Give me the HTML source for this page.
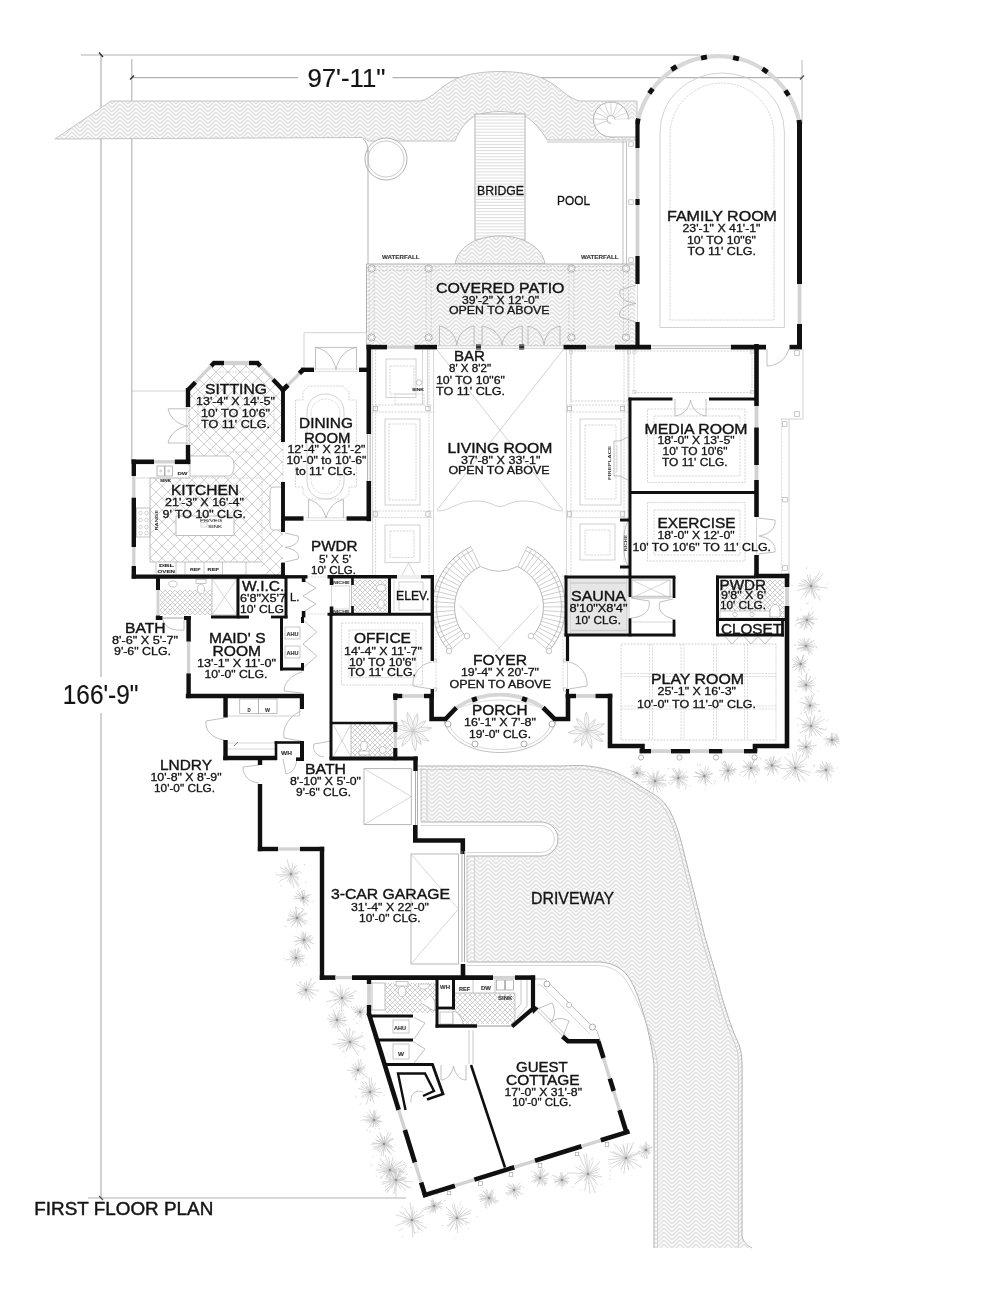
<!DOCTYPE html>
<html><head><meta charset="utf-8"><title>First Floor Plan</title>
<style>
html,body{margin:0;padding:0;background:#fff;}
body{width:1000px;height:1294px;overflow:hidden;}
svg{display:block;font-family:"Liberation Sans",sans-serif;filter:grayscale(1);}
</style></head><body>
<svg width="1000" height="1294" viewBox="0 0 1000 1294">
<rect width="1000" height="1294" fill="#fff"/>
<defs>
<pattern id="hb" width="16" height="4" patternUnits="userSpaceOnUse">
<rect width="16" height="4" fill="#fcfcfc"/><path d="M0,4 L8,-4 M0,8 L8,0 M0,12 L8,4 M8,-8 L16,0 M8,-4 L16,4 M8,0 L16,8" stroke="#dedede" stroke-width="1.25" fill="none"/>
</pattern>
<pattern id="dia" width="12" height="12" patternUnits="userSpaceOnUse">
<path d="M0,0 L12,12 M12,0 L0,12" stroke="#c4c4c4" stroke-width="0.8" fill="none"/>
</pattern>
<pattern id="xh" width="5" height="5" patternUnits="userSpaceOnUse">
<path d="M0,0 L5,5 M5,0 L0,5" stroke="#b8b8b8" stroke-width="0.65" fill="none"/>
</pattern>
</defs>
<polyline points="81,55 700,55" fill="none" stroke="#b2b2b2" stroke-width="1.1"/>
<polyline points="101,55 101,677" fill="none" stroke="#b2b2b2" stroke-width="1.2"/>
<polyline points="101,713 101,1198" fill="none" stroke="#b2b2b2" stroke-width="1.2"/>
<polyline points="88,1198 406,1198" fill="none" stroke="#b2b2b2" stroke-width="1.1"/>
<polyline points="131.8,59 131.8,462" fill="none" stroke="#b2b2b2" stroke-width="1.1"/>
<polyline points="131.8,77.6 298,77.6" fill="none" stroke="#b2b2b2" stroke-width="1.1"/>
<polyline points="392.6,77.6 802,77.6" fill="none" stroke="#b2b2b2" stroke-width="1.1"/>
<polyline points="802,60 802,124" fill="none" stroke="#b2b2b2" stroke-width="0.9"/>
<polyline points="99,52.5 103,57" fill="none" stroke="#333" stroke-width="1.4"/>
<polyline points="130,79.5 134,75.5" fill="none" stroke="#333" stroke-width="1.4"/>
<polyline points="800,79.5 804,75.5" fill="none" stroke="#555" stroke-width="1.4"/>
<polyline points="99,1196 103,1200" fill="none" stroke="#555" stroke-width="1.2"/>
<path d="M111,101 L420,101 C432,99 440,86 456,79 C476,69 524,69 544,79 C560,86 566,98 580,101 L637,101 L637,140 L547,140 C540,128 532,120 525,116 C510,110 490,110 475,116 C468,120 460,128 455,141 L368,141 C366,139 364,137.5 360,137.5 L55,139 Z" fill="url(#hb)" stroke="#bdbdbd" stroke-width="0.9" />
<circle cx="386" cy="159" r="21" fill="#fff" stroke="#aaa" stroke-width="0.9"/>
<circle cx="386" cy="159" r="18" fill="none" stroke="#bbb" stroke-width="0.8"/>
<path d="M368,150 L368,264" fill="none" stroke="#aaa" stroke-width="0.9" />
<path d="M363,139 C366,141 368,145 368,152" fill="none" stroke="#aaa" stroke-width="0.9" />
<polyline points="623,141 623,264" fill="none" stroke="#b0b0b0" stroke-width="0.8"/>
<polyline points="626.5,141 626.5,264" fill="none" stroke="#b0b0b0" stroke-width="0.8"/>
<polyline points="547,142 626,142" fill="none" stroke="#b8b8b8" stroke-width="0.8"/>
<circle cx="611" cy="119.5" r="17.5" fill="#fff" stroke="#aaa" stroke-width="0.9"/>
<circle cx="611" cy="119.5" r="4" fill="none" stroke="#aaa" stroke-width="0.8"/>
<polyline points="607.2,120.9 594.6,125.5" fill="none" stroke="#b8b8b8" stroke-width="0.6"/>
<polyline points="607,119.4 593.5,118.9" fill="none" stroke="#b8b8b8" stroke-width="0.6"/>
<polyline points="607.3,117.9 595,112.4" fill="none" stroke="#b8b8b8" stroke-width="0.6"/>
<polyline points="608.2,116.6 598.8,106.9" fill="none" stroke="#b8b8b8" stroke-width="0.6"/>
<polyline points="609.5,115.8 604.4,103.3" fill="none" stroke="#b8b8b8" stroke-width="0.6"/>
<polyline points="611,115.5 611,102" fill="none" stroke="#b8b8b8" stroke-width="0.6"/>
<polyline points="612.5,115.8 617.6,103.3" fill="none" stroke="#b8b8b8" stroke-width="0.6"/>
<polyline points="613.8,116.6 623.2,106.9" fill="none" stroke="#b8b8b8" stroke-width="0.6"/>
<polyline points="614.7,117.9 627,112.4" fill="none" stroke="#b8b8b8" stroke-width="0.6"/>
<polyline points="615,119.4 628.5,118.9" fill="none" stroke="#b8b8b8" stroke-width="0.6"/>
<polyline points="614.8,120.9 627.4,125.5" fill="none" stroke="#b8b8b8" stroke-width="0.6"/>
<polyline points="614,122.2 624,131.2" fill="none" stroke="#b8b8b8" stroke-width="0.6"/>
<rect x="611" y="119.5" width="26" height="17.5" fill="#fff" stroke="#fff" stroke-width="0"/>
<polyline points="611,137 637,137" fill="none" stroke="#aaa" stroke-width="0.8"/>
<rect x="475" y="114" width="50" height="126" fill="#fff" stroke="#aaa" stroke-width="0.9"/>
<polyline points="475,117 525,117" fill="none" stroke="#cfcfcf" stroke-width="0.7"/>
<polyline points="475,120 525,120" fill="none" stroke="#cfcfcf" stroke-width="0.7"/>
<polyline points="475,123.1 525,123.1" fill="none" stroke="#cfcfcf" stroke-width="0.7"/>
<polyline points="475,126.2 525,126.2" fill="none" stroke="#cfcfcf" stroke-width="0.7"/>
<polyline points="475,129.2 525,129.2" fill="none" stroke="#cfcfcf" stroke-width="0.7"/>
<polyline points="475,132.2 525,132.2" fill="none" stroke="#cfcfcf" stroke-width="0.7"/>
<polyline points="475,135.3 525,135.3" fill="none" stroke="#cfcfcf" stroke-width="0.7"/>
<polyline points="475,138.3 525,138.3" fill="none" stroke="#cfcfcf" stroke-width="0.7"/>
<polyline points="475,141.4 525,141.4" fill="none" stroke="#cfcfcf" stroke-width="0.7"/>
<polyline points="475,144.4 525,144.4" fill="none" stroke="#cfcfcf" stroke-width="0.7"/>
<polyline points="475,147.5 525,147.5" fill="none" stroke="#cfcfcf" stroke-width="0.7"/>
<polyline points="475,150.6 525,150.6" fill="none" stroke="#cfcfcf" stroke-width="0.7"/>
<polyline points="475,153.6 525,153.6" fill="none" stroke="#cfcfcf" stroke-width="0.7"/>
<polyline points="475,156.7 525,156.7" fill="none" stroke="#cfcfcf" stroke-width="0.7"/>
<polyline points="475,159.7 525,159.7" fill="none" stroke="#cfcfcf" stroke-width="0.7"/>
<polyline points="475,162.8 525,162.8" fill="none" stroke="#cfcfcf" stroke-width="0.7"/>
<polyline points="475,165.8 525,165.8" fill="none" stroke="#cfcfcf" stroke-width="0.7"/>
<polyline points="475,168.8 525,168.8" fill="none" stroke="#cfcfcf" stroke-width="0.7"/>
<polyline points="475,171.9 525,171.9" fill="none" stroke="#cfcfcf" stroke-width="0.7"/>
<polyline points="475,174.9 525,174.9" fill="none" stroke="#cfcfcf" stroke-width="0.7"/>
<polyline points="475,178 525,178" fill="none" stroke="#cfcfcf" stroke-width="0.7"/>
<polyline points="475,181.1 525,181.1" fill="none" stroke="#cfcfcf" stroke-width="0.7"/>
<polyline points="475,184.1 525,184.1" fill="none" stroke="#cfcfcf" stroke-width="0.7"/>
<polyline points="475,187.1 525,187.1" fill="none" stroke="#cfcfcf" stroke-width="0.7"/>
<polyline points="475,190.2 525,190.2" fill="none" stroke="#cfcfcf" stroke-width="0.7"/>
<polyline points="475,193.2 525,193.2" fill="none" stroke="#cfcfcf" stroke-width="0.7"/>
<polyline points="475,196.3 525,196.3" fill="none" stroke="#cfcfcf" stroke-width="0.7"/>
<polyline points="475,199.3 525,199.3" fill="none" stroke="#cfcfcf" stroke-width="0.7"/>
<polyline points="475,202.4 525,202.4" fill="none" stroke="#cfcfcf" stroke-width="0.7"/>
<polyline points="475,205.4 525,205.4" fill="none" stroke="#cfcfcf" stroke-width="0.7"/>
<polyline points="475,208.5 525,208.5" fill="none" stroke="#cfcfcf" stroke-width="0.7"/>
<polyline points="475,211.6 525,211.6" fill="none" stroke="#cfcfcf" stroke-width="0.7"/>
<polyline points="475,214.6 525,214.6" fill="none" stroke="#cfcfcf" stroke-width="0.7"/>
<polyline points="475,217.6 525,217.6" fill="none" stroke="#cfcfcf" stroke-width="0.7"/>
<polyline points="475,220.7 525,220.7" fill="none" stroke="#cfcfcf" stroke-width="0.7"/>
<polyline points="475,223.8 525,223.8" fill="none" stroke="#cfcfcf" stroke-width="0.7"/>
<polyline points="475,226.8 525,226.8" fill="none" stroke="#cfcfcf" stroke-width="0.7"/>
<polyline points="475,229.8 525,229.8" fill="none" stroke="#cfcfcf" stroke-width="0.7"/>
<polyline points="475,232.9 525,232.9" fill="none" stroke="#cfcfcf" stroke-width="0.7"/>
<polyline points="475,235.9 525,235.9" fill="none" stroke="#cfcfcf" stroke-width="0.7"/>
<polyline points="475,239 525,239" fill="none" stroke="#cfcfcf" stroke-width="0.7"/>
<path d="M455,264 C458,246 478,236 500,236 C522,236 542,246 545,264 Z" fill="url(#hb)" stroke="#b5b5b5" stroke-width="0.9" />
<rect x="366.5" y="264" width="269" height="82" fill="url(#hb)" stroke="none" stroke-width="0"/>
<polyline points="366.5,264 635,264" fill="none" stroke="#aaa" stroke-width="0.9"/>
<polyline points="366.5,264 366.5,346" fill="none" stroke="#aaa" stroke-width="0.9"/>
<circle cx="371.6" cy="268.5" r="3.6" fill="#fff" stroke="#999" stroke-width="0.8"/>
<circle cx="371.6" cy="268.5" r="2.2" fill="none" stroke="#bbb" stroke-width="0.6"/>
<circle cx="371.6" cy="337.5" r="3.6" fill="#fff" stroke="#999" stroke-width="0.8"/>
<circle cx="371.6" cy="337.5" r="2.2" fill="none" stroke="#bbb" stroke-width="0.6"/>
<circle cx="428.6" cy="268.5" r="3.6" fill="#fff" stroke="#999" stroke-width="0.8"/>
<circle cx="428.6" cy="268.5" r="2.2" fill="none" stroke="#bbb" stroke-width="0.6"/>
<circle cx="428.6" cy="337.5" r="3.6" fill="#fff" stroke="#999" stroke-width="0.8"/>
<circle cx="428.6" cy="337.5" r="2.2" fill="none" stroke="#bbb" stroke-width="0.6"/>
<circle cx="571.4" cy="268.5" r="3.6" fill="#fff" stroke="#999" stroke-width="0.8"/>
<circle cx="571.4" cy="268.5" r="2.2" fill="none" stroke="#bbb" stroke-width="0.6"/>
<circle cx="571.4" cy="337.5" r="3.6" fill="#fff" stroke="#999" stroke-width="0.8"/>
<circle cx="571.4" cy="337.5" r="2.2" fill="none" stroke="#bbb" stroke-width="0.6"/>
<circle cx="626" cy="268.5" r="3.6" fill="#fff" stroke="#999" stroke-width="0.8"/>
<circle cx="626" cy="268.5" r="2.2" fill="none" stroke="#bbb" stroke-width="0.6"/>
<circle cx="626" cy="337.5" r="3.6" fill="#fff" stroke="#999" stroke-width="0.8"/>
<circle cx="626" cy="337.5" r="2.2" fill="none" stroke="#bbb" stroke-width="0.6"/>
<polyline points="369.1,272 369.1,334" fill="none" stroke="#c0c0c0" stroke-width="0.7" stroke-dasharray="2 1.5"/>
<polyline points="374.1,272 374.1,334" fill="none" stroke="#c0c0c0" stroke-width="0.7" stroke-dasharray="2 1.5"/>
<polyline points="426.1,272 426.1,334" fill="none" stroke="#c0c0c0" stroke-width="0.7" stroke-dasharray="2 1.5"/>
<polyline points="431.1,272 431.1,334" fill="none" stroke="#c0c0c0" stroke-width="0.7" stroke-dasharray="2 1.5"/>
<polyline points="568.9,272 568.9,334" fill="none" stroke="#c0c0c0" stroke-width="0.7" stroke-dasharray="2 1.5"/>
<polyline points="573.9,272 573.9,334" fill="none" stroke="#c0c0c0" stroke-width="0.7" stroke-dasharray="2 1.5"/>
<polyline points="623.5,272 623.5,334" fill="none" stroke="#c0c0c0" stroke-width="0.7" stroke-dasharray="2 1.5"/>
<polyline points="628.5,272 628.5,334" fill="none" stroke="#c0c0c0" stroke-width="0.7" stroke-dasharray="2 1.5"/>
<polyline points="375,266.5 623,266.5" fill="none" stroke="#c0c0c0" stroke-width="0.7" stroke-dasharray="2 1.5"/>
<polyline points="375,270.5 623,270.5" fill="none" stroke="#c0c0c0" stroke-width="0.7" stroke-dasharray="2 1.5"/>
<path d="M418,766 L560,766 C564.7,766 578.7,764.9 588,766 C597.3,767.1 606.6,768.8 616,772.6 C625.4,776.4 636.5,783.7 644.6,788.8 C652.7,793.9 659,796.5 664.4,803 C669.8,809.5 673.1,817.2 677,828 C680.9,838.8 684.2,854.2 687.8,868 C691.4,881.8 695.6,899 698.6,911 C701.6,923 702.8,929.2 705.8,940 C708.8,950.8 713.8,966.4 716.5,976 C719.2,985.6 719.4,988.7 722,997.4 C724.6,1006.1 729,1019.6 732,1028 C735,1036.4 738.3,1041.7 740,1048 C741.7,1054.3 741.7,1057.3 742,1066 C742.3,1074.7 742,1094.3 742,1100 L742,1236 C743,1242 748,1246 752,1248 L654,1248 L654,1066 C651,1035 640,997 631,981 C625,970 615,963 600,962 L467,962 L467,856 L541,856 A17,17 0 0 0 541,822 L421,822 L421,766 Z" fill="url(#hb)" stroke="none" stroke-width="0" />
<path d="M418,766 L560,766 C564.7,766 578.7,764.9 588,766 C597.3,767.1 606.6,768.8 616,772.6 C625.4,776.4 636.5,783.7 644.6,788.8 C652.7,793.9 659,796.5 664.4,803 C669.8,809.5 673.1,817.2 677,828 C680.9,838.8 684.2,854.2 687.8,868 C691.4,881.8 695.6,899 698.6,911 C701.6,923 702.8,929.2 705.8,940 C708.8,950.8 713.8,966.4 716.5,976 C719.2,985.6 719.4,988.7 722,997.4 C724.6,1006.1 729,1019.6 732,1028 C735,1036.4 738.3,1041.7 740,1048 C741.7,1054.3 741.7,1057.3 742,1066 C742.3,1074.7 742,1094.3 742,1100 L742,1236 C743,1242 748,1246 752,1248" fill="none" stroke="#ababab" stroke-width="0.9" />
<path d="M418,769.5 L560,769.5 C564.6,769.5 578.5,768.4 587.6,769.5 C596.7,770.5 605.5,772.1 614.7,775.8 C623.9,779.6 634.9,786.9 642.7,791.8 C650.6,796.7 656.5,799 661.7,805.2 C666.9,811.5 669.9,818.6 673.7,829.2 C677.5,839.8 680.8,855.1 684.4,868.9 C688,882.7 692.2,899.8 695.2,911.8 C698.2,923.9 699.4,930.1 702.4,940.9 C705.4,951.8 710.4,967.4 713.1,977 C715.8,986.5 716.1,989.7 718.6,998.4 C721.2,1007.1 725.7,1020.8 728.7,1029.2 C731.7,1037.6 735,1042.7 736.6,1048.9 C738.2,1055.1 738.2,1057.6 738.5,1066.1 C738.8,1074.7 738.5,1094.4 738.5,1100 L738.5,1248" fill="none" stroke="#c4c4c4" stroke-width="0.7" />
<path d="M467,962 L600,962 C615,963 625,970 631,981 C640,997 651,1035 654,1066 L654,1248" fill="none" stroke="#ababab" stroke-width="0.9" />
<path d="M467,965.5 L599,965.5 C613,966.5 622,973 628,983.5 C637,999 654.5,1037 657.5,1066 L657.5,1248" fill="none" stroke="#c4c4c4" stroke-width="0.7" />
<path d="M421,822 L541,822 A17,17 0 0 1 541,856 L467,856" fill="none" stroke="#ababab" stroke-width="0.9" />
<path d="M421,825.5 L541,825.5 A13.5,13.5 0 0 1 541,852.5 L467,852.5" fill="none" stroke="#c4c4c4" stroke-width="0.7" />
<polyline points="421,768 421,822" fill="none" stroke="#b8b8b8" stroke-width="0.8"/>
<polyline points="467,856 467,962" fill="none" stroke="#b8b8b8" stroke-width="0.8"/>
<polyline points="427,770 427,822" fill="none" stroke="#c8c8c8" stroke-width="0.7"/>
<polyline points="474.5,856 474.5,962" fill="none" stroke="#c8c8c8" stroke-width="0.7"/>
<polygon points="214,363 258,363 283,390 283,576 262,576 262,562 150,562 150,478 188,478 188,390" fill="url(#dia)" stroke="none"/>
<path d="M190,456 L228,456 C236,456 236,476 228,476 L190,476 Z" fill="#fff" stroke="#b0b0b0" stroke-width="0.8" />
<rect x="176" y="516" width="58" height="19.5" fill="#fff" stroke="#b0b0b0" stroke-width="0.8"/>
<text x="200" y="521.5" font-size="3.9" textLength="22" lengthAdjust="spacingAndGlyphs" font-weight="normal" fill="#404040" stroke="#404040" stroke-width="0.10" >PR/VEG</text>
<text x="208" y="527.5" font-size="3.9" textLength="14" lengthAdjust="spacingAndGlyphs" font-weight="normal" fill="#404040" stroke="#404040" stroke-width="0.10" >SINK</text>
<rect x="201" y="522.5" width="6" height="4.5" fill="none" stroke="#aaa" stroke-width="0.5"/>
<polyline points="150,478 150,562" fill="none" stroke="#b0b0b0" stroke-width="0.8"/>
<polyline points="150,478 190,478" fill="none" stroke="#b0b0b0" stroke-width="0.8"/>
<polyline points="150,562 262,562" fill="none" stroke="#b0b0b0" stroke-width="0.8"/>
<polyline points="262,478 262,562" fill="none" stroke="#c6c6c6" stroke-width="0.7" stroke-dasharray="2.2 1"/>
<polyline points="150,478 262,478" fill="none" stroke="#c6c6c6" stroke-width="0.7" stroke-dasharray="2.2 1"/>
<rect x="157" y="466" width="7.5" height="10" fill="none" stroke="#999" stroke-width="0.7"/>
<rect x="165" y="466" width="7.5" height="10" fill="none" stroke="#999" stroke-width="0.7"/>
<circle cx="160.7" cy="471" r="1" fill="none" stroke="#999" stroke-width="0.5"/>
<circle cx="168.7" cy="471" r="1" fill="none" stroke="#999" stroke-width="0.5"/>
<text x="160" y="482.3" font-size="4" textLength="11" lengthAdjust="spacingAndGlyphs" font-weight="bold" fill="#303030" stroke="#303030" stroke-width="0.10" >SINK</text>
<text x="177.5" y="475.3" font-size="4.4" textLength="10" lengthAdjust="spacingAndGlyphs" font-weight="bold" fill="#303030" stroke="#303030" stroke-width="0.11" >DW</text>
<rect x="136.5" y="508" width="13.5" height="29" fill="none" stroke="#aaa" stroke-width="0.7"/>
<circle cx="140.5" cy="513" r="1.8" fill="none" stroke="#aaa" stroke-width="0.5"/>
<circle cx="146.5" cy="513" r="1.8" fill="none" stroke="#aaa" stroke-width="0.5"/>
<circle cx="140.5" cy="520" r="1.8" fill="none" stroke="#aaa" stroke-width="0.5"/>
<circle cx="146.5" cy="520" r="1.8" fill="none" stroke="#aaa" stroke-width="0.5"/>
<circle cx="140.5" cy="527" r="1.8" fill="none" stroke="#aaa" stroke-width="0.5"/>
<circle cx="146.5" cy="527" r="1.8" fill="none" stroke="#aaa" stroke-width="0.5"/>
<circle cx="140.5" cy="533" r="1.8" fill="none" stroke="#aaa" stroke-width="0.5"/>
<circle cx="146.5" cy="533" r="1.8" fill="none" stroke="#aaa" stroke-width="0.5"/>
<text transform="translate(158.2 530.5) rotate(-90)" font-size="4.2" textLength="20.5" lengthAdjust="spacingAndGlyphs" font-weight="bold" fill="#303030">RANGE</text>
<polyline points="156,562 156,574" fill="none" stroke="#b0b0b0" stroke-width="0.7"/>
<polyline points="176,562 176,574" fill="none" stroke="#b0b0b0" stroke-width="0.7"/>
<polyline points="185,562 185,574" fill="none" stroke="#b0b0b0" stroke-width="0.7"/>
<polyline points="204,562 204,574" fill="none" stroke="#b0b0b0" stroke-width="0.7"/>
<polyline points="222.5,562 222.5,574" fill="none" stroke="#b0b0b0" stroke-width="0.7"/>
<polyline points="246,562 246,574" fill="none" stroke="#b0b0b0" stroke-width="0.7"/>
<text x="159" y="567" font-size="3.9" textLength="15" lengthAdjust="spacingAndGlyphs" font-weight="bold" fill="#303030" stroke="#303030" stroke-width="0.10" >DBL</text>
<text x="157.5" y="572.8" font-size="3.9" textLength="17.5" lengthAdjust="spacingAndGlyphs" font-weight="bold" fill="#303030" stroke="#303030" stroke-width="0.10" >OVEN</text>
<text x="190" y="570.5" font-size="4.2" textLength="10.5" lengthAdjust="spacingAndGlyphs" font-weight="bold" fill="#303030" stroke="#303030" stroke-width="0.11" >REF</text>
<text x="207.5" y="570.5" font-size="4.2" textLength="11.5" lengthAdjust="spacingAndGlyphs" font-weight="bold" fill="#303030" stroke="#303030" stroke-width="0.11" >REF</text>
<path d="M283,487 L274,487 C270,487 270,491 270,495 L270,522 C270,527 270,530 274,530 L283,530" fill="#fff" stroke="#b0b0b0" stroke-width="0.8" />
<polyline points="136.5,478 150,478" fill="none" stroke="#c6c6c6" stroke-width="0.7"/>
<polyline points="132,391 188,391" fill="none" stroke="#c6c6c6" stroke-width="0.8"/>
<polyline points="168,408.8 188,408.8" fill="none" stroke="#b0b0b0" stroke-width="0.8"/>
<polyline points="168,443 188,443" fill="none" stroke="#b0b0b0" stroke-width="0.8"/>
<path d="M168,408.8 C170,418 178,425 188,426" fill="none" stroke="#b0b0b0" stroke-width="0.8" />
<path d="M168,443 C170,434 178,427 188,426" fill="none" stroke="#b0b0b0" stroke-width="0.8" />
<polygon points="219,372 253,372 274,394 274,432 253,452 219,452 198,432 198,394" fill="none" stroke="#c6c6c6" stroke-width="0.7" stroke-dasharray="2.2 1"/>
<polyline points="224,361.4 249,361.4" fill="none" stroke="#aaa" stroke-width="0.6"/>
<polyline points="224,364.6 249,364.6" fill="none" stroke="#aaa" stroke-width="0.6"/>
<polyline points="304,370 304,332.7 366.5,332.7 366.5,346" fill="none" stroke="#c6c6c6" stroke-width="0.8"/>
<polyline points="315.5,370 315.5,347.4 356.5,347.4 356.5,370" fill="none" stroke="#b0b0b0" stroke-width="0.8"/>
<path d="M315.5,347.4 C326,349 334,358 336,370" fill="none" stroke="#b0b0b0" stroke-width="0.8" />
<path d="M356.5,347.4 C346,349 338,358 336,370" fill="none" stroke="#b0b0b0" stroke-width="0.8" />
<polyline points="314,369 358,369" fill="none" stroke="#c6c6c6" stroke-width="0.6"/>
<polyline points="314,371.4 358,371.4" fill="none" stroke="#c6c6c6" stroke-width="0.6"/>
<path d="M307,412 C307,388 344,388 344,412 L344,481 C344,505 307,505 307,481 Z" fill="none" stroke="#c6c6c6" stroke-width="0.8" />
<path d="M311,414 C311,394 340,394 340,414 L340,479 C340,499 311,499 311,479 Z" fill="none" stroke="#c6c6c6" stroke-width="0.6" stroke-dasharray="2.2 1" />
<polygon points="295.5,400 303,400 303,392 309,386 343,386 349,392 349,400 356.5,400 356.5,487 349,487 349,494 343,499 309,499 303,494 303,487 295.5,487" fill="none" stroke="#c6c6c6" stroke-width="0.7" stroke-dasharray="2.2 1"/>
<polyline points="306,517.8 346,517.8" fill="none" stroke="#c6c6c6" stroke-width="0.6"/>
<polyline points="306,520.4 346,520.4" fill="none" stroke="#c6c6c6" stroke-width="0.6"/>
<polyline points="308.6,518 308.6,499.6" fill="none" stroke="#b0b0b0" stroke-width="0.8"/>
<polyline points="343.4,518 343.4,499.6" fill="none" stroke="#b0b0b0" stroke-width="0.8"/>
<path d="M308.6,499.6 C317,501 324,509 326,518" fill="none" stroke="#b0b0b0" stroke-width="0.8" />
<path d="M343.4,499.6 C335,501 328,509 326,518" fill="none" stroke="#b0b0b0" stroke-width="0.8" />
<path d="M285,533 L298,536 C300,541 296,546 285,547.5" fill="none" stroke="#b0b0b0" stroke-width="0.8" />
<path d="M285,562 L298,559 C300,554 296,549 285,547.5" fill="none" stroke="#b0b0b0" stroke-width="0.8" />
<polyline points="283,442 283,482" fill="none" stroke="#c6c6c6" stroke-width="0.6" stroke-dasharray="2.2 1"/>
<polyline points="372.6,349.5 372.6,575" fill="none" stroke="#c6c6c6" stroke-width="0.7"/>
<polyline points="375.6,349.5 375.6,575" fill="none" stroke="#c6c6c6" stroke-width="0.7" stroke-dasharray="2.2 1"/>
<polyline points="429,349.5 429,575" fill="none" stroke="#c6c6c6" stroke-width="0.7" stroke-dasharray="2.2 1"/>
<polyline points="433.6,349.5 433.6,575" fill="none" stroke="#c6c6c6" stroke-width="0.7"/>
<polyline points="372,405 434,405" fill="none" stroke="#c6c6c6" stroke-width="0.7" stroke-dasharray="2.2 1"/>
<polyline points="372,412 434,412" fill="none" stroke="#c6c6c6" stroke-width="0.7" stroke-dasharray="2.2 1"/>
<polyline points="372,511 434,511" fill="none" stroke="#c6c6c6" stroke-width="0.7" stroke-dasharray="2.2 1"/>
<polyline points="372,517.5 434,517.5" fill="none" stroke="#c6c6c6" stroke-width="0.7" stroke-dasharray="2.2 1"/>
<rect x="373.3" y="406.4" width="4.4" height="4.4" fill="none" stroke="#b0b0b0" stroke-width="0.7"/>
<rect x="425.8" y="406.4" width="4.4" height="4.4" fill="none" stroke="#b0b0b0" stroke-width="0.7"/>
<rect x="373.3" y="511.8" width="4.4" height="4.4" fill="none" stroke="#b0b0b0" stroke-width="0.7"/>
<rect x="425.8" y="511.8" width="4.4" height="4.4" fill="none" stroke="#b0b0b0" stroke-width="0.7"/>
<rect x="386" y="359" width="30" height="38.5" fill="none" stroke="#c6c6c6" stroke-width="0.8"/>
<rect x="390" y="366" width="24" height="28" fill="none" stroke="#c6c6c6" stroke-width="0.7" stroke-dasharray="2.2 1"/>
<rect x="395" y="394" width="29" height="10" fill="none" stroke="#c6c6c6" stroke-width="0.7" stroke-dasharray="2.2 1"/>
<rect x="385" y="419" width="35" height="86" fill="none" stroke="#c6c6c6" stroke-width="0.8"/>
<rect x="389" y="424" width="27" height="76" fill="none" stroke="#c6c6c6" stroke-width="0.7" stroke-dasharray="2.2 1"/>
<rect x="385" y="525" width="35" height="37.5" fill="none" stroke="#c6c6c6" stroke-width="0.8"/>
<rect x="390" y="531" width="24" height="26.5" fill="none" stroke="#c6c6c6" stroke-width="0.7" stroke-dasharray="2.2 1"/>
<polyline points="422.5,349.5 422.5,405" fill="none" stroke="#c6c6c6" stroke-width="0.7"/>
<polyline points="427.5,349.5 427.5,405" fill="none" stroke="#c6c6c6" stroke-width="0.7"/>
<circle cx="419" cy="382.5" r="2.8" fill="none" stroke="#aaa" stroke-width="0.6"/>
<text x="412" y="391" font-size="3.8" textLength="12" lengthAdjust="spacingAndGlyphs" font-weight="bold" fill="#303030" stroke="#303030" stroke-width="0.10" >SINK</text>
<polyline points="566.4,349.5 566.4,575" fill="none" stroke="#c6c6c6" stroke-width="0.7"/>
<polyline points="571,349.5 571,575" fill="none" stroke="#c6c6c6" stroke-width="0.7" stroke-dasharray="2.2 1"/>
<polyline points="624,349.5 624,575" fill="none" stroke="#c6c6c6" stroke-width="0.7" stroke-dasharray="2.2 1"/>
<polyline points="628,349.5 628,575" fill="none" stroke="#c6c6c6" stroke-width="0.7"/>
<polyline points="566,405 629,405" fill="none" stroke="#c6c6c6" stroke-width="0.7" stroke-dasharray="2.2 1"/>
<polyline points="566,412 629,412" fill="none" stroke="#c6c6c6" stroke-width="0.7" stroke-dasharray="2.2 1"/>
<polyline points="566,511 629,511" fill="none" stroke="#c6c6c6" stroke-width="0.7" stroke-dasharray="2.2 1"/>
<polyline points="566,517.5 629,517.5" fill="none" stroke="#c6c6c6" stroke-width="0.7" stroke-dasharray="2.2 1"/>
<rect x="567.3" y="406.4" width="4.4" height="4.4" fill="none" stroke="#b0b0b0" stroke-width="0.7"/>
<rect x="620.3" y="406.4" width="4.4" height="4.4" fill="none" stroke="#b0b0b0" stroke-width="0.7"/>
<rect x="567.3" y="511.8" width="4.4" height="4.4" fill="none" stroke="#b0b0b0" stroke-width="0.7"/>
<rect x="620.3" y="511.8" width="4.4" height="4.4" fill="none" stroke="#b0b0b0" stroke-width="0.7"/>
<rect x="580" y="419" width="41" height="86" fill="none" stroke="#c6c6c6" stroke-width="0.8"/>
<rect x="585" y="425" width="31" height="74" fill="none" stroke="#c6c6c6" stroke-width="0.7" stroke-dasharray="2.2 1"/>
<rect x="580" y="524" width="35" height="36" fill="none" stroke="#c6c6c6" stroke-width="0.8"/>
<rect x="585" y="530" width="25" height="25" fill="none" stroke="#c6c6c6" stroke-width="0.7" stroke-dasharray="2.2 1"/>
<path d="M628,437 L620,441 L614,441 L614,476 L620,476 L628,480" fill="none" stroke="#b0b0b0" stroke-width="0.8" />
<polyline points="617,445 617,472" fill="none" stroke="#c6c6c6" stroke-width="0.7"/>
<text transform="translate(610.5 480) rotate(-90)" font-size="4.1" textLength="34" lengthAdjust="spacingAndGlyphs" font-weight="bold" fill="#303030">FIREPLACE</text>
<path d="M628,521 C622,530 622,557 628,566" fill="none" stroke="#b0b0b0" stroke-width="0.8" />
<text transform="translate(627 551) rotate(-90)" font-size="4" textLength="16" lengthAdjust="spacingAndGlyphs" font-weight="bold" fill="#303030">NICHE</text>
<rect x="571" y="351" width="58" height="50" fill="none" stroke="#c6c6c6" stroke-width="0.7" stroke-dasharray="2.2 1"/>
<rect x="634" y="351" width="118" height="41.5" fill="none" stroke="#c6c6c6" stroke-width="0.7" stroke-dasharray="2.2 1"/>
<rect x="569.4" y="350.4" width="3.2" height="3.2" fill="none" stroke="#c6c6c6" stroke-width="0.6"/>
<rect x="627.4" y="350.4" width="3.2" height="3.2" fill="none" stroke="#c6c6c6" stroke-width="0.6"/>
<rect x="632.9" y="350.4" width="3.2" height="3.2" fill="none" stroke="#c6c6c6" stroke-width="0.6"/>
<rect x="750.4" y="350.4" width="3.2" height="3.2" fill="none" stroke="#c6c6c6" stroke-width="0.6"/>
<rect x="632.9" y="390.4" width="3.2" height="3.2" fill="none" stroke="#c6c6c6" stroke-width="0.6"/>
<rect x="750.4" y="390.4" width="3.2" height="3.2" fill="none" stroke="#c6c6c6" stroke-width="0.6"/>
<polyline points="437,350 563,510" fill="none" stroke="#c6c6c6" stroke-width="0.8"/>
<polyline points="563,350 437,510" fill="none" stroke="#c6c6c6" stroke-width="0.8"/>
<path d="M437,511 C452,511 456,501 476,501 C490,501 494,506.5 500,506.5 C506,506.5 510,501 524,501 C544,501 548,511 563,511" fill="none" stroke="#c6c6c6" stroke-width="0.8" />
<polyline points="439.5,345 439.5,326" fill="none" stroke="#b0b0b0" stroke-width="0.8"/>
<polyline points="474,345 474,326" fill="none" stroke="#b0b0b0" stroke-width="0.8"/>
<path d="M439.5,326 C449.9,328 455.8,336 456.8,345" fill="none" stroke="#b0b0b0" stroke-width="0.8" />
<path d="M474,326 C463.6,328 457.8,336 456.8,345" fill="none" stroke="#b0b0b0" stroke-width="0.8" />
<polyline points="482,345 482,326" fill="none" stroke="#b0b0b0" stroke-width="0.8"/>
<polyline points="522.3,345 522.3,326" fill="none" stroke="#b0b0b0" stroke-width="0.8"/>
<path d="M482,326 C494.1,328 501.1,336 502.1,345" fill="none" stroke="#b0b0b0" stroke-width="0.8" />
<path d="M522.3,326 C510.2,328 503.1,336 502.1,345" fill="none" stroke="#b0b0b0" stroke-width="0.8" />
<polyline points="528,345 528,326" fill="none" stroke="#b0b0b0" stroke-width="0.8"/>
<polyline points="560,345 560,326" fill="none" stroke="#b0b0b0" stroke-width="0.8"/>
<path d="M528,326 C537.6,328 543,336 544,345" fill="none" stroke="#b0b0b0" stroke-width="0.8" />
<path d="M560,326 C550.4,328 545,336 544,345" fill="none" stroke="#b0b0b0" stroke-width="0.8" />
<path d="M660,327.5 L660,132 A62.2,59 0 0 1 784.4,132 L784.4,327.5 Z" fill="none" stroke="#c6c6c6" stroke-width="0.8" />
<path d="M670,320 L670,135 A52,52 0 0 1 774,135 L774,320 Z" fill="none" stroke="#c6c6c6" stroke-width="0.7" stroke-dasharray="2.2 1" />
<rect x="628.8" y="141.8" width="4.4" height="4.4" fill="none" stroke="#b0b0b0" stroke-width="0.7"/>
<rect x="628.8" y="199.8" width="4.4" height="4.4" fill="none" stroke="#b0b0b0" stroke-width="0.7"/>
<rect x="628.8" y="257.8" width="4.4" height="4.4" fill="none" stroke="#b0b0b0" stroke-width="0.7"/>
<polyline points="636.2,148 636.2,256" fill="none" stroke="#aaa" stroke-width="0.5"/>
<polyline points="638.8,148 638.8,256" fill="none" stroke="#aaa" stroke-width="0.5"/>
<path d="M636,285 L620,290 C618,297 624,302 636,303.5" fill="none" stroke="#b0b0b0" stroke-width="0.8" />
<path d="M636,322 L620,317 C618,310 624,305 636,303.5" fill="none" stroke="#b0b0b0" stroke-width="0.8" />
<polyline points="637.5,284 637.5,322" fill="none" stroke="#c6c6c6" stroke-width="0.7"/>
<path d="M767,349 L767,366 C776,366 786,360 789,349" fill="none" stroke="#b0b0b0" stroke-width="0.8" />
<polyline points="803,349 803,419 781,419" fill="none" stroke="#c6c6c6" stroke-width="0.8"/>
<polyline points="789,419 789,575" fill="none" stroke="#c6c6c6" stroke-width="0.8"/>
<polyline points="781.5,419 781.5,575" fill="none" stroke="#c6c6c6" stroke-width="0.6" stroke-dasharray="2.2 1"/>
<rect x="794.7" y="350.7" width="4.6" height="4.6" fill="none" stroke="#b0b0b0" stroke-width="0.7"/>
<rect x="794.7" y="411.7" width="4.6" height="4.6" fill="none" stroke="#b0b0b0" stroke-width="0.7"/>
<rect x="782.3" y="421.7" width="4.6" height="4.6" fill="none" stroke="#b0b0b0" stroke-width="0.7"/>
<rect x="782.7" y="497.3" width="4.6" height="4.6" fill="none" stroke="#b0b0b0" stroke-width="0.7"/>
<rect x="782.7" y="565.7" width="4.6" height="4.6" fill="none" stroke="#b0b0b0" stroke-width="0.7"/>
<polyline points="755.2,406 755.2,427.5" fill="none" stroke="#aaa" stroke-width="0.5"/>
<polyline points="757.8,406 757.8,427.5" fill="none" stroke="#aaa" stroke-width="0.5"/>
<polyline points="755.2,465 755.2,480" fill="none" stroke="#aaa" stroke-width="0.5"/>
<polyline points="757.8,465 757.8,480" fill="none" stroke="#aaa" stroke-width="0.5"/>
<rect x="647.5" y="409" width="97.5" height="73.5" fill="none" stroke="#c6c6c6" stroke-width="0.7" stroke-dasharray="2.2 1"/>
<rect x="654" y="416" width="86" height="60" fill="none" stroke="#c6c6c6" stroke-width="0.7" stroke-dasharray="2.2 1"/>
<polyline points="675,399 675,416" fill="none" stroke="#b0b0b0" stroke-width="0.8"/>
<polyline points="706,399 706,416" fill="none" stroke="#b0b0b0" stroke-width="0.8"/>
<path d="M675,416 C683,415 689,409 690.5,400" fill="none" stroke="#b0b0b0" stroke-width="0.8" />
<path d="M706,416 C698,415 692,409 690.5,400" fill="none" stroke="#b0b0b0" stroke-width="0.8" />
<rect x="647.5" y="502.5" width="97.5" height="58.5" fill="none" stroke="#c6c6c6" stroke-width="0.7" stroke-dasharray="2.2 1"/>
<rect x="654" y="510" width="86" height="45" fill="none" stroke="#c6c6c6" stroke-width="0.7" stroke-dasharray="2.2 1"/>
<polyline points="756.5,517 756.5,555" fill="none" stroke="#c6c6c6" stroke-width="0.7"/>
<path d="M758,518 L775,520 C776,528 770,534 759,536" fill="none" stroke="#b0b0b0" stroke-width="0.8" />
<path d="M758,554 L775,552 C776,544 770,538 759,536" fill="none" stroke="#b0b0b0" stroke-width="0.8" />
<rect x="632" y="580" width="38" height="18" fill="none" stroke="#b0b0b0" stroke-width="0.8"/>
<polyline points="632,580 670,598" fill="none" stroke="#c6c6c6" stroke-width="0.7"/>
<polyline points="670,580 632,598" fill="none" stroke="#c6c6c6" stroke-width="0.7"/>
<polyline points="632,596.5 672,596.5" fill="none" stroke="#c8c8c8" stroke-width="1.4"/>
<polyline points="632,622 672,622" fill="none" stroke="#c6c6c6" stroke-width="0.7"/>
<path d="M631,598 L649,601 C651,610 644,617 631,618" fill="none" stroke="#b0b0b0" stroke-width="0.8" />
<path d="M673,599 L660,602 C657,609 662,616 673,619" fill="none" stroke="#b0b0b0" stroke-width="0.8" />
<rect x="720" y="580" width="64" height="38" fill="url(#xh)" stroke="none" stroke-width="0"/>
<rect x="720" y="611" width="50" height="7" fill="#fff" stroke="#b0b0b0" stroke-width="0.7"/>
<path d="M770,612 C770,602 780,602 780,612 L780,617 L770,617 Z" fill="#fff" stroke="#b0b0b0" stroke-width="0.8" />
<circle cx="735" cy="614.5" r="2.2" fill="none" stroke="#b0b0b0" stroke-width="0.6"/>
<circle cx="752" cy="614.5" r="2.2" fill="none" stroke="#b0b0b0" stroke-width="0.6"/>
<polyline points="785.7,587 785.7,606" fill="none" stroke="#aaa" stroke-width="0.5"/>
<polyline points="788.3,587 788.3,606" fill="none" stroke="#aaa" stroke-width="0.5"/>
<path d="M725,636.5 L732,644 L739,636.5 M744,636.5 L751,644 L758,636.5 L765,644 L772,636.5" fill="none" stroke="#b0b0b0" stroke-width="0.8" />
<polyline points="649.5,644 649.5,740" fill="none" stroke="#c6c6c6" stroke-width="0.6" stroke-dasharray="2.2 1"/>
<polyline points="652.5,644 652.5,740" fill="none" stroke="#c6c6c6" stroke-width="0.6" stroke-dasharray="2.2 1"/>
<polyline points="681,644 681,740" fill="none" stroke="#c6c6c6" stroke-width="0.6" stroke-dasharray="2.2 1"/>
<polyline points="684,644 684,740" fill="none" stroke="#c6c6c6" stroke-width="0.6" stroke-dasharray="2.2 1"/>
<polyline points="713.5,644 713.5,740" fill="none" stroke="#c6c6c6" stroke-width="0.6" stroke-dasharray="2.2 1"/>
<polyline points="716.5,644 716.5,740" fill="none" stroke="#c6c6c6" stroke-width="0.6" stroke-dasharray="2.2 1"/>
<polyline points="744.5,644 744.5,740" fill="none" stroke="#c6c6c6" stroke-width="0.6" stroke-dasharray="2.2 1"/>
<polyline points="747.5,644 747.5,740" fill="none" stroke="#c6c6c6" stroke-width="0.6" stroke-dasharray="2.2 1"/>
<polyline points="621,673.5 776,673.5" fill="none" stroke="#c6c6c6" stroke-width="0.6" stroke-dasharray="2.2 1"/>
<polyline points="621,676.5 776,676.5" fill="none" stroke="#c6c6c6" stroke-width="0.6" stroke-dasharray="2.2 1"/>
<polyline points="621,706 776,706" fill="none" stroke="#c6c6c6" stroke-width="0.6" stroke-dasharray="2.2 1"/>
<polyline points="621,709 776,709" fill="none" stroke="#c6c6c6" stroke-width="0.6" stroke-dasharray="2.2 1"/>
<rect x="621" y="644" width="155" height="96" fill="none" stroke="#c6c6c6" stroke-width="0.7" stroke-dasharray="2.2 1"/>
<circle cx="641" cy="757.5" r="2.6" fill="#fff" stroke="#999" stroke-width="0.7"/>
<circle cx="679.5" cy="757.5" r="2.6" fill="#fff" stroke="#999" stroke-width="0.7"/>
<circle cx="716" cy="757.5" r="2.6" fill="#fff" stroke="#999" stroke-width="0.7"/>
<circle cx="754.5" cy="757.5" r="2.6" fill="#fff" stroke="#999" stroke-width="0.7"/>
<polyline points="651,749.9 671,749.9" fill="none" stroke="#aaa" stroke-width="0.5"/>
<polyline points="651,752.5 671,752.5" fill="none" stroke="#aaa" stroke-width="0.5"/>
<polyline points="690,749.9 709,749.9" fill="none" stroke="#aaa" stroke-width="0.5"/>
<polyline points="690,752.5 709,752.5" fill="none" stroke="#aaa" stroke-width="0.5"/>
<polyline points="722.5,749.9 744,749.9" fill="none" stroke="#aaa" stroke-width="0.5"/>
<polyline points="722.5,752.5 744,752.5" fill="none" stroke="#aaa" stroke-width="0.5"/>
<polyline points="567.5,661 567.5,689" fill="none" stroke="#c6c6c6" stroke-width="0.7"/>
<path d="M568.5,689 L587,686 C588,676 581,664 568.5,662" fill="none" stroke="#b0b0b0" stroke-width="0.8" />
<rect x="563.5" y="659" width="3" height="3" fill="none" stroke="#b0b0b0" stroke-width="0.6"/>
<rect x="563.5" y="688" width="3" height="3" fill="none" stroke="#b0b0b0" stroke-width="0.6"/>
<path d="M431.5,689 L413,686 C412,676 419,664 431.5,662" fill="none" stroke="#b0b0b0" stroke-width="0.8" />
<rect x="433.5" y="659" width="3" height="3" fill="none" stroke="#b0b0b0" stroke-width="0.6"/>
<rect x="433.5" y="688" width="3" height="3" fill="none" stroke="#b0b0b0" stroke-width="0.6"/>
<path d="M449.2,651.1 A66.5,66.5 0 0 1 470.9,546.7" fill="none" stroke="#aeaeae" stroke-width="0.9" />
<path d="M452.2,648.4 A62.5,62.5 0 0 1 472.6,550.4" fill="none" stroke="#aeaeae" stroke-width="0.7" />
<path d="M465.7,636.5 A44.5,44.5 0 0 1 480.2,566.7" fill="none" stroke="#aeaeae" stroke-width="0.9" />
<polyline points="465.7,636.5 449.2,651.1" fill="none" stroke="#aeaeae" stroke-width="0.6"/>
<polyline points="463.4,633.7 445.8,646.9" fill="none" stroke="#aeaeae" stroke-width="0.6"/>
<polyline points="461.4,630.7 442.8,642.5" fill="none" stroke="#aeaeae" stroke-width="0.6"/>
<polyline points="459.6,627.6 440.1,637.8" fill="none" stroke="#aeaeae" stroke-width="0.6"/>
<polyline points="458,624.4 437.8,633" fill="none" stroke="#aeaeae" stroke-width="0.6"/>
<polyline points="456.8,621 435.9,627.9" fill="none" stroke="#aeaeae" stroke-width="0.6"/>
<polyline points="455.8,617.6 434.4,622.8" fill="none" stroke="#aeaeae" stroke-width="0.6"/>
<polyline points="455.1,614 433.3,617.5" fill="none" stroke="#aeaeae" stroke-width="0.6"/>
<polyline points="454.6,610.5 432.7,612.2" fill="none" stroke="#aeaeae" stroke-width="0.6"/>
<polyline points="454.5,606.9 432.5,606.8" fill="none" stroke="#aeaeae" stroke-width="0.6"/>
<polyline points="454.7,603.3 432.7,601.4" fill="none" stroke="#aeaeae" stroke-width="0.6"/>
<polyline points="455.1,599.7 433.4,596.1" fill="none" stroke="#aeaeae" stroke-width="0.6"/>
<polyline points="455.8,596.2 434.5,590.8" fill="none" stroke="#aeaeae" stroke-width="0.6"/>
<polyline points="456.8,592.7 436,585.7" fill="none" stroke="#aeaeae" stroke-width="0.6"/>
<polyline points="458.1,589.4 437.9,580.7" fill="none" stroke="#aeaeae" stroke-width="0.6"/>
<polyline points="459.7,586.1 440.3,575.8" fill="none" stroke="#aeaeae" stroke-width="0.6"/>
<polyline points="461.5,583 443,571.2" fill="none" stroke="#aeaeae" stroke-width="0.6"/>
<polyline points="463.6,580.1 446,566.8" fill="none" stroke="#aeaeae" stroke-width="0.6"/>
<polyline points="465.9,577.3 449.5,562.6" fill="none" stroke="#aeaeae" stroke-width="0.6"/>
<polyline points="468.4,574.7 453.2,558.8" fill="none" stroke="#aeaeae" stroke-width="0.6"/>
<polyline points="471.1,572.4 457.2,555.2" fill="none" stroke="#aeaeae" stroke-width="0.6"/>
<polyline points="473.9,570.2 461.6,552" fill="none" stroke="#aeaeae" stroke-width="0.6"/>
<polyline points="477,568.3 466.1,549.2" fill="none" stroke="#aeaeae" stroke-width="0.6"/>
<polyline points="480.2,566.7 470.9,546.7" fill="none" stroke="#aeaeae" stroke-width="0.6"/>
<path d="M548.8,651.1 A66.5,66.5 0 0 0 527.1,546.7" fill="none" stroke="#aeaeae" stroke-width="0.9" />
<path d="M545.8,648.4 A62.5,62.5 0 0 0 525.4,550.4" fill="none" stroke="#aeaeae" stroke-width="0.7" />
<path d="M532.3,636.5 A44.5,44.5 0 0 0 517.8,566.7" fill="none" stroke="#aeaeae" stroke-width="0.9" />
<polyline points="532.3,636.5 548.8,651.1" fill="none" stroke="#aeaeae" stroke-width="0.6"/>
<polyline points="534.6,633.7 552.2,646.9" fill="none" stroke="#aeaeae" stroke-width="0.6"/>
<polyline points="536.6,630.7 555.2,642.5" fill="none" stroke="#aeaeae" stroke-width="0.6"/>
<polyline points="538.4,627.6 557.9,637.8" fill="none" stroke="#aeaeae" stroke-width="0.6"/>
<polyline points="540,624.4 560.2,633" fill="none" stroke="#aeaeae" stroke-width="0.6"/>
<polyline points="541.2,621 562.1,627.9" fill="none" stroke="#aeaeae" stroke-width="0.6"/>
<polyline points="542.2,617.6 563.6,622.8" fill="none" stroke="#aeaeae" stroke-width="0.6"/>
<polyline points="542.9,614 564.7,617.5" fill="none" stroke="#aeaeae" stroke-width="0.6"/>
<polyline points="543.4,610.5 565.3,612.2" fill="none" stroke="#aeaeae" stroke-width="0.6"/>
<polyline points="543.5,606.9 565.5,606.8" fill="none" stroke="#aeaeae" stroke-width="0.6"/>
<polyline points="543.3,603.3 565.3,601.4" fill="none" stroke="#aeaeae" stroke-width="0.6"/>
<polyline points="542.9,599.7 564.6,596.1" fill="none" stroke="#aeaeae" stroke-width="0.6"/>
<polyline points="542.2,596.2 563.5,590.8" fill="none" stroke="#aeaeae" stroke-width="0.6"/>
<polyline points="541.2,592.7 562,585.7" fill="none" stroke="#aeaeae" stroke-width="0.6"/>
<polyline points="539.9,589.4 560.1,580.7" fill="none" stroke="#aeaeae" stroke-width="0.6"/>
<polyline points="538.3,586.1 557.7,575.8" fill="none" stroke="#aeaeae" stroke-width="0.6"/>
<polyline points="536.5,583 555,571.2" fill="none" stroke="#aeaeae" stroke-width="0.6"/>
<polyline points="534.4,580.1 552,566.8" fill="none" stroke="#aeaeae" stroke-width="0.6"/>
<polyline points="532.1,577.3 548.5,562.6" fill="none" stroke="#aeaeae" stroke-width="0.6"/>
<polyline points="529.6,574.7 544.8,558.8" fill="none" stroke="#aeaeae" stroke-width="0.6"/>
<polyline points="526.9,572.4 540.8,555.2" fill="none" stroke="#aeaeae" stroke-width="0.6"/>
<polyline points="524.1,570.2 536.4,552" fill="none" stroke="#aeaeae" stroke-width="0.6"/>
<polyline points="521,568.3 531.9,549.2" fill="none" stroke="#aeaeae" stroke-width="0.6"/>
<polyline points="517.8,566.7 527.1,546.7" fill="none" stroke="#aeaeae" stroke-width="0.6"/>
<path d="M480.5,566.5 Q499,576 517.5,566.5" fill="none" stroke="#aeaeae" stroke-width="0.8" />
<polyline points="459.5,605.5 504.5,653.5" fill="none" stroke="#c6c6c6" stroke-width="0.7"/>
<polyline points="539,605.5 494,653.5" fill="none" stroke="#c6c6c6" stroke-width="0.7"/>
<circle cx="449" cy="651" r="2.8" fill="#fff" stroke="#aeaeae" stroke-width="0.7"/>
<circle cx="467" cy="636" r="2.8" fill="#fff" stroke="#aeaeae" stroke-width="0.7"/>
<circle cx="549" cy="651" r="2.8" fill="#fff" stroke="#aeaeae" stroke-width="0.7"/>
<circle cx="531" cy="636" r="2.8" fill="#fff" stroke="#aeaeae" stroke-width="0.7"/>
<polyline points="436,575 436,690" fill="none" stroke="#c6c6c6" stroke-width="0.6" stroke-dasharray="2.2 1"/>
<polyline points="563,575 563,690" fill="none" stroke="#c6c6c6" stroke-width="0.6" stroke-dasharray="2.2 1"/>
<path d="M444,721 C450,742 474,752.5 500,752.5 C526,752.5 550,742 556,721" fill="none" stroke="#b0b0b0" stroke-width="0.8" />
<path d="M449,724 C455,741 476,749.5 500,749.5 C524,749.5 545,741 551,724" fill="none" stroke="#c6c6c6" stroke-width="0.7" />
<path d="M457,709 C470,703 486,700 500,700 C514,700 530,703 543,709" fill="none" stroke="#c6c6c6" stroke-width="0.6" />
<circle cx="448" cy="724" r="3" fill="#fff" stroke="#999" stroke-width="0.8"/>
<circle cx="552" cy="724" r="3" fill="#fff" stroke="#999" stroke-width="0.8"/>
<circle cx="475" cy="744" r="3" fill="#fff" stroke="#999" stroke-width="0.8"/>
<circle cx="524" cy="744" r="3" fill="#fff" stroke="#999" stroke-width="0.8"/>
<polyline points="402.5,694.8 424,694.8" fill="none" stroke="#aaa" stroke-width="0.5"/>
<polyline points="402.5,697.2 424,697.2" fill="none" stroke="#aaa" stroke-width="0.5"/>
<polyline points="576,694.8 595.5,694.8" fill="none" stroke="#aaa" stroke-width="0.5"/>
<polyline points="576,697.2 595.5,697.2" fill="none" stroke="#aaa" stroke-width="0.5"/>
<rect x="160" y="590" width="52" height="25" fill="url(#xh)" stroke="none" stroke-width="0"/>
<ellipse cx="173" cy="584" rx="4.2" ry="3" fill="#fff" stroke="#b0b0b0" stroke-width="0.7"/>
<rect x="196" y="579.5" width="10" height="4" fill="#fff" stroke="#b0b0b0" stroke-width="0.7"/>
<ellipse cx="201" cy="589" rx="3.6" ry="4.8" fill="#fff" stroke="#b0b0b0" stroke-width="0.7"/>
<rect x="212" y="579" width="25" height="36" fill="#fff" stroke="#b0b0b0" stroke-width="0.8"/>
<polyline points="212,579 237,615" fill="none" stroke="#c6c6c6" stroke-width="0.7"/>
<polyline points="237,579 212,615" fill="none" stroke="#c6c6c6" stroke-width="0.7"/>
<path d="M163,620 C165,628 174,631 184,630 L184,620" fill="none" stroke="#b0b0b0" stroke-width="0.8" />
<path d="M303,580 L316,588 L303,596 L316,604 L303,612" fill="none" stroke="#b0b0b0" stroke-width="0.8" />
<path d="M303,620 L317,632 L303,644 L317,656 L303,668" fill="none" stroke="#b0b0b0" stroke-width="0.8" />
<polyline points="307.5,577 327.5,577" fill="none" stroke="#c6c6c6" stroke-width="0.6" stroke-dasharray="2.2 1"/>
<polyline points="307.5,614 327.5,614" fill="none" stroke="#c6c6c6" stroke-width="0.6" stroke-dasharray="2.2 1"/>
<rect x="285" y="627" width="15" height="12" fill="none" stroke="#b0b0b0" stroke-width="0.7"/>
<rect x="285" y="646" width="15" height="12" fill="none" stroke="#b0b0b0" stroke-width="0.7"/>
<path d="M302,693 L284,691 C284,683 291,675 302,672" fill="none" stroke="#b0b0b0" stroke-width="0.8" />
<rect x="227.6" y="697" width="72" height="19" fill="none" stroke="#c6c6c6" stroke-width="0.8"/>
<rect x="239.7" y="699" width="18.7" height="14.6" fill="none" stroke="#b0b0b0" stroke-width="0.8"/>
<rect x="258.4" y="699" width="18.6" height="14.6" fill="none" stroke="#b0b0b0" stroke-width="0.8"/>
<polyline points="227.6,743 276,743" fill="none" stroke="#c6c6c6" stroke-width="0.7"/>
<polyline points="227.6,749 276,749" fill="none" stroke="#c6c6c6" stroke-width="0.7"/>
<polyline points="234,746 238,742" fill="none" stroke="#777" stroke-width="0.9"/>
<path d="M224,718 L206,721 C205,731 212,738 224,740" fill="none" stroke="#b0b0b0" stroke-width="0.8" />
<path d="M301,741 L284,738 C282,728 289,716 301,711" fill="none" stroke="#b0b0b0" stroke-width="0.8" />
<path d="M283,759 L286,774 C292,773 296,768 297,759" fill="none" stroke="#b0b0b0" stroke-width="0.8" />
<path d="M259,765 L243,767 C243,776 249,782 259,783" fill="none" stroke="#b0b0b0" stroke-width="0.8" />
<path d="M331,741 L314,744 C312,750 316,756 324,757" fill="none" stroke="#b0b0b0" stroke-width="0.8" />
<rect x="351" y="724" width="42" height="33" fill="url(#xh)" stroke="none" stroke-width="0"/>
<polygon points="373,724 381.6,734.5 391.5,724" fill="#fff" stroke="#b0b0b0" stroke-width="0.8"/>
<polyline points="351,724 351,757" fill="none" stroke="#b0b0b0" stroke-width="0.8"/>
<polyline points="333,724 351,757" fill="none" stroke="#c6c6c6" stroke-width="0.7"/>
<polyline points="351,724 333,757" fill="none" stroke="#c6c6c6" stroke-width="0.7"/>
<rect x="359" y="751" width="10" height="4" fill="#fff" stroke="#b0b0b0" stroke-width="0.7"/>
<ellipse cx="364" cy="746" rx="3.4" ry="4.6" fill="#fff" stroke="#b0b0b0" stroke-width="0.7"/>
<circle cx="382.7" cy="750" r="3.4" fill="#fff" stroke="#b0b0b0" stroke-width="0.7"/>
<rect x="341.6" y="623" width="81" height="62" fill="none" stroke="#c6c6c6" stroke-width="0.7" stroke-dasharray="2.2 1"/>
<rect x="349" y="630" width="67" height="47.6" fill="none" stroke="#c6c6c6" stroke-width="0.7" stroke-dasharray="2.2 1"/>
<rect x="352.5" y="580" width="35" height="32" fill="url(#xh)" stroke="none" stroke-width="0"/>
<ellipse cx="381" cy="588" rx="4.4" ry="3.4" fill="#fff" stroke="#b0b0b0" stroke-width="0.7"/>
<ellipse cx="381" cy="604" rx="3.2" ry="4.2" fill="#fff" stroke="#b0b0b0" stroke-width="0.7"/>
<polyline points="351.5,578 351.5,613" fill="none" stroke="#b0b0b0" stroke-width="0.8"/>
<rect x="331.5" y="586" width="18" height="23" fill="none" stroke="#c6c6c6" stroke-width="0.7"/>
<rect x="399" y="582" width="24" height="28" fill="none" stroke="#c6c6c6" stroke-width="0.8"/>
<polyline points="394,580 394,611" fill="none" stroke="#c6c6c6" stroke-width="0.7"/>
<polyline points="397,576 421,576" fill="none" stroke="#c6c6c6" stroke-width="0.6"/>
<polyline points="397,578 421,578" fill="none" stroke="#c6c6c6" stroke-width="0.6"/>
<path d="M402,575 L408.5,563 L415,575" fill="none" stroke="#c6c6c6" stroke-width="0.7" />
<rect x="364" y="768.6" width="47.3" height="56" fill="none" stroke="#b0b0b0" stroke-width="0.9"/>
<polyline points="364,768.6 411.3,796.6 364,824.6" fill="none" stroke="#c6c6c6" stroke-width="0.7"/>
<rect x="411" y="854" width="47.5" height="110" fill="none" stroke="#b0b0b0" stroke-width="0.9"/>
<polyline points="411,854 458.5,909 411,964" fill="none" stroke="#c6c6c6" stroke-width="0.7"/>
<rect x="372" y="983" width="13" height="27" fill="none" stroke="#b0b0b0" stroke-width="0.8"/>
<rect x="385" y="983" width="51" height="30" fill="url(#xh)" stroke="none" stroke-width="0"/>
<rect x="396" y="981.5" width="12" height="4.5" fill="#fff" stroke="#b0b0b0" stroke-width="0.7"/>
<ellipse cx="402" cy="991.5" rx="3.8" ry="5.2" fill="#fff" stroke="#b0b0b0" stroke-width="0.7"/>
<path d="M418.5,984 C418.5,991 429.5,991 429.5,984 Z" fill="#fff" stroke="#b0b0b0" stroke-width="0.7" />
<path d="M421,1003 L434,1011 C436,1005 435,999 431,996" fill="#fff" stroke="#b0b0b0" stroke-width="0.8" />
<polyline points="367.8,985 367.8,1005" fill="none" stroke="#aaa" stroke-width="0.5"/>
<polyline points="370.3,985 370.3,1005" fill="none" stroke="#aaa" stroke-width="0.5"/>
<rect x="455" y="993" width="60" height="31" fill="url(#xh)" stroke="none" stroke-width="0"/>
<polyline points="455,993 515,993" fill="none" stroke="#b0b0b0" stroke-width="0.8"/>
<polyline points="473,979.5 473,993" fill="none" stroke="#b0b0b0" stroke-width="0.7"/>
<polyline points="495,979.5 495,993" fill="none" stroke="#b0b0b0" stroke-width="0.7"/>
<rect x="496.5" y="980" width="8" height="10" fill="#fff" stroke="#999" stroke-width="0.7"/>
<rect x="505.5" y="980" width="8" height="10" fill="#fff" stroke="#999" stroke-width="0.7"/>
<path d="M515,993 L515,1022 M521,980 L521,1004 L515,1010 M527,980 L527,1006 L517,1018" fill="none" stroke="#b0b0b0" stroke-width="0.7" />
<rect x="440" y="1012" width="13" height="12" fill="#fff" stroke="#b0b0b0" stroke-width="0.7"/>
<path d="M453,1024 L453,1011 C458,1012 462,1017 463,1024" fill="#fff" stroke="#b0b0b0" stroke-width="0.8" />
<rect x="393" y="1020" width="16" height="13" fill="none" stroke="#b0b0b0" stroke-width="0.7"/>
<rect x="393" y="1044" width="16" height="15" fill="none" stroke="#b0b0b0" stroke-width="0.7"/>
<path d="M414,1017.5 L425,1023 L414,1039" fill="none" stroke="#b0b0b0" stroke-width="0.8" />
<path d="M413,1041.5 L425,1049 L414,1063" fill="none" stroke="#b0b0b0" stroke-width="0.8" />
<polyline points="441,1065 441,1080" fill="none" stroke="#b0b0b0" stroke-width="0.8"/>
<polyline points="466,1065 466,1080" fill="none" stroke="#b0b0b0" stroke-width="0.8"/>
<path d="M441,1080 C447,1080 452,1074 453.5,1066" fill="none" stroke="#b0b0b0" stroke-width="0.8" />
<path d="M466,1080 C460,1080 455,1074 453.5,1066" fill="none" stroke="#b0b0b0" stroke-width="0.8" />
<polyline points="469,1030 469,1064" fill="none" stroke="#b0b0b0" stroke-width="0.7"/>
<polyline points="473,1030 473,1064" fill="none" stroke="#b0b0b0" stroke-width="0.7"/>
<path d="M411,1102.5 C410,1094 416,1089 423,1092" fill="none" stroke="#b0b0b0" stroke-width="0.8" />
<polyline points="534.5,1008 564,1037.5" fill="none" stroke="#b0b0b0" stroke-width="0.8"/>
<polyline points="536.5,1006 566,1035.5" fill="none" stroke="#b0b0b0" stroke-width="0.8"/>
<path d="M537,1009 L552,1003 C556,1010 555,1018 550,1023" fill="none" stroke="#b0b0b0" stroke-width="0.8" />
<path d="M563,1036 L569,1021 C562,1017 555,1018 550,1023" fill="none" stroke="#b0b0b0" stroke-width="0.8" />
<polyline points="535,979 545,979 597,1031 600,1040" fill="none" stroke="#b0b0b0" stroke-width="0.8"/>
<polyline points="537,985 541,985 590,1034" fill="none" stroke="#c6c6c6" stroke-width="0.7"/>
<circle cx="547" cy="984" r="3" fill="#fff" stroke="#999" stroke-width="0.8"/>
<circle cx="592.5" cy="1027" r="3" fill="#fff" stroke="#999" stroke-width="0.8"/>
<circle cx="569" cy="1005" r="2.6" fill="#fff" stroke="#aaa" stroke-width="0.7"/>
<rect x="447.2" y="1191.2" width="3.6" height="3.6" fill="none" stroke="#999" stroke-width="0.6"/>
<rect x="478.7" y="1181.7" width="3.6" height="3.6" fill="none" stroke="#999" stroke-width="0.6"/>
<rect x="509.2" y="1172.7" width="3.6" height="3.6" fill="none" stroke="#999" stroke-width="0.6"/>
<rect x="538.2" y="1163.7" width="3.6" height="3.6" fill="none" stroke="#999" stroke-width="0.6"/>
<rect x="575.2" y="1152.2" width="3.6" height="3.6" fill="none" stroke="#999" stroke-width="0.6"/>
<rect x="605.2" y="1142.7" width="3.6" height="3.6" fill="none" stroke="#999" stroke-width="0.6"/>
<path d="M811,586 L817.4,583.6 M811,586 L818.4,585.7 M811,586 L827.8,588.1 M811,586 L818.1,587.8 M811,586 L818.9,590.5 M811,586 L816,590.8 M811,586 L820.6,600.5 M811,586 L815.5,598.3 M811,586 L814.5,598.7 M811,586 L811.5,594.9 M811,586 L808.8,593.6 M811,586 L805.4,597.3 M811,586 L802.6,595.7 M811,586 L804.9,590.3 M811,586 L803.2,589.5 M811,586 L797.1,590.6 M811,586 L797.5,585.9 M811,586 L798.8,583.4 M811,586 L800.7,580.4 M811,586 L803.3,578.9 M811,586 L805.1,580 M811,586 L808,579.4 M811,586 L807.1,574.5 M811,586 L809.9,574.5 M811,586 L812.3,579 M811,586 L814,578.3 M811,586 L820,571.3 M811,586 L823.4,573.6 M811,586 L821.2,578.2 " fill="none" stroke="#c0c0c0" stroke-width="0.6" />
<path d="M815.4,568.3 l-0.6,-0.6 M793,586.4 l-1.7,-1.6 M808.9,602.5 l-1.7,0.9 M805.5,600 l0.7,-0.2 M807,567.3 l-0.6,1.8 M801.5,598.2 l-0,-1.1 M807,602.7 l-0.4,1.7 M801.6,586.2 l-0.4,-0.9 M819.5,595.9 l0.2,0.8 M827.4,584.6 l-0.5,-1.1 M819,590.6 l0.6,-2 M815.7,577.6 l-0.9,-1.4 " fill="none" stroke="#c8c8c8" stroke-width="0.7" />
<circle cx="811" cy="586" r="0.9" fill="#8a8a8a" stroke="#8a8a8a" stroke-width="0.5"/>
<path d="M807,620 L799,628.4 M807,620 L800.1,624.5 M807,620 L798.3,623.7 M807,620 L796.4,623.7 M807,620 L796,619.7 M807,620 L799.9,618.3 M807,620 L802.3,618.4 M807,620 L803.1,617.4 M807,620 L802.3,616.5 M807,620 L802.5,614.8 M807,620 L804.8,616.4 M807,620 L805.4,615.3 M807,620 L806.7,615.6 M807,620 L809.2,611.3 M807,620 L808.7,614.1 M807,620 L810.5,613.9 M807,620 L813.6,611.4 M807,620 L813.8,616.2 M807,620 L811.4,618 M807,620 L813.5,617.8 M807,620 L817.6,619 M807,620 L811.4,620.3 M807,620 L814.4,623.7 M807,620 L814.5,623.8 M807,620 L813.7,624.9 M807,620 L812.4,629.5 M807,620 L809.3,625.8 M807,620 L808.4,625.3 M807,620 L806.8,628.4 M807,620 L805.5,626.6 M807,620 L804,630.1 M807,620 L800.3,628.5 " fill="none" stroke="#c0c0c0" stroke-width="0.6" />
<path d="M811.2,608.6 l1,-1.1 M799,619.1 l-1.9,-1.9 M805.7,627 l0.8,1.8 M794.5,624.3 l2,1.8 M802.5,625.1 l-1.1,-1.2 M810,630 l1.6,1.4 M796.4,621.4 l1.2,-1.7 M800.1,609 l1.1,1 " fill="none" stroke="#c8c8c8" stroke-width="0.7" />
<circle cx="807" cy="620" r="0.9" fill="#8a8a8a" stroke="#8a8a8a" stroke-width="0.5"/>
<path d="M806,646 L812.3,640.5 M806,646 L814.8,640 M806,646 L813,644.3 M806,646 L810.5,645.8 M806,646 L816.9,646.3 M806,646 L813.9,647.6 M806,646 L813.5,650.2 M806,646 L812,651.5 M806,646 L812.4,654.4 M806,646 L809.9,652.7 M806,646 L809.4,655 M806,646 L805.9,650.6 M806,646 L804.9,650.7 M806,646 L803.6,650.6 M806,646 L803.5,649.2 M806,646 L801.2,651.7 M806,646 L800.7,649.2 M806,646 L796.9,649.7 M806,646 L797.3,648.7 M806,646 L797.5,645.1 M806,646 L798.8,643.9 M806,646 L797.1,641.2 M806,646 L801.7,643.5 M806,646 L799.1,638.6 M806,646 L802.2,638.7 M806,646 L804.6,641.3 M806,646 L804.1,637.9 M806,646 L805.9,641.7 M806,646 L808.3,638.7 M806,646 L810.2,637.6 M806,646 L808.9,642.9 " fill="none" stroke="#c0c0c0" stroke-width="0.6" />
<path d="M807.7,650.4 l-1.6,-0.2 M817.6,648.1 l-1.7,-0.7 M815.3,644.4 l-1.2,-0.9 M795,645.5 l0,-1 M794.5,644.3 l1.7,1.7 M810.7,642.2 l-0.2,-0.3 M800.5,650.4 l0.7,-0.3 " fill="none" stroke="#c8c8c8" stroke-width="0.7" />
<circle cx="806" cy="646" r="0.9" fill="#8a8a8a" stroke="#8a8a8a" stroke-width="0.5"/>
<path d="M800.6,664 L796.6,655.6 M800.6,664 L797.7,656.4 M800.6,664 L800.6,659.6 M800.6,664 L803.3,654.6 M800.6,664 L804,654.9 M800.6,664 L804.5,658.6 M800.6,664 L808.1,659.2 M800.6,664 L806,660.8 M800.6,664 L806.2,662.8 M800.6,664 L806.2,663.7 M800.6,664 L804.1,665.1 M800.6,664 L806.2,667 M800.6,664 L805.3,667.2 M800.6,664 L804.4,669.7 M800.6,664 L805.3,672.7 M800.6,664 L801.5,673.8 M800.6,664 L800.7,669.2 M800.6,664 L798.9,672.4 M800.6,664 L798.6,667.8 M800.6,664 L794.2,670.9 M800.6,664 L796,666.4 M800.6,664 L791.9,667.8 M800.6,664 L792.6,664.7 M800.6,664 L796.7,663.9 M800.6,664 L794.9,661.5 M800.6,664 L792.2,659.4 M800.6,664 L794.9,657.4 " fill="none" stroke="#c0c0c0" stroke-width="0.6" />
<path d="M809.6,669.2 l-1.7,1.5 M794.3,665.9 l0.2,1.7 M800,668.9 l0.1,-1 M804.6,667.3 l-1.8,-1.2 M798.2,669.8 l1,-0.8 M795.3,664 l-0.6,-1.9 M800.6,668.1 l0.9,0.2 " fill="none" stroke="#c8c8c8" stroke-width="0.7" />
<circle cx="800.6" cy="664" r="0.9" fill="#8a8a8a" stroke="#8a8a8a" stroke-width="0.5"/>
<path d="M806,685 L798.3,684.8 M806,685 L797.3,681.7 M806,685 L799,680.3 M806,685 L798.5,675.9 M806,685 L802.7,680.1 M806,685 L803.8,679.7 M806,685 L806,675.1 M806,685 L806.7,673.1 M806,685 L811.1,675.6 M806,685 L810.3,677 M806,685 L812.1,680.5 M806,685 L813.7,679.7 M806,685 L813.8,682.7 M806,685 L814.8,685.7 M806,685 L810.4,686.1 M806,685 L811.9,687.2 M806,685 L812,688.7 M806,685 L813.7,694 M806,685 L808.1,689 M806,685 L806.7,690.9 M806,685 L806.3,691.8 M806,685 L805,691.3 M806,685 L802.9,690.3 M806,685 L802.5,688.4 M806,685 L801.4,687.7 M806,685 L799.2,687.5 M806,685 L797.1,686.7 " fill="none" stroke="#c0c0c0" stroke-width="0.6" />
<path d="M817.6,691.8 l1.4,-1.4 M815.2,677.6 l0.4,1.1 M804.3,675.9 l-0.9,0.5 M813.5,694.6 l0.9,0.1 M796,689.8 l0,1.6 M806.2,675.1 l1.3,-1.9 M801.3,674 l0.8,1.8 M802.5,680.7 l-1.8,0.5 " fill="none" stroke="#c8c8c8" stroke-width="0.7" />
<circle cx="806" cy="685" r="0.9" fill="#8a8a8a" stroke="#8a8a8a" stroke-width="0.5"/>
<path d="M810,705.6 L806.8,708.9 M810,705.6 L803.3,710.6 M810,705.6 L804.1,707.7 M810,705.6 L805.3,705.8 M810,705.6 L799.4,701.9 M810,705.6 L802.3,702.5 M810,705.6 L804.4,700 M810,705.6 L804.7,696.2 M810,705.6 L806.1,696.3 M810,705.6 L808.6,696.4 M810,705.6 L811.7,694.9 M810,705.6 L813.5,694.9 M810,705.6 L812.6,701.9 M810,705.6 L814.7,702.3 M810,705.6 L816.3,703.1 M810,705.6 L819.5,704.5 M810,705.6 L815.2,706.3 M810,705.6 L817.5,708.3 M810,705.6 L813.7,708.9 M810,705.6 L815.6,711.3 M810,705.6 L812.6,711.5 M810,705.6 L812.2,715.5 M810,705.6 L808.7,714 M810,705.6 L808.8,710.3 M810,705.6 L806.7,711.2 " fill="none" stroke="#c0c0c0" stroke-width="0.6" />
<path d="M818.3,709.9 l2,2 M800.1,714.1 l1.7,-1.7 M819.7,711.8 l-1,-0.6 M801.6,699.3 l-0.9,-1.5 M803.9,712.6 l1.5,-0.4 M817.2,716.8 l0.7,-0.4 M808.8,697.1 l-0.5,-1.5 M806.2,712.3 l-0.6,-0.4 " fill="none" stroke="#c8c8c8" stroke-width="0.7" />
<circle cx="810" cy="705.6" r="0.9" fill="#8a8a8a" stroke="#8a8a8a" stroke-width="0.5"/>
<path d="M811,726 L809.8,717.5 M811,726 L810.7,716.3 M811,726 L815,715 M811,726 L815.2,716.9 M811,726 L814.7,721.1 M811,726 L821.6,716.4 M811,726 L824.7,719.2 M811,726 L819.1,724 M811,726 L818.6,726.4 M811,726 L826,730 M811,726 L822.5,734.1 M811,726 L821.7,736.7 M811,726 L816.2,736 M811,726 L812.8,731.8 M811,726 L811.6,736.3 M811,726 L808.9,738.1 M811,726 L809.2,731.8 M811,726 L806.6,731.4 M811,726 L804.4,732.4 M811,726 L799.8,733.2 M811,726 L802.8,727.5 M811,726 L802.3,726.2 M811,726 L801.5,724.2 M811,726 L804.1,723.7 M811,726 L798.3,717.9 M811,726 L805.9,720 M811,726 L805.2,711.1 " fill="none" stroke="#c0c0c0" stroke-width="0.6" />
<path d="M803.3,728.5 l-1.2,-1.6 M806.9,732.3 l-1,-1 M795.5,718.8 l1,-0.3 M800.1,732.6 l-0.5,-0.6 M820,729.7 l1.9,-1.5 M797,725.7 l1.5,-1.1 M809.8,735.3 l-0.4,-0.2 M826.9,721.2 l1.5,-1.9 M825.6,729 l1.6,-0.1 M805.5,722.7 l-0.4,1.7 M818.6,711.2 l1.9,-1 " fill="none" stroke="#c8c8c8" stroke-width="0.7" />
<circle cx="811" cy="726" r="0.9" fill="#8a8a8a" stroke="#8a8a8a" stroke-width="0.5"/>
<path d="M806,747 L808.9,758.4 M806,747 L806.1,757.6 M806,747 L801.9,757 M806,747 L802.9,750.8 M806,747 L802.7,749.6 M806,747 L798.7,751.7 M806,747 L796.8,750.3 M806,747 L797,745.8 M806,747 L798.7,744.9 M806,747 L801.9,744.2 M806,747 L797.4,739.3 M806,747 L802.4,741.9 M806,747 L805.1,742.9 M806,747 L805.6,735 M806,747 L807.1,740.4 M806,747 L809.2,741.8 M806,747 L811.6,740.6 M806,747 L811.6,742.1 M806,747 L810.4,745.6 M806,747 L816.9,745.1 M806,747 L810.8,747.9 M806,747 L813.1,749.5 M806,747 L812.5,751.7 M806,747 L811.7,755 M806,747 L809.2,753.6 " fill="none" stroke="#c0c0c0" stroke-width="0.6" />
<path d="M813.4,747.3 l1.4,-1.7 M799.4,747.2 l1.1,-1.2 M799,748.6 l1.6,-1.6 M798.6,739.8 l1.6,-0.1 M810.5,744.2 l0.4,1.7 M810.7,748.7 l0.4,-0.3 M804.4,740.8 l-0.2,0.8 M803.7,752.4 l-1.7,-1.3 " fill="none" stroke="#c8c8c8" stroke-width="0.7" />
<circle cx="806" cy="747" r="0.9" fill="#8a8a8a" stroke="#8a8a8a" stroke-width="0.5"/>
<path d="M795.4,768 L799.6,781.6 M795.4,768 L799.1,780.8 M795.4,768 L795.1,778.1 M795.4,768 L793.5,775.6 M795.4,768 L791.8,776.3 M795.4,768 L784.5,780.4 M795.4,768 L782.4,778.3 M795.4,768 L786.4,772 M795.4,768 L780.4,768.6 M795.4,768 L788.9,767.3 M795.4,768 L785.9,764.6 M795.4,768 L789.1,762.9 M795.4,768 L784.2,756.8 M795.4,768 L789.2,759.6 M795.4,768 L792.3,753.9 M795.4,768 L794.3,761.8 M795.4,768 L796.5,751.9 M795.4,768 L800.3,754.7 M795.4,768 L801.9,760.8 M795.4,768 L807.5,756.7 M795.4,768 L803.4,764.3 M795.4,768 L804.7,766.3 M795.4,768 L801.4,767.7 M795.4,768 L810.8,772.7 M795.4,768 L809.8,775.8 M795.4,768 L802.5,772.7 M795.4,768 L805.3,781.2 " fill="none" stroke="#c0c0c0" stroke-width="0.6" />
<path d="M806.6,764.6 l-1,-0.3 M776.8,768.8 l-1.3,1.2 M794.1,750.8 l1.1,0.4 M790.3,777.6 l-0.6,1.1 M803.6,772.4 l1,-1 M802,770.9 l0.2,-0.7 M813.3,765.7 l2,-0.9 M802.3,772 l-0,0.8 M786.2,771.2 l-0.3,0.5 M787.9,753.5 l1.4,0.7 M808.1,780.1 l-0.8,0.3 " fill="none" stroke="#c8c8c8" stroke-width="0.7" />
<circle cx="795.4" cy="768" r="0.9" fill="#8a8a8a" stroke="#8a8a8a" stroke-width="0.5"/>
<path d="M772,765.4 L772.3,773 M772,765.4 L771,771.4 M772,765.4 L767.6,775.8 M772,765.4 L769.3,769.3 M772,765.4 L767.5,769.5 M772,765.4 L763.7,769.5 M772,765.4 L764.6,768 M772,765.4 L767.8,766 M772,765.4 L766.2,763.7 M772,765.4 L765.4,762.7 M772,765.4 L767.4,761.5 M772,765.4 L765.4,759.5 M772,765.4 L769.6,760.2 M772,765.4 L768.8,757.9 M772,765.4 L770.6,756.6 M772,765.4 L773.9,756.2 M772,765.4 L774.1,756.5 M772,765.4 L776,759.7 M772,765.4 L776.3,760 M772,765.4 L781.3,757.8 M772,765.4 L780.9,761 M772,765.4 L782.5,765 M772,765.4 L779.3,766.5 M772,765.4 L780.7,767.8 M772,765.4 L776.1,767.2 M772,765.4 L778,770.7 M772,765.4 L778.3,773.7 M772,765.4 L774,770.4 M772,765.4 L773.7,774.5 " fill="none" stroke="#c0c0c0" stroke-width="0.6" />
<path d="M766.2,769.7 l2,0.7 M767.4,768 l1,1.5 M767.7,768 l1.1,1.2 M766.9,758.9 l-0.4,1.8 M766.3,767.9 l-1.5,-1.6 M764.9,761.6 l1.1,-1.5 M777.8,767.3 l1.2,-0.4 M760.2,759.6 l0.9,-1.3 " fill="none" stroke="#c8c8c8" stroke-width="0.7" />
<circle cx="772" cy="765.4" r="0.9" fill="#8a8a8a" stroke="#8a8a8a" stroke-width="0.5"/>
<path d="M751,768 L748.6,779.2 M751,768 L748.4,775.6 M751,768 L743.3,776.9 M751,768 L747.3,771.7 M751,768 L740.1,772.5 M751,768 L746.6,769.3 M751,768 L743.8,767.7 M751,768 L742.2,765.8 M751,768 L746.1,765.6 M751,768 L746.3,764.4 M751,768 L743.3,760.4 M751,768 L748.4,763 M751,768 L748.1,761.3 M751,768 L750.2,760.9 M751,768 L751.1,761.9 M751,768 L755.1,757.6 M751,768 L754.5,760.2 M751,768 L754.3,764.9 M751,768 L755.4,765.4 M751,768 L758.9,765 M751,768 L757.5,767.1 M751,768 L759.7,768.2 M751,768 L760.1,770.3 M751,768 L757.8,771.4 M751,768 L758.5,773 M751,768 L754.7,772.8 M751,768 L754.8,777.6 M751,768 L752.3,773.4 M751,768 L751.1,773 " fill="none" stroke="#c0c0c0" stroke-width="0.6" />
<path d="M757,774.3 l-1.6,-0.2 M745.8,767.7 l0.5,-1.7 M749.8,756.3 l0,-1.8 M742.8,767.8 l1.8,-1.5 M759.5,757.2 l0.9,1.3 M755.7,780.8 l-0,1.8 M756.4,764.8 l1.2,1.7 M758.3,771.2 l1,-1.4 " fill="none" stroke="#c8c8c8" stroke-width="0.7" />
<circle cx="751" cy="768" r="0.9" fill="#8a8a8a" stroke="#8a8a8a" stroke-width="0.5"/>
<path d="M728,770.6 L733.1,767.1 M728,770.6 L735.7,768.5 M728,770.6 L736.9,769.4 M728,770.6 L735.1,770.7 M728,770.6 L735.2,772.2 M728,770.6 L733.4,774 M728,770.6 L733.4,775.2 M728,770.6 L731.2,776 M728,770.6 L729.4,775 M728,770.6 L728.8,782.3 M728,770.6 L727.5,778.9 M728,770.6 L724.2,781.1 M728,770.6 L724.3,778.1 M728,770.6 L720.6,777.3 M728,770.6 L722.2,774.8 M728,770.6 L723.1,772.7 M728,770.6 L723.3,771.5 M728,770.6 L719,770.5 M728,770.6 L722,768 M728,770.6 L722.3,767.3 M728,770.6 L720.8,762.3 M728,770.6 L722.7,760.8 M728,770.6 L724.9,761.1 M728,770.6 L726.6,764.3 M728,770.6 L728.8,763.2 M728,770.6 L729.2,766.2 M728,770.6 L732.5,762.8 M728,770.6 L730.8,766.9 " fill="none" stroke="#c0c0c0" stroke-width="0.6" />
<path d="M721.1,767.5 l0.1,0.1 M721.6,774.5 l-1.5,-0.5 M730.9,765.1 l-1.9,1.2 M725.6,762.1 l-1.7,-1.4 M724.3,764.4 l1.2,1.9 M739.4,774.8 l1.6,0.4 M719,765.8 l0.1,-0 M730.4,774.7 l-1.8,-1.9 " fill="none" stroke="#c8c8c8" stroke-width="0.7" />
<circle cx="728" cy="770.6" r="0.9" fill="#8a8a8a" stroke="#8a8a8a" stroke-width="0.5"/>
<path d="M704.4,776 L706.3,786.1 M704.4,776 L704,784.5 M704.4,776 L701.8,780.6 M704.4,776 L699.5,783.5 M704.4,776 L697.2,781.8 M704.4,776 L699.2,778 M704.4,776 L698.1,777.6 M704.4,776 L693.3,776.7 M704.4,776 L695.2,772.6 M704.4,776 L694.5,771.7 M704.4,776 L699.1,770.2 M704.4,776 L700.7,769.2 M704.4,776 L702.5,771.3 M704.4,776 L703.8,771.5 M704.4,776 L705.6,766 M704.4,776 L709.1,766.3 M704.4,776 L708.4,771.2 M704.4,776 L710.4,771.3 M704.4,776 L712.1,773 M704.4,776 L713.3,773.7 M704.4,776 L710.2,776.9 M704.4,776 L708.4,777.6 M704.4,776 L709.8,778.7 M704.4,776 L712.2,784.5 M704.4,776 L707.7,781.9 M704.4,776 L705.9,782.6 " fill="none" stroke="#c0c0c0" stroke-width="0.6" />
<path d="M705.3,788.9 l0.5,0.8 M697.5,764.3 l-0.1,1.4 M700.3,764.2 l-0.3,0.9 M697.6,772.8 l-1.2,0.5 M715.9,782.1 l-1.4,-1.9 M714.7,784.2 l-0.6,-1.4 M709.5,776.9 l0.8,0.5 M700.6,765.2 l-1.7,0.4 " fill="none" stroke="#c8c8c8" stroke-width="0.7" />
<circle cx="704.4" cy="776" r="0.9" fill="#8a8a8a" stroke="#8a8a8a" stroke-width="0.5"/>
<path d="M678.4,778 L680.1,786.2 M678.4,778 L679.1,789 M678.4,778 L676.7,787.6 M678.4,778 L676.6,783.8 M678.4,778 L676.4,782 M678.4,778 L669.7,785.3 M678.4,778 L674.2,780.5 M678.4,778 L669.7,780.8 M678.4,778 L673.2,778.8 M678.4,778 L669.2,776.8 M678.4,778 L671.8,776.5 M678.4,778 L672.1,775.1 M678.4,778 L675.3,774.7 M678.4,778 L672.2,768.6 M678.4,778 L675.2,769.7 M678.4,778 L677,771.7 M678.4,778 L679.1,767.7 M678.4,778 L679.3,769.8 M678.4,778 L681,770.6 M678.4,778 L682.9,770.6 M678.4,778 L686.9,771.6 M678.4,778 L684.2,775.1 M678.4,778 L686.4,775.7 M678.4,778 L688.4,777 M678.4,778 L685.3,778.4 M678.4,778 L687.6,780.7 M678.4,778 L687.5,785.4 M678.4,778 L686.2,786.7 M678.4,778 L682.8,785.5 " fill="none" stroke="#c0c0c0" stroke-width="0.6" />
<path d="M685,788.2 l1.8,-1.1 M685.1,789.4 l1.1,-0 M688.2,777.4 l-1.6,-0.7 M689.3,785.4 l1.6,1 M669,783 l-0.5,-0.8 M669.7,782.3 l-1.3,1.9 M669.3,768.3 l-1.5,0.4 M674.6,768.5 l-1.9,0.3 " fill="none" stroke="#c8c8c8" stroke-width="0.7" />
<circle cx="678.4" cy="778" r="0.9" fill="#8a8a8a" stroke="#8a8a8a" stroke-width="0.5"/>
<path d="M655,781 L660.4,790.5 M655,781 L657.2,787.1 M655,781 L657.6,792.7 M655,781 L654.9,787 M655,781 L652.7,793.7 M655,781 L652.9,787.3 M655,781 L649.2,790.7 M655,781 L650.2,785.1 M655,781 L649.4,785.5 M655,781 L646.3,785.1 M655,781 L647.4,783.2 M655,781 L641.3,782.1 M655,781 L649.3,779.6 M655,781 L649.9,778.2 M655,781 L643.2,773.7 M655,781 L647.4,772.3 M655,781 L651.2,775.5 M655,781 L652.9,775.5 M655,781 L652.7,772.9 M655,781 L654,772.5 M655,781 L657.9,770.2 M655,781 L659,771.1 M655,781 L658.4,775.8 M655,781 L661.2,775 M655,781 L666.3,774.3 M655,781 L664.3,776.9 M655,781 L663.6,779.8 M655,781 L666.4,780.2 M655,781 L666.5,784.3 M655,781 L666.5,786.3 M655,781 L663.7,787.3 M655,781 L660.6,786.4 " fill="none" stroke="#c0c0c0" stroke-width="0.6" />
<path d="M650.4,776.2 l-0.3,1.1 M652.2,769.1 l-1,-0.3 M643.4,784.4 l-0.4,0.7 M661.8,777.8 l0.6,1.1 M646.8,787.9 l1.9,-1.8 M648,779.1 l1.1,1.8 M648.4,780.2 l0.3,0.2 M652.7,770.3 l0.6,1.3 M645.2,779.7 l1.8,-1.2 " fill="none" stroke="#c8c8c8" stroke-width="0.7" />
<circle cx="655" cy="781" r="0.9" fill="#8a8a8a" stroke="#8a8a8a" stroke-width="0.5"/>
<path d="M637,773 L633.5,775.5 M637,773 L631.5,774.8 M637,773 L632,774.6 M637,773 L633.4,772.9 M637,773 L631,771.3 M637,773 L632.2,769.8 M637,773 L633.3,769.7 M637,773 L632.4,764.6 M637,773 L635.5,768.3 M637,773 L637,767 M637,773 L637.4,768.7 M637,773 L641,765.2 M637,773 L641.1,767.9 M637,773 L640.9,769.9 M637,773 L642.5,771.2 M637,773 L645.7,771.6 M637,773 L643.5,773.8 M637,773 L643.9,774.7 M637,773 L645.1,776.8 M637,773 L643.7,779.1 M637,773 L640.4,777.9 M637,773 L639.3,778.8 M637,773 L637.5,776.5 M637,773 L635.8,778.2 M637,773 L635.1,778.1 M637,773 L633.2,778 " fill="none" stroke="#c0c0c0" stroke-width="0.6" />
<path d="M631.2,766.2 l-0.6,1.7 M639.7,769.5 l1.3,1.6 M638.1,768.1 l1.3,0.5 M641.1,773.4 l1.8,0.6 M637,777.8 l-1.4,-1.1 M638.1,766.5 l-1.4,1.6 M638.3,767.9 l1.6,0.4 " fill="none" stroke="#c8c8c8" stroke-width="0.7" />
<circle cx="637" cy="773" r="0.9" fill="#8a8a8a" stroke="#8a8a8a" stroke-width="0.5"/>
<path d="M826,770 L821.8,760.6 M826,770 L825,764.4 M826,770 L826.3,761.7 M826,770 L828.2,762.7 M826,770 L830.7,762.9 M826,770 L829.8,765.3 M826,770 L832.3,765 M826,770 L833.1,766.7 M826,770 L833.9,768.7 M826,770 L834.3,771.5 M826,770 L829.7,772.1 M826,770 L831.7,775.4 M826,770 L831.5,777.6 M826,770 L828.2,776.8 M826,770 L827.8,781.5 M826,770 L825.9,779.2 M826,770 L824.3,774.1 M826,770 L820.3,777.6 M826,770 L820.4,773.8 M826,770 L818.3,772.7 M826,770 L815,772.3 M826,770 L816.2,770.6 M826,770 L819.5,767.8 M826,770 L820.3,765.8 M826,770 L820.2,764.1 " fill="none" stroke="#c0c0c0" stroke-width="0.6" />
<path d="M826.8,763.4 l-0.3,-0.3 M814.5,765.9 l-0.8,1.3 M818.3,775.3 l-0.9,0 M836.6,768.3 l1.2,-0.7 M822.9,776.8 l0.3,0.5 M827.1,765 l0.9,1.5 M821,768.5 l-0.8,-2 M830.8,782.2 l0.4,0.6 " fill="none" stroke="#c8c8c8" stroke-width="0.7" />
<circle cx="826" cy="770" r="0.9" fill="#8a8a8a" stroke="#8a8a8a" stroke-width="0.5"/>
<path d="M832,740 L837.8,736.5 M832,740 L838.8,737.6 M832,740 L839,738.9 M832,740 L839,739.7 M832,740 L839.5,741.6 M832,740 L836,741.3 M832,740 L838.8,743.7 M832,740 L836.3,745.5 M832,740 L836.5,746.6 M832,740 L833.9,746.1 M832,740 L833.1,744.8 M832,740 L832,745 M832,740 L830.6,746.8 M832,740 L830.3,743 M832,740 L830,742.7 M832,740 L826.8,746 M832,740 L824.7,744.5 M832,740 L829,741.2 M832,740 L825.5,741.3 M832,740 L823.2,738.9 M832,740 L826.6,738.8 M832,740 L825.4,737.8 M832,740 L828.5,737.9 M832,740 L829.5,738 M832,740 L830.1,736.7 M832,740 L831.1,736.5 M832,740 L831.7,736.1 M832,740 L831.3,732.7 M832,740 L833.1,732.6 M832,740 L833.1,736.8 M832,740 L836.6,734.3 M832,740 L837.8,735.3 " fill="none" stroke="#c0c0c0" stroke-width="0.6" />
<path d="M838.8,744 l0.8,-0.2 M836.8,737.8 l1.9,0.9 M835.7,740.3 l0.6,1.3 M837,742.7 l0.9,-1.3 M836.4,734.7 l-1.8,-0.5 M826.1,737 l0.7,-1.4 " fill="none" stroke="#c8c8c8" stroke-width="0.7" />
<circle cx="832" cy="740" r="0.9" fill="#8a8a8a" stroke="#8a8a8a" stroke-width="0.5"/>
<path d="M413,731 Q419.3,722.5 417.5,713.7 Q411.7,720.5 413,731" fill="#fff" stroke="#c2c2c2" stroke-width="0.7" />
<polyline points="413,731 417.5,713.7" fill="none" stroke="#d0d0d0" stroke-width="0.5"/>
<path d="M413,731 Q422.4,728.2 426,720.8 Q417.9,722.5 413,731" fill="#fff" stroke="#c2c2c2" stroke-width="0.7" />
<polyline points="413,731 426,720.8" fill="none" stroke="#d0d0d0" stroke-width="0.5"/>
<path d="M413,731 Q423.8,733.3 431.5,727.9 Q422.5,725.2 413,731" fill="#fff" stroke="#c2c2c2" stroke-width="0.7" />
<polyline points="413,731 431.5,727.9" fill="none" stroke="#d0d0d0" stroke-width="0.5"/>
<path d="M413,731 Q419.4,740 428.7,741.1 Q423.9,733.1 413,731" fill="#fff" stroke="#c2c2c2" stroke-width="0.7" />
<polyline points="413,731 428.7,741.1" fill="none" stroke="#d0d0d0" stroke-width="0.5"/>
<path d="M413,731 Q414.5,740.2 421.1,744.5 Q420.4,736.6 413,731" fill="#fff" stroke="#c2c2c2" stroke-width="0.7" />
<polyline points="413,731 421.1,744.5" fill="none" stroke="#d0d0d0" stroke-width="0.5"/>
<path d="M413,731 Q410,742.4 415.4,750.7 Q418.7,741.3 413,731" fill="#fff" stroke="#c2c2c2" stroke-width="0.7" />
<polyline points="413,731 415.4,750.7" fill="none" stroke="#d0d0d0" stroke-width="0.5"/>
<path d="M413,731 Q403.4,736.9 401.7,746.2 Q410.1,741.9 413,731" fill="#fff" stroke="#c2c2c2" stroke-width="0.7" />
<polyline points="413,731 401.7,746.2" fill="none" stroke="#d0d0d0" stroke-width="0.5"/>
<path d="M413,731 Q402.6,731.9 397.3,739 Q406.1,738.8 413,731" fill="#fff" stroke="#c2c2c2" stroke-width="0.7" />
<polyline points="413,731 397.3,739" fill="none" stroke="#d0d0d0" stroke-width="0.5"/>
<path d="M413,731 Q404.2,724 394.8,725.5 Q401.8,732 413,731" fill="#fff" stroke="#c2c2c2" stroke-width="0.7" />
<polyline points="413,731 394.8,725.5" fill="none" stroke="#d0d0d0" stroke-width="0.5"/>
<path d="M413,731 Q409,722.5 401.4,720.2 Q404.3,727.6 413,731" fill="#fff" stroke="#c2c2c2" stroke-width="0.7" />
<polyline points="413,731 401.4,720.2" fill="none" stroke="#d0d0d0" stroke-width="0.5"/>
<path d="M413,731 Q413.9,719.6 407.3,712.5 Q405.8,722.1 413,731" fill="#fff" stroke="#c2c2c2" stroke-width="0.7" />
<polyline points="413,731 407.3,712.5" fill="none" stroke="#d0d0d0" stroke-width="0.5"/>
<path d="M587,731 Q577.2,734.5 573.8,742.6 Q582.3,740.3 587,731" fill="#fff" stroke="#c2c2c2" stroke-width="0.7" />
<polyline points="587,731 573.8,742.6" fill="none" stroke="#d0d0d0" stroke-width="0.5"/>
<path d="M587,731 Q576.3,727.8 568.2,732.6 Q577,736 587,731" fill="#fff" stroke="#c2c2c2" stroke-width="0.7" />
<polyline points="587,731 568.2,732.6" fill="none" stroke="#d0d0d0" stroke-width="0.5"/>
<path d="M587,731 Q580.6,725.8 573.6,726.8 Q578.7,731.7 587,731" fill="#fff" stroke="#c2c2c2" stroke-width="0.7" />
<polyline points="587,731 573.6,726.8" fill="none" stroke="#d0d0d0" stroke-width="0.5"/>
<path d="M587,731 Q583.9,721.7 576.3,718.4 Q578.3,726.4 587,731" fill="#fff" stroke="#c2c2c2" stroke-width="0.7" />
<polyline points="587,731 576.3,718.4" fill="none" stroke="#d0d0d0" stroke-width="0.5"/>
<path d="M587,731 Q590.8,720.5 586.3,712.1 Q582.5,720.8 587,731" fill="#fff" stroke="#c2c2c2" stroke-width="0.7" />
<polyline points="587,731 586.3,712.1" fill="none" stroke="#d0d0d0" stroke-width="0.5"/>
<path d="M587,731 Q594.1,726.5 595.3,719.4 Q589,722.8 587,731" fill="#fff" stroke="#c2c2c2" stroke-width="0.7" />
<polyline points="587,731 595.3,719.4" fill="none" stroke="#d0d0d0" stroke-width="0.5"/>
<path d="M587,731 Q598.2,730.9 604.4,723.8 Q595,723.2 587,731" fill="#fff" stroke="#c2c2c2" stroke-width="0.7" />
<polyline points="587,731 604.4,723.8" fill="none" stroke="#d0d0d0" stroke-width="0.5"/>
<path d="M587,731 Q595.7,736.6 604.1,734.3 Q597.1,729.1 587,731" fill="#fff" stroke="#c2c2c2" stroke-width="0.7" />
<polyline points="587,731 604.1,734.3" fill="none" stroke="#d0d0d0" stroke-width="0.5"/>
<path d="M587,731 Q593.4,740.3 602.9,741.5 Q598.1,733.3 587,731" fill="#fff" stroke="#c2c2c2" stroke-width="0.7" />
<polyline points="587,731 602.9,741.5" fill="none" stroke="#d0d0d0" stroke-width="0.5"/>
<path d="M587,731 Q585.7,741.6 591.6,748.5 Q593.4,739.6 587,731" fill="#fff" stroke="#c2c2c2" stroke-width="0.7" />
<polyline points="587,731 591.6,748.5" fill="none" stroke="#d0d0d0" stroke-width="0.5"/>
<path d="M587,731 Q580.7,738.1 581.5,746.1 Q587.3,740.5 587,731" fill="#fff" stroke="#c2c2c2" stroke-width="0.7" />
<polyline points="587,731 581.5,746.1" fill="none" stroke="#d0d0d0" stroke-width="0.5"/>
<path d="M291,874 L281.7,871.7 M291,874 L280,866.9 M291,874 L285.3,867.3 M291,874 L284.9,866.4 M291,874 L287,859.3 M291,874 L290.7,868.3 M291,874 L292.8,862.9 M291,874 L295,865.6 M291,874 L296.4,865.9 M291,874 L297.7,869.1 M291,874 L299.5,871.4 M291,874 L298.6,873 M291,874 L297.5,874.4 M291,874 L298.8,877.7 M291,874 L298.5,879.6 M291,874 L299.5,885.8 M291,874 L298.3,887.3 M291,874 L293.8,888.3 M291,874 L290.7,884.4 M291,874 L289.1,882.7 M291,874 L287.3,881.7 M291,874 L286.1,878.4 M291,874 L278.7,882 M291,874 L279.6,876.8 M291,874 L275.8,875.1 " fill="none" stroke="#c0c0c0" stroke-width="0.6" />
<path d="M289.6,881.4 l-0.2,0.4 M284.8,869 l1.4,-0.6 M301.9,873.6 l-1.9,-1.9 M280.9,884.9 l-0.1,1.4 M304.2,863.7 l0.6,1.7 M289,866.8 l-0.7,-1.1 M305.7,883.3 l0,-1.3 M297.3,865.2 l-1.1,0.9 M299.3,889.6 l1.8,-1.8 M284.6,871.8 l1.7,-1 M275.8,872.7 l1,-0.1 " fill="none" stroke="#c8c8c8" stroke-width="0.7" />
<circle cx="291" cy="874" r="0.9" fill="#8a8a8a" stroke="#8a8a8a" stroke-width="0.5"/>
<path d="M303,898 L308.4,905.9 M303,898 L305,903.1 M303,898 L304.1,906.3 M303,898 L303,903.6 M303,898 L301.8,902.1 M303,898 L300.4,901.8 M303,898 L299.9,901.1 M303,898 L299.7,899.5 M303,898 L298.3,898.8 M303,898 L293.5,898.8 M303,898 L293.6,896 M303,898 L295.5,892.6 M303,898 L298.1,893.9 M303,898 L297.4,890.3 M303,898 L301.5,890.6 M303,898 L302.7,892.3 M303,898 L304.9,891.7 M303,898 L305.1,894.1 M303,898 L305.4,894.9 M303,898 L309.1,894.3 M303,898 L311.3,894.2 M303,898 L309.1,897.1 M303,898 L308.2,898.4 M303,898 L308,900.7 M303,898 L308.6,901.7 " fill="none" stroke="#c0c0c0" stroke-width="0.6" />
<path d="M298.5,907.8 l-1.5,1.9 M313,901.7 l0.7,-1.2 M296.9,898.9 l-1,-1.2 M295.5,906.6 l2,1.7 M308,901.5 l1.6,-1.8 M302.1,891.9 l1.9,-1.9 M305.3,891.9 l-1.4,-2 " fill="none" stroke="#c8c8c8" stroke-width="0.7" />
<circle cx="303" cy="898" r="0.9" fill="#8a8a8a" stroke="#8a8a8a" stroke-width="0.5"/>
<path d="M297,918 L296.1,922.4 M297,918 L294.5,923.9 M297,918 L291.4,927.2 M297,918 L292.6,922.1 M297,918 L289.8,923.3 M297,918 L286.3,921.1 M297,918 L286.9,919.1 M297,918 L291.7,918.2 M297,918 L288.2,915.6 M297,918 L290.8,915.7 M297,918 L288.6,913.4 M297,918 L289.7,910.1 M297,918 L293.4,910.6 M297,918 L294.5,912.1 M297,918 L295.5,906.5 M297,918 L296.5,910.6 M297,918 L298.5,913 M297,918 L299.7,912.5 M297,918 L304.1,908.4 M297,918 L303.3,910.6 M297,918 L306.3,912.4 M297,918 L307.6,913.6 M297,918 L301.7,917.8 M297,918 L303.1,918 M297,918 L307.8,921.4 M297,918 L306.7,923.2 M297,918 L306,924.7 M297,918 L300.6,921.5 M297,918 L300.7,924.7 M297,918 L301.8,927.3 M297,918 L298.5,923.9 M297,918 L297.6,927 " fill="none" stroke="#c0c0c0" stroke-width="0.6" />
<path d="M300.8,924.6 l0.2,1.8 M310,919.6 l1,-1 M302.5,909 l-0.1,-1 M289.5,920.7 l-1.6,-1.3 M295.7,926.9 l0.3,1 M301.5,921.8 l1.5,0.2 M298,924.8 l0.7,-0.2 M286.4,926.1 l-1.9,0.5 " fill="none" stroke="#c8c8c8" stroke-width="0.7" />
<circle cx="297" cy="918" r="0.9" fill="#8a8a8a" stroke="#8a8a8a" stroke-width="0.5"/>
<path d="M304,940 L300.7,937.6 M304,940 L301.5,936.6 M304,940 L300.3,934.4 M304,940 L301.8,931.3 M304,940 L303.7,932.1 M304,940 L305.2,934 M304,940 L306.1,932.4 M304,940 L306.2,935.6 M304,940 L308.4,935.4 M304,940 L311.3,935.4 M304,940 L307.9,937.6 M304,940 L309.9,938.1 M304,940 L312.6,939.2 M304,940 L310.8,940.8 M304,940 L314.2,944 M304,940 L307.5,942.4 M304,940 L310.4,948.7 M304,940 L310.1,948 M304,940 L307.1,949.9 M304,940 L304.8,948.3 M304,940 L303.4,944.1 M304,940 L303.1,944.6 M304,940 L301.9,945.1 M304,940 L301.4,943.8 M304,940 L300.1,943.2 M304,940 L294.8,945.6 M304,940 L293.8,941.3 M304,940 L296,941 M304,940 L297.3,938 M304,940 L294.6,936 " fill="none" stroke="#c0c0c0" stroke-width="0.6" />
<path d="M311.9,935.3 l-0.9,0.9 M303.6,933.2 l-0.2,0.8 M305.4,947.5 l0.2,-0.5 M309.4,935.6 l-0.1,1.3 M311,941.4 l-1.2,0.2 M311.5,938.5 l1.7,-1.4 M310.7,937.9 l-0.7,-0.9 " fill="none" stroke="#c8c8c8" stroke-width="0.7" />
<circle cx="304" cy="940" r="0.9" fill="#8a8a8a" stroke="#8a8a8a" stroke-width="0.5"/>
<path d="M296,958 L294.3,962.7 M296,958 L291.9,967.2 M296,958 L293.1,961.2 M296,958 L290.3,962 M296,958 L291.6,959.4 M296,958 L285.5,960 M296,958 L291.1,957.2 M296,958 L289.9,956.1 M296,958 L289.3,953.2 M296,958 L289.9,950.4 M296,958 L291.4,950.1 M296,958 L293.8,949 M296,958 L295.3,948.6 M296,958 L298.3,947.9 M296,958 L299.1,948.4 M296,958 L300.6,949.9 M296,958 L301.7,953.3 M296,958 L303.4,955.2 M296,958 L305.1,955.6 M296,958 L304.2,958.7 M296,958 L302.9,959.4 M296,958 L304.1,961.9 M296,958 L301.3,962 M296,958 L299.9,963.3 M296,958 L300.2,966.5 M296,958 L296.7,965.4 M296,958 L295.8,963.2 " fill="none" stroke="#c0c0c0" stroke-width="0.6" />
<path d="M294.1,963.3 l0.3,0.3 M306.2,964.3 l-0.7,1.4 M302.4,947.5 l-1.2,-0.3 M299.8,955.6 l-1.8,0.3 M284,958.2 l1.1,0.2 M304.7,957.9 l0.1,0.7 M290.4,962.7 l0.4,-0.6 " fill="none" stroke="#c8c8c8" stroke-width="0.7" />
<circle cx="296" cy="958" r="0.9" fill="#8a8a8a" stroke="#8a8a8a" stroke-width="0.5"/>
<path d="M306,990 L303.6,985.2 M306,990 L304.2,982.3 M306,990 L306.7,980.6 M306,990 L311.1,978.4 M306,990 L310.5,983.1 M306,990 L316,981.7 M306,990 L313.9,985.7 M306,990 L311.9,989.2 M306,990 L318.8,990.2 M306,990 L314.2,993.5 M306,990 L316.7,995.7 M306,990 L313.2,998.9 M306,990 L310.1,1001.3 M306,990 L307.3,995.7 M306,990 L305.9,998.9 M306,990 L304.1,995.8 M306,990 L301.2,998.6 M306,990 L300.2,994.9 M306,990 L296.7,993.4 M306,990 L298.4,992.5 M306,990 L298.9,989.1 M306,990 L301.7,988.4 M306,990 L296,984 M306,990 L299.4,982.2 " fill="none" stroke="#c0c0c0" stroke-width="0.6" />
<path d="M309.3,999.5 l0.2,-0.9 M299.7,981.7 l2,0.3 M300.6,993.4 l-1.4,1 M310.8,993.8 l-1.3,0.1 M310.9,980 l1.2,-1.8 M318.7,991 l-0.7,0.9 M301.8,995.4 l-0.9,-1.6 M314.9,983.8 l-0.6,-0.2 M301.7,993.8 l1.6,0.3 " fill="none" stroke="#c8c8c8" stroke-width="0.7" />
<circle cx="306" cy="990" r="0.9" fill="#8a8a8a" stroke="#8a8a8a" stroke-width="0.5"/>
<path d="M342,998 L333.8,1001 M342,998 L326.2,1001.7 M342,998 L332.8,995.9 M342,998 L328.9,990.8 M342,998 L331.7,990.7 M342,998 L336.2,988.2 M342,998 L339.7,989.7 M342,998 L340,984.3 M342,998 L342.7,988.7 M342,998 L347.4,988.1 M342,998 L347.8,991.6 M342,998 L349.4,991.5 M342,998 L357,990.7 M342,998 L354,996 M342,998 L353.8,998.6 M342,998 L351.7,1001.8 M342,998 L348.2,1001.9 M342,998 L347.3,1006.3 M342,998 L345.4,1005.3 M342,998 L343.5,1006.4 M342,998 L341.6,1011.3 M342,998 L339.3,1005.2 M342,998 L337.4,1003.3 M342,998 L330.4,1007.8 " fill="none" stroke="#c0c0c0" stroke-width="0.6" />
<path d="M350.7,1007 l1.3,1.2 M348.1,1007.5 l0.9,-0.5 M351.1,995.5 l1.8,0 M343.8,1010.4 l-1.5,0.8 M340.8,1016.2 l0.4,-0.5 M342.4,1012.6 l-1.1,1.5 M351.6,1007.3 l0.2,-0.9 M343.6,986.4 l0.6,0.3 M337.6,1008.9 l-1.7,-1.3 M348.4,989.2 l0.7,-1.6 M331.4,993.7 l0,-0.8 " fill="none" stroke="#c8c8c8" stroke-width="0.7" />
<circle cx="342" cy="998" r="0.9" fill="#8a8a8a" stroke="#8a8a8a" stroke-width="0.5"/>
<path d="M337,1020 L335.3,1014.3 M337,1020 L337.9,1013.4 M337,1020 L339.6,1010.5 M337,1020 L341.3,1012.9 M337,1020 L344.4,1013.3 M337,1020 L341.7,1018 M337,1020 L346.2,1017.2 M337,1020 L347.3,1020.4 M337,1020 L345.8,1021.1 M337,1020 L346.7,1025.1 M337,1020 L344.8,1026.8 M337,1020 L340.7,1024.6 M337,1020 L340,1027.6 M337,1020 L338.2,1028.6 M337,1020 L335.7,1028.1 M337,1020 L333.3,1028.5 M337,1020 L331.9,1027.5 M337,1020 L330.2,1024.9 M337,1020 L329.4,1022.2 M337,1020 L329.7,1021.5 M337,1020 L326.6,1018.7 M337,1020 L329.7,1016.8 M337,1020 L333.5,1016.9 M337,1020 L331.9,1013.1 M337,1020 L333.5,1010.5 " fill="none" stroke="#c0c0c0" stroke-width="0.6" />
<path d="M328.3,1014.8 l1.9,0.7 M343.8,1021.6 l1.1,-0.6 M343.7,1015.9 l1,2 M332.3,1015.9 l0.1,-0.6 M344.6,1017.5 l-0.6,0 M332.7,1009.5 l0.5,0 M334.3,1014.5 l0.7,1.4 " fill="none" stroke="#c8c8c8" stroke-width="0.7" />
<circle cx="337" cy="1020" r="0.9" fill="#8a8a8a" stroke="#8a8a8a" stroke-width="0.5"/>
<path d="M350,1042 L332.7,1044.5 M350,1042 L337.6,1038.8 M350,1042 L342.2,1039.3 M350,1042 L343.2,1036 M350,1042 L338.3,1028.9 M350,1042 L344.9,1033 M350,1042 L346.1,1028.8 M350,1042 L349.5,1027.7 M350,1042 L353.4,1030.6 M350,1042 L353.5,1036.7 M350,1042 L355.8,1036.7 M350,1042 L362.6,1034.8 M350,1042 L363.4,1036.4 M350,1042 L359.1,1041.6 M350,1042 L357.5,1043.6 M350,1042 L366,1048.7 M350,1042 L356.2,1047.2 M350,1042 L358.5,1055.7 M350,1042 L353.8,1049.8 M350,1042 L350.9,1048.4 M350,1042 L349.7,1048.8 M350,1042 L346.3,1051.1 M350,1042 L345.7,1051 M350,1042 L343.6,1047.2 M350,1042 L339,1048.9 M350,1042 L338,1046.5 " fill="none" stroke="#c0c0c0" stroke-width="0.6" />
<path d="M363,1045.8 l1.9,-0.1 M349.8,1030.3 l1,-0.9 M337.6,1026.1 l-0,1.1 M344.8,1052.8 l-1.6,-0.9 M337.1,1030.9 l0.8,0.6 M365.2,1050.1 l-1.9,-0.4 M357.5,1051.6 l1.8,0.1 M363,1032 l-1.6,0.9 M344.3,1056.4 l-0.5,0.6 M343.6,1050.1 l-1.5,1.7 M355.5,1032.9 l-1.8,-1.6 M356.3,1023.4 l2,-0.4 " fill="none" stroke="#c8c8c8" stroke-width="0.7" />
<circle cx="350" cy="1042" r="0.9" fill="#8a8a8a" stroke="#8a8a8a" stroke-width="0.5"/>
<path d="M358,1070 L365.6,1067.2 M358,1070 L364.4,1068.9 M358,1070 L362.7,1070.9 M358,1070 L362.9,1072.5 M358,1070 L367.1,1077.4 M358,1070 L360.9,1073.4 M358,1070 L360,1075.3 M358,1070 L358.1,1074.2 M358,1070 L355.2,1080.5 M358,1070 L354.4,1076.6 M358,1070 L352.4,1077.5 M358,1070 L351.9,1074.3 M358,1070 L350.9,1072.9 M358,1070 L347.4,1070.5 M358,1070 L352.7,1068.5 M358,1070 L350.9,1067.1 M358,1070 L352.8,1065.5 M358,1070 L354.9,1066.2 M358,1070 L355,1062.8 M358,1070 L358.3,1058.7 M358,1070 L361.1,1058.6 M358,1070 L362.7,1062.3 M358,1070 L361.3,1066.7 M358,1070 L365.5,1065.2 " fill="none" stroke="#c0c0c0" stroke-width="0.6" />
<path d="M355.1,1079.5 l1.8,-0.1 M353.5,1064 l-0.6,1.5 M364.4,1071.1 l0.7,-0.2 M367.2,1075.5 l-0.5,0.3 M349.7,1074.8 l0.3,-0.4 M362.8,1074.2 l1.6,0.2 M367.6,1078.1 l-1,-1.6 M351.1,1068.7 l-0,0.2 " fill="none" stroke="#c8c8c8" stroke-width="0.7" />
<circle cx="358" cy="1070" r="0.9" fill="#8a8a8a" stroke="#8a8a8a" stroke-width="0.5"/>
<path d="M370,1092 L358.1,1088.3 M370,1092 L361,1086 M370,1092 L361.8,1083.4 M370,1092 L366.6,1086.4 M370,1092 L366.2,1082.5 M370,1092 L369,1077.5 M370,1092 L371.6,1077.5 M370,1092 L373.1,1082.8 M370,1092 L375.9,1083.2 M370,1092 L375.5,1087.5 M370,1092 L375.2,1088.7 M370,1092 L380.6,1088.1 M370,1092 L375.7,1091.3 M370,1092 L382.1,1092.4 M370,1092 L378.6,1096.5 M370,1092 L375.7,1095.2 M370,1092 L373.6,1096.9 M370,1092 L372.7,1098.7 M370,1092 L374.3,1103.6 M370,1092 L370.6,1100.8 M370,1092 L366.4,1104.6 M370,1092 L367.5,1096.7 M370,1092 L365.7,1098.2 M370,1092 L361.9,1098.4 M370,1092 L361.1,1096.6 M370,1092 L361.4,1093.1 M370,1092 L361.6,1092.1 " fill="none" stroke="#c0c0c0" stroke-width="0.6" />
<path d="M364.9,1088.2 l1.6,-1 M361.6,1103 l-1.9,2 M356.2,1097.5 l-0,-1.7 M369.6,1099.7 l1.7,1.5 M362.5,1078.5 l0.4,-1 M384.6,1091.7 l-0.9,-0.2 M387,1094.7 l-0.1,-0.1 M385.1,1095 l-1.7,0.5 M362.1,1082 l1.4,1.9 M366.1,1081.7 l-1.1,1.8 " fill="none" stroke="#c8c8c8" stroke-width="0.7" />
<circle cx="370" cy="1092" r="0.9" fill="#8a8a8a" stroke="#8a8a8a" stroke-width="0.5"/>
<path d="M374,1120 L379.3,1122.5 M374,1120 L380.3,1126.1 M374,1120 L378,1123.8 M374,1120 L378,1126.7 M374,1120 L376.1,1126.9 M374,1120 L374.6,1124.2 M374,1120 L373.3,1126.8 M374,1120 L372.7,1127.7 M374,1120 L371.5,1123.8 M374,1120 L368.8,1127.9 M374,1120 L369.4,1124.3 M374,1120 L368.5,1123 M374,1120 L366,1122.4 M374,1120 L362.1,1120 M374,1120 L365.4,1120.2 M374,1120 L363.6,1116.3 M374,1120 L366.2,1115.3 M374,1120 L368.6,1115.4 M374,1120 L366.9,1112.4 M374,1120 L369.3,1109.5 M374,1120 L372.3,1113.7 M374,1120 L373.5,1110 M374,1120 L374.8,1110.9 M374,1120 L376.1,1111.8 M374,1120 L376,1115.8 M374,1120 L378,1114.6 M374,1120 L380.6,1115.6 M374,1120 L379.2,1116.9 M374,1120 L380.4,1117.5 M374,1120 L378.2,1119.2 M374,1120 L381.6,1121.3 M374,1120 L382.3,1122.3 " fill="none" stroke="#c0c0c0" stroke-width="0.6" />
<path d="M372,1126 l-1.7,-0.8 M369.9,1130.6 l0.2,1.7 M367,1131 l0.3,-1.7 M378.3,1129 l1.9,-0.6 M375.3,1111.4 l1.5,-1.7 M361.2,1121.3 l-0.9,-1 M380.2,1120.9 l-0.9,0.8 M375.7,1128.2 l-1.2,0.4 " fill="none" stroke="#c8c8c8" stroke-width="0.7" />
<circle cx="374" cy="1120" r="0.9" fill="#8a8a8a" stroke="#8a8a8a" stroke-width="0.5"/>
<path d="M384,1144 L376.4,1135.3 M384,1144 L380.6,1134.2 M384,1144 L379.8,1132.5 M384,1144 L384.3,1136 M384,1144 L384.4,1137.4 M384,1144 L388.4,1131.9 M384,1144 L391.2,1132.8 M384,1144 L388.8,1137.8 M384,1144 L393,1138.1 M384,1144 L393.9,1139 M384,1144 L389.2,1142.5 M384,1144 L389.3,1143.6 M384,1144 L391.8,1145.4 M384,1144 L393.8,1147.4 M384,1144 L392.1,1148.2 M384,1144 L394.9,1151.7 M384,1144 L392.1,1155.2 M384,1144 L389.5,1152.9 M384,1144 L385.5,1151.7 M384,1144 L385,1150.2 M384,1144 L383.3,1155.9 M384,1144 L381.1,1156 M384,1144 L379.2,1152.5 M384,1144 L377.2,1151.3 M384,1144 L375.5,1149.9 M384,1144 L373.7,1149.4 M384,1144 L373.2,1147.4 M384,1144 L372,1143.9 M384,1144 L372.1,1142.8 M384,1144 L375.9,1140 M384,1144 L375.4,1139.5 M384,1144 L379.9,1139.5 " fill="none" stroke="#c0c0c0" stroke-width="0.6" />
<path d="M394.6,1144.6 l0.6,1.1 M373.6,1156.2 l-1.1,1 M389,1147.2 l-1.5,-1.8 M372.6,1143.9 l-1.3,1.8 M379.2,1149.4 l-1.3,1 M390.4,1140.5 l-1.9,1.1 M384.8,1159.9 l-0,0.5 M376.2,1155.6 l-0.2,-0.7 M389.5,1140.1 l0.9,-1.7 " fill="none" stroke="#c8c8c8" stroke-width="0.7" />
<circle cx="384" cy="1144" r="0.9" fill="#8a8a8a" stroke="#8a8a8a" stroke-width="0.5"/>
<path d="M390,1170 L385.8,1162.6 M390,1170 L385.3,1154.7 M390,1170 L388.8,1156.8 M390,1170 L391.5,1163.9 M390,1170 L393.3,1156.6 M390,1170 L394.8,1161.4 M390,1170 L397.2,1162.1 M390,1170 L402.6,1160.7 M390,1170 L405.6,1163.9 M390,1170 L401.2,1168.9 M390,1170 L404.3,1172.1 M390,1170 L397,1172.7 M390,1170 L396.3,1172.8 M390,1170 L403.3,1178.2 M390,1170 L396.4,1177 M390,1170 L397.2,1184.9 M390,1170 L392.2,1176.2 M390,1170 L389.9,1185.4 M390,1170 L388.7,1176.3 M390,1170 L385.5,1179.8 M390,1170 L386.1,1176.4 M390,1170 L379.6,1178.6 M390,1170 L383.3,1173.7 M390,1170 L382.9,1172 M390,1170 L378.8,1172.4 M390,1170 L375.7,1169.9 M390,1170 L380,1167.5 M390,1170 L378.2,1164.4 M390,1170 L382.2,1163.2 M390,1170 L379.5,1158.2 " fill="none" stroke="#c0c0c0" stroke-width="0.6" />
<path d="M381.9,1165.2 l0.5,-1.9 M399.5,1180.8 l0.3,0.8 M389,1162.7 l1.6,-1.7 M404.6,1182.1 l1.9,0.1 M399.7,1170.2 l0.2,0.5 M371.3,1164.5 l0.1,1.4 M397.5,1167.9 l1.9,1.4 M399.5,1168.3 l-1.7,0.8 M400.2,1171 l1.9,-1.2 M406.1,1175 l1.8,-0.9 M386.7,1176.5 l-0.2,-0.9 " fill="none" stroke="#c8c8c8" stroke-width="0.7" />
<circle cx="390" cy="1170" r="0.9" fill="#8a8a8a" stroke="#8a8a8a" stroke-width="0.5"/>
<path d="M396,1180 L391.5,1163.1 M396,1180 L394.7,1168.5 M396,1180 L396.1,1168.2 M396,1180 L400.3,1169.4 M396,1180 L401.2,1169.5 M396,1180 L407,1164.6 M396,1180 L406.2,1170.2 M396,1180 L405.3,1176.8 M396,1180 L407.1,1177.9 M396,1180 L405.1,1179.4 M396,1180 L412.9,1182.1 M396,1180 L411.7,1188.6 M396,1180 L409,1187.9 M396,1180 L405.9,1190.8 M396,1180 L400.8,1189.4 M396,1180 L397,1186.6 M396,1180 L395.9,1197.2 M396,1180 L393.7,1193.8 M396,1180 L391.4,1188.4 M396,1180 L386.7,1192.8 M396,1180 L385.1,1190.9 M396,1180 L384.9,1187 M396,1180 L381.6,1184.4 M396,1180 L381.7,1182.1 M396,1180 L386.7,1178.9 M396,1180 L386.7,1176.6 M396,1180 L386,1172.5 M396,1180 L387,1170.5 M396,1180 L390.7,1172.3 " fill="none" stroke="#c0c0c0" stroke-width="0.6" />
<path d="M409.1,1196.2 l0.1,0.1 M377.1,1176.7 l-1,-1.3 M402.1,1167.2 l0.6,1.3 M411.7,1167.6 l-1.8,-0.5 M405.5,1163.2 l-1.5,-1.4 M395.9,1189.1 l-0.6,1.2 M382.1,1178.1 l-1.6,-0.4 M413.5,1179.6 l-0.2,-0.1 M401.5,1162.4 l-1.4,0.7 M385.9,1191.2 l-1,-0.5 M389,1191 l-1.9,-1.2 M388.4,1176.4 l-1.3,0.9 M394.1,1192.1 l-1,1.3 " fill="none" stroke="#c8c8c8" stroke-width="0.7" />
<circle cx="396" cy="1180" r="0.9" fill="#8a8a8a" stroke="#8a8a8a" stroke-width="0.5"/>
<path d="M412,1220 L404.7,1218.9 M412,1220 L395.4,1214.5 M412,1220 L399.3,1211.2 M412,1220 L404.2,1207.5 M412,1220 L409.1,1213.9 M412,1220 L410.3,1202.4 M412,1220 L413,1206.6 M412,1220 L414.6,1211.3 M412,1220 L416.9,1213.9 M412,1220 L425.6,1208.6 M412,1220 L424.1,1215.1 M412,1220 L420.2,1217.2 M412,1220 L419.2,1220.8 M412,1220 L422.5,1222.9 M412,1220 L427,1228.5 M412,1220 L422.6,1231.4 M412,1220 L419.6,1230.4 M412,1220 L414.6,1234.3 M412,1220 L412.9,1237.9 M412,1220 L411,1227 M412,1220 L408.6,1227.1 M412,1220 L407.5,1224.5 M412,1220 L405.2,1225.3 M412,1220 L395.8,1225.7 M412,1220 L401.9,1221.5 " fill="none" stroke="#c0c0c0" stroke-width="0.6" />
<path d="M401.8,1228.7 l-1.6,1.4 M405.3,1216.8 l-0,1.4 M414.9,1233 l1.3,-1.2 M402.4,1236.2 l0.2,1 M417,1212.4 l-0.4,-1.8 M403.9,1211.8 l-1.2,1.9 M417.7,1233.3 l0.1,-1.7 M400,1230.8 l-0.8,-0.4 M424.3,1209.2 l-0.8,-1 M402.5,1229 l0.2,-0.8 M418.8,1227.4 l0.6,1.7 M402.7,1206.1 l-1.4,1.7 " fill="none" stroke="#c8c8c8" stroke-width="0.7" />
<circle cx="412" cy="1220" r="0.9" fill="#8a8a8a" stroke="#8a8a8a" stroke-width="0.5"/>
<path d="M434,1206 L435.5,1213 M434,1206 L435.1,1211.4 M434,1206 L433.2,1212.1 M434,1206 L432.1,1211.3 M434,1206 L429.8,1213.6 M434,1206 L428.6,1212.1 M434,1206 L427.6,1209.6 M434,1206 L425.1,1209.5 M434,1206 L424.9,1207.5 M434,1206 L427.7,1206.3 M434,1206 L430.4,1204.8 M434,1206 L430.7,1203.8 M434,1206 L430.5,1202.9 M434,1206 L430.3,1199.9 M434,1206 L431.7,1199.7 M434,1206 L432.7,1198.2 M434,1206 L433.8,1201.1 M434,1206 L435.4,1201.8 M434,1206 L436.5,1201.9 M434,1206 L436.2,1202.5 M434,1206 L441.9,1200.3 M434,1206 L440.8,1202.3 M434,1206 L442.9,1203.1 M434,1206 L438.5,1206 M434,1206 L442,1206.5 M434,1206 L442.6,1208.5 M434,1206 L438.3,1208.7 M434,1206 L437.7,1210.2 M434,1206 L436.2,1209.9 " fill="none" stroke="#c0c0c0" stroke-width="0.6" />
<path d="M439.5,1202.6 l1.4,-1.4 M437.4,1195.2 l-0.4,-1.9 M427.6,1212 l-1.1,0.2 M440.2,1210.1 l0.9,-0.3 M431.9,1201.6 l1.3,-1.5 M444.1,1200.7 l1.8,0.1 M432.3,1212.4 l1,-0 " fill="none" stroke="#c8c8c8" stroke-width="0.7" />
<circle cx="434" cy="1206" r="0.9" fill="#8a8a8a" stroke="#8a8a8a" stroke-width="0.5"/>
<path d="M457,1218 L460.5,1227.2 M457,1218 L457.6,1233.1 M457,1218 L455.6,1229.7 M457,1218 L449.6,1231.3 M457,1218 L447.7,1227.2 M457,1218 L446.8,1226.2 M457,1218 L451.4,1220.9 M457,1218 L449.1,1219.6 M457,1218 L448.7,1217.3 M457,1218 L445.8,1214 M457,1218 L448.2,1212.1 M457,1218 L445.7,1206.6 M457,1218 L451.8,1204.2 M457,1218 L454.1,1203.3 M457,1218 L456.8,1209.8 M457,1218 L458.9,1211.6 M457,1218 L462.8,1206.3 M457,1218 L467.3,1207.9 M457,1218 L471,1210 M457,1218 L470.9,1212.9 M457,1218 L467.5,1218.6 M457,1218 L464,1220.1 M457,1218 L469.8,1223.2 M457,1218 L463.6,1225.3 M457,1218 L461.4,1224.1 " fill="none" stroke="#c0c0c0" stroke-width="0.6" />
<path d="M457.7,1227.2 l-0.9,0.2 M452.3,1227.4 l0.3,-1.8 M456.2,1238 l-0.9,0.2 M476.4,1216.5 l0.9,0.1 M457.6,1226.5 l-1.6,-1.8 M461.3,1201.9 l-1.2,1 M465.1,1222.9 l1.4,2 M443.1,1225.2 l-1.6,0.3 M468.7,1229.1 l-1.1,-1 M459.2,1204 l1.3,1.3 M467.5,1223.2 l-1.6,-1.1 M458.3,1208.5 l-0.8,-1.7 " fill="none" stroke="#c8c8c8" stroke-width="0.7" />
<circle cx="457" cy="1218" r="0.9" fill="#8a8a8a" stroke="#8a8a8a" stroke-width="0.5"/>
<path d="M489,1198 L483.6,1195.1 M489,1198 L483,1190.7 M489,1198 L482.9,1190.8 M489,1198 L485.6,1191.3 M489,1198 L486.5,1188.8 M489,1198 L489.4,1192.7 M489,1198 L491.8,1189.7 M489,1198 L491,1194.1 M489,1198 L493.9,1189.1 M489,1198 L494,1192.3 M489,1198 L492.6,1195.6 M489,1198 L493.1,1196.7 M489,1198 L493.2,1197.8 M489,1198 L495.8,1198.2 M489,1198 L499.3,1201.3 M489,1198 L497.4,1202.5 M489,1198 L496.3,1203.9 M489,1198 L492.6,1202.4 M489,1198 L491.6,1203.4 M489,1198 L491.8,1204.6 M489,1198 L489.1,1206.7 M489,1198 L488.7,1204.6 M489,1198 L485.3,1207.9 M489,1198 L484.4,1205.9 M489,1198 L483.2,1204.2 M489,1198 L485.4,1200.5 M489,1198 L480.1,1201.5 M489,1198 L479.2,1199.7 M489,1198 L481,1198.8 M489,1198 L479,1196.1 M489,1198 L479.3,1194 " fill="none" stroke="#c0c0c0" stroke-width="0.6" />
<path d="M492.7,1194.9 l0.7,-0.4 M481.4,1190.3 l-0.6,-0.5 M494.9,1196 l0.7,1.2 M482.8,1187.9 l-0.3,-0.8 M486.1,1206.9 l1.8,1.5 M481.3,1199.2 l-0.8,-1.4 M484.1,1196.6 l-0.4,-0.1 " fill="none" stroke="#c8c8c8" stroke-width="0.7" />
<circle cx="489" cy="1198" r="0.9" fill="#8a8a8a" stroke="#8a8a8a" stroke-width="0.5"/>
<path d="M514,1190 L513.1,1195.2 M514,1190 L510.5,1195.4 M514,1190 L507.6,1195.9 M514,1190 L507.5,1194.6 M514,1190 L505.7,1193.2 M514,1190 L508.7,1190.4 M514,1190 L508.5,1187.9 M514,1190 L505.7,1185.9 M514,1190 L507.6,1183.2 M514,1190 L510.5,1184.2 M514,1190 L513,1183.3 M514,1190 L514.6,1185.3 M514,1190 L515.5,1185.7 M514,1190 L515.8,1187 M514,1190 L520.3,1182.7 M514,1190 L521.5,1185.6 M514,1190 L519.5,1188.2 M514,1190 L521.1,1189.3 M514,1190 L520.4,1192.3 M514,1190 L522.4,1194.5 M514,1190 L519,1196 M514,1190 L518.4,1196.1 M514,1190 L516.6,1199.4 M514,1190 L514.2,1197.8 " fill="none" stroke="#c0c0c0" stroke-width="0.6" />
<path d="M509.4,1185 l0.1,0.7 M520.4,1185.7 l-0.5,1.9 M523.6,1193.6 l0.7,0.2 M504.9,1193.1 l1.6,0.9 M514,1185.7 l-0.7,-1.5 M524.2,1186.9 l-1.4,0.4 M510.1,1188 l-0.4,1 " fill="none" stroke="#c8c8c8" stroke-width="0.7" />
<circle cx="514" cy="1190" r="0.9" fill="#8a8a8a" stroke="#8a8a8a" stroke-width="0.5"/>
<path d="M540,1178 L533,1171.7 M540,1178 L535.2,1171.9 M540,1178 L538.5,1173.8 M540,1178 L540.1,1169.6 M540,1178 L541.3,1167.3 M540,1178 L543.2,1168.2 M540,1178 L545,1169.5 M540,1178 L543,1175.1 M540,1178 L548.8,1172.7 M540,1178 L548.9,1174.3 M540,1178 L545.9,1176.8 M540,1178 L548.6,1179.1 M540,1178 L547.3,1181.5 M540,1178 L547.3,1184 M540,1178 L546.4,1184.1 M540,1178 L545.8,1186.4 M540,1178 L542.7,1185.8 M540,1178 L540,1184.7 M540,1178 L538.9,1184.3 M540,1178 L537.1,1187.1 M540,1178 L537.5,1181.9 M540,1178 L533.5,1183.2 M540,1178 L534.2,1181.5 M540,1178 L530.6,1182 M540,1178 L534.3,1179.2 M540,1178 L531.5,1176.9 M540,1178 L533.8,1175.2 M540,1178 L534.1,1175 " fill="none" stroke="#c0c0c0" stroke-width="0.6" />
<path d="M538.4,1170.5 l1.2,1.4 M545.9,1183.6 l-2,0.1 M537.8,1171.4 l0.4,-0.6 M551.6,1176.5 l1.5,-1.6 M531,1171.3 l1.3,0.8 M545.2,1175.5 l-1.3,0.9 M539.7,1172.6 l-0.4,1.4 " fill="none" stroke="#c8c8c8" stroke-width="0.7" />
<circle cx="540" cy="1178" r="0.9" fill="#8a8a8a" stroke="#8a8a8a" stroke-width="0.5"/>
<path d="M562,1180 L557.9,1183 M562,1180 L555.1,1182.3 M562,1180 L554.8,1182.1 M562,1180 L553.4,1180 M562,1180 L557.7,1179.2 M562,1180 L554.5,1175.9 M562,1180 L559.3,1178.3 M562,1180 L559.2,1176.4 M562,1180 L560,1176.1 M562,1180 L560.5,1172.4 M562,1180 L562.1,1171.9 M562,1180 L562.4,1175.6 M562,1180 L564.1,1176 M562,1180 L564.4,1175.8 M562,1180 L567.8,1173.4 M562,1180 L566.9,1177.8 M562,1180 L568.5,1177.6 M562,1180 L567.4,1180 M562,1180 L569.1,1181.6 M562,1180 L568.1,1182.7 M562,1180 L567.7,1183.6 M562,1180 L565.2,1183.8 M562,1180 L565.7,1185.3 M562,1180 L562.9,1183.5 M562,1180 L563.6,1186 M562,1180 L562.1,1188.7 M562,1180 L560.7,1185.7 M562,1180 L558.9,1184.9 M562,1180 L556.1,1186.6 " fill="none" stroke="#c0c0c0" stroke-width="0.6" />
<path d="M555.6,1175.9 l-1.9,0.2 M555.3,1181.4 l-0.8,1.7 M569,1178.4 l-1.1,0.2 M564.3,1175 l1.9,0.3 M560.8,1175 l-1.3,1.2 M561.3,1186.1 l1.8,-0.9 " fill="none" stroke="#c8c8c8" stroke-width="0.7" />
<circle cx="562" cy="1180" r="0.9" fill="#8a8a8a" stroke="#8a8a8a" stroke-width="0.5"/>
<path d="M588,1174 L575.5,1167 M588,1174 L580.8,1166.5 M588,1174 L578.9,1155.1 M588,1174 L583.7,1154 M588,1174 L586.4,1153.2 M588,1174 L589.6,1160.2 M588,1174 L593,1161.4 M588,1174 L599.8,1161.7 M588,1174 L597.8,1167.1 M588,1174 L599.7,1168.7 M588,1174 L597.9,1172.5 M588,1174 L602.1,1177 M588,1174 L597.3,1177.8 M588,1174 L595.6,1180.5 M588,1174 L597.9,1185.3 M588,1174 L595.3,1193.3 M588,1174 L590,1194.2 M588,1174 L584.7,1190.9 M588,1174 L584.8,1181.6 M588,1174 L584.2,1180.5 M588,1174 L574.2,1184.2 M588,1174 L578.1,1178.7 M588,1174 L578.7,1176.4 M588,1174 L567.2,1172.7 M588,1174 L580.3,1172.2 " fill="none" stroke="#c0c0c0" stroke-width="0.6" />
<path d="M594.3,1186.5 l1.6,1.2 M578.4,1176.8 l-1.6,-1.4 M590.7,1158.4 l2,1.6 M592.4,1158.7 l1.3,-1.5 M601.4,1184.9 l0,-1.2 M587.9,1182.7 l1.6,0.8 M610.4,1165.9 l-0.3,0.9 M572.2,1188.1 l1.4,-1.5 M599.7,1175 l0.3,-0.5 M609.4,1175.2 l1.1,-0.1 M609.6,1180 l0.1,-1.7 M579.9,1190.3 l1.5,-0.1 M580.5,1165.1 l-1,1.6 M580.6,1180.8 l0.4,-1.5 " fill="none" stroke="#c8c8c8" stroke-width="0.7" />
<circle cx="588" cy="1174" r="0.9" fill="#8a8a8a" stroke="#8a8a8a" stroke-width="0.5"/>
<path d="M626,1158 L609.1,1164.4 M626,1158 L608.2,1159.8 M626,1158 L612.5,1156 M626,1158 L609.9,1151.7 M626,1158 L612.9,1151.3 M626,1158 L613.9,1143.5 M626,1158 L620,1147.1 M626,1158 L622.8,1144.2 M626,1158 L623.7,1145.4 M626,1158 L627.8,1142.8 M626,1158 L633.7,1142.1 M626,1158 L632.4,1146 M626,1158 L633.4,1152.2 M626,1158 L639.3,1151.8 M626,1158 L642.9,1152.3 M626,1158 L632.6,1157.3 M626,1158 L637.4,1160.3 M626,1158 L641.8,1167.5 M626,1158 L631.3,1162.8 M626,1158 L634.4,1168.9 M626,1158 L629.2,1164.4 M626,1158 L628.6,1170.3 M626,1158 L623.8,1173.9 M626,1158 L623.3,1165.4 M626,1158 L620.8,1170.1 M626,1158 L618.7,1165.8 M626,1158 L610.9,1168.6 " fill="none" stroke="#c0c0c0" stroke-width="0.6" />
<path d="M611.2,1171.6 l-1.7,-1.9 M620.7,1150.9 l0.2,0.5 M629.9,1143.3 l0.8,0.6 M615.4,1148.7 l0.7,0.2 M628.7,1167.9 l0,1.3 M630.5,1175.1 l0.9,0.7 M642.2,1156.2 l-1.7,0.1 M622.1,1150.1 l-1,1.5 M634.8,1157.1 l-0.9,-0.8 M621.9,1172 l0.3,-0.7 M629.1,1166.1 l-1.8,0.7 M627.1,1147.4 l-0.5,1.9 M640,1150.7 l-1.2,1 " fill="none" stroke="#c8c8c8" stroke-width="0.7" />
<circle cx="626" cy="1158" r="0.9" fill="#8a8a8a" stroke="#8a8a8a" stroke-width="0.5"/>
<path d="M646,1150 L652.5,1146.7 M646,1150 L652.5,1147.1 M646,1150 L651.7,1150.2 M646,1150 L650,1151.2 M646,1150 L650.9,1153.1 M646,1150 L649.4,1153.2 M646,1150 L649.2,1154.1 M646,1150 L647.5,1153.4 M646,1150 L647.1,1158.8 M646,1150 L644.5,1158.5 M646,1150 L642.5,1157.2 M646,1150 L640.8,1155.5 M646,1150 L642.6,1153.1 M646,1150 L643,1151.4 M646,1150 L637.9,1152 M646,1150 L641,1149.1 M646,1150 L638.9,1147 M646,1150 L639.9,1145.1 M646,1150 L643.5,1147.2 M646,1150 L644,1145.4 M646,1150 L644.9,1144.8 M646,1150 L646.2,1141.2 M646,1150 L647.2,1143.9 M646,1150 L649.3,1144.6 M646,1150 L650.2,1146.4 " fill="none" stroke="#c0c0c0" stroke-width="0.6" />
<path d="M653.1,1145.7 l1.9,-1.6 M647.3,1155.4 l1.6,-1.9 M645.5,1158.4 l2,-1.3 M638.4,1153.1 l0.8,1 M646.1,1144.7 l-1,-1.9 M644.2,1145.3 l-1,1.9 " fill="none" stroke="#c8c8c8" stroke-width="0.7" />
<circle cx="646" cy="1150" r="0.9" fill="#8a8a8a" stroke="#8a8a8a" stroke-width="0.5"/>
<path d="M360,1012 L356.1,1005.9 M360,1012 L358.6,1008.8 M360,1012 L359.3,1008.8 M360,1012 L360.4,1008 M360,1012 L361.7,1006.2 M360,1012 L364.8,1006.7 M360,1012 L365.5,1006.7 M360,1012 L363.2,1010.1 M360,1012 L365.3,1010.5 M360,1012 L365.7,1012.3 M360,1012 L363.5,1013.1 M360,1012 L364.3,1014.9 M360,1012 L362.3,1014.4 M360,1012 L362.2,1015.9 M360,1012 L362.1,1019.6 M360,1012 L360.3,1016.8 M360,1012 L359.9,1016.3 M360,1012 L358.1,1015.6 M360,1012 L356,1017.2 M360,1012 L356.7,1014.6 M360,1012 L356.8,1014 M360,1012 L354.6,1012.6 M360,1012 L353.5,1011.7 M360,1012 L356.5,1011.3 M360,1012 L352.4,1009 M360,1012 L353,1006.7 " fill="none" stroke="#c0c0c0" stroke-width="0.6" />
<path d="M354.5,1018.4 l-1.4,1.2 M359.9,1018.1 l0.1,-1.6 M360.1,1021 l-0.9,-0.5 M360.5,1006.9 l-1.2,-1.1 M355.5,1016 l0.6,-0.1 M362.7,1009.1 l0.7,1.3 " fill="none" stroke="#c8c8c8" stroke-width="0.7" />
<circle cx="360" cy="1012" r="0.9" fill="#8a8a8a" stroke="#8a8a8a" stroke-width="0.5"/>
<polyline points="637.5,119.5 637.5,148" fill="none" stroke="#101010" stroke-width="4.2" stroke-linecap="butt" stroke-linejoin="miter"/>
<polyline points="637.5,148 637.5,199" fill="none" stroke="#d2d2d2" stroke-width="3.2" stroke-linecap="butt" stroke-linejoin="miter"/>
<polyline points="637.5,199 637.5,205" fill="none" stroke="#101010" stroke-width="4.2" stroke-linecap="butt" stroke-linejoin="miter"/>
<polyline points="637.5,205 637.5,256" fill="none" stroke="#d2d2d2" stroke-width="3.2" stroke-linecap="butt" stroke-linejoin="miter"/>
<polyline points="637.5,256 637.5,284" fill="none" stroke="#101010" stroke-width="4.2" stroke-linecap="butt" stroke-linejoin="miter"/>
<polyline points="637.5,322 637.5,348" fill="none" stroke="#101010" stroke-width="4.2" stroke-linecap="butt" stroke-linejoin="miter"/>
<polyline points="799.5,122 799.5,284" fill="none" stroke="#101010" stroke-width="5" stroke-linecap="butt" stroke-linejoin="miter"/>
<polyline points="799.5,284 799.5,324" fill="none" stroke="#d2d2d2" stroke-width="3.8" stroke-linecap="butt" stroke-linejoin="miter"/>
<polyline points="799.5,324 799.5,348.3" fill="none" stroke="#101010" stroke-width="5" stroke-linecap="butt" stroke-linejoin="miter"/>
<path d="M637.5,123 A82.5,82.5 0 0 1 799.5,123" fill="none" stroke="#d8d8d8" stroke-width="4.2" />
<rect x="-3" y="-2.4" width="6" height="4.8" fill="#101010" transform="translate(651 91) rotate(-54.6)"/>
<rect x="-3" y="-2.4" width="6" height="4.8" fill="#101010" transform="translate(674 68) rotate(-32.1)"/>
<rect x="-3" y="-2.4" width="6" height="4.8" fill="#101010" transform="translate(704 57.5) rotate(-10.1)"/>
<rect x="-3" y="-2.4" width="6" height="4.8" fill="#101010" transform="translate(736 58.3) rotate(12.2)"/>
<rect x="-3" y="-2.4" width="6" height="4.8" fill="#101010" transform="translate(765 70.5) rotate(34.2)"/>
<rect x="-3" y="-2.4" width="6" height="4.8" fill="#101010" transform="translate(787 93) rotate(56.1)"/>
<path d="M637.5,124 A82.5,82.5 0 0 1 638.4,118.5" fill="none" stroke="#101010" stroke-width="4.4" />
<path d="M799.5,124 A82.5,82.5 0 0 0 799,120" fill="none" stroke="#101010" stroke-width="5" />
<polyline points="366.5,347.1 387,347.1" fill="none" stroke="#101010" stroke-width="4.6" stroke-linecap="butt" stroke-linejoin="miter"/>
<polyline points="387,347.1 414.5,347.1" fill="none" stroke="#d2d2d2" stroke-width="3.4" stroke-linecap="butt" stroke-linejoin="miter"/>
<polyline points="414.5,347.1 437,347.1" fill="none" stroke="#101010" stroke-width="4.6" stroke-linecap="butt" stroke-linejoin="miter"/>
<polyline points="563.5,347.1 586,347.1" fill="none" stroke="#101010" stroke-width="4.6" stroke-linecap="butt" stroke-linejoin="miter"/>
<polyline points="586,347.1 615,347.1" fill="none" stroke="#d2d2d2" stroke-width="3.4" stroke-linecap="butt" stroke-linejoin="miter"/>
<polyline points="615,347.1 651,347.1" fill="none" stroke="#101010" stroke-width="4.6" stroke-linecap="butt" stroke-linejoin="miter"/>
<polyline points="731,347.1 766,347.1" fill="none" stroke="#101010" stroke-width="4.6" stroke-linecap="butt" stroke-linejoin="miter"/>
<polyline points="789.5,347.1 802,347.1" fill="none" stroke="#101010" stroke-width="4.6" stroke-linecap="butt" stroke-linejoin="miter"/>
<rect x="476" y="344.5" width="5" height="5" fill="#101010" stroke="#101010" stroke-width="0"/>
<rect x="519.2" y="344.5" width="5" height="5" fill="#101010" stroke="#101010" stroke-width="0"/>
<polyline points="437,345.8 563,345.8" fill="none" stroke="#bbb" stroke-width="0.7"/>
<polyline points="437,348.3 563,348.3" fill="none" stroke="#bbb" stroke-width="0.7"/>
<polyline points="651,345.8 731,345.8" fill="none" stroke="#aaa" stroke-width="0.8"/>
<polyline points="651,348.4 731,348.4" fill="none" stroke="#aaa" stroke-width="0.8"/>
<polyline points="368.8,344.7 368.8,434" fill="none" stroke="#101010" stroke-width="4.6" stroke-linecap="butt" stroke-linejoin="miter"/>
<polyline points="368.8,481 368.8,521.2" fill="none" stroke="#101010" stroke-width="4.6" stroke-linecap="butt" stroke-linejoin="miter"/>
<polyline points="367.6,434 367.6,481" fill="none" stroke="#999" stroke-width="0.8"/>
<polyline points="370.1,434 370.1,481" fill="none" stroke="#999" stroke-width="0.8"/>
<polyline points="301,369.8 314,369.8" fill="none" stroke="#101010" stroke-width="4.4" stroke-linecap="butt" stroke-linejoin="miter"/>
<polyline points="359,369.8 371,369.8" fill="none" stroke="#101010" stroke-width="4.4" stroke-linecap="butt" stroke-linejoin="miter"/>
<polyline points="283,390 287,386" fill="none" stroke="#101010" stroke-width="4.2" stroke-linecap="butt" stroke-linejoin="miter"/>
<polyline points="287,386 299.5,373.5" fill="none" stroke="#d2d2d2" stroke-width="3.2" stroke-linecap="butt" stroke-linejoin="miter"/>
<polyline points="299.5,373.5 302.5,370.5" fill="none" stroke="#101010" stroke-width="4.2" stroke-linecap="butt" stroke-linejoin="miter"/>
<polyline points="281.5,391.5 284.5,388.5 288,385" fill="none" stroke="#101010" stroke-width="4.6" stroke-linecap="butt" stroke-linejoin="miter"/>
<polyline points="299.5,373 302,370.6 303.5,369.8" fill="none" stroke="#101010" stroke-width="4.4" stroke-linecap="butt" stroke-linejoin="miter"/>
<polyline points="281,518.5 303.5,518.5" fill="none" stroke="#101010" stroke-width="4.4" stroke-linecap="butt" stroke-linejoin="miter"/>
<polyline points="346.5,518.5 371,518.5" fill="none" stroke="#101010" stroke-width="4.4" stroke-linecap="butt" stroke-linejoin="miter"/>
<polyline points="283,388 283,442" fill="none" stroke="#101010" stroke-width="3.9" stroke-linecap="butt" stroke-linejoin="miter"/>
<polyline points="283,482 283,532" fill="none" stroke="#101010" stroke-width="3.9" stroke-linecap="butt" stroke-linejoin="miter"/>
<polyline points="283,562.6 283,578" fill="none" stroke="#101010" stroke-width="3.9" stroke-linecap="butt" stroke-linejoin="miter"/>
<polyline points="212.5,363 224,363" fill="none" stroke="#101010" stroke-width="4.4" stroke-linecap="butt" stroke-linejoin="miter"/>
<polyline points="224,363 249,363" fill="none" stroke="#d2d2d2" stroke-width="3.3" stroke-linecap="butt" stroke-linejoin="miter"/>
<polyline points="249,363 259,363" fill="none" stroke="#101010" stroke-width="4.4" stroke-linecap="butt" stroke-linejoin="miter"/>
<polyline points="257.5,363 260.5,366.2" fill="none" stroke="#101010" stroke-width="4.4" stroke-linecap="butt" stroke-linejoin="miter"/>
<polyline points="260.5,366.2 273,379.4" fill="none" stroke="#d2d2d2" stroke-width="3.3" stroke-linecap="butt" stroke-linejoin="miter"/>
<polyline points="273,379.4 283,390" fill="none" stroke="#101010" stroke-width="4.4" stroke-linecap="butt" stroke-linejoin="miter"/>
<polyline points="214,363 211,366.1" fill="none" stroke="#101010" stroke-width="4.4" stroke-linecap="butt" stroke-linejoin="miter"/>
<polyline points="211,366.1 195.5,382.2" fill="none" stroke="#d2d2d2" stroke-width="3.3" stroke-linecap="butt" stroke-linejoin="miter"/>
<polyline points="195.5,382.2 188,390" fill="none" stroke="#101010" stroke-width="4.4" stroke-linecap="butt" stroke-linejoin="miter"/>
<polyline points="188,388 188,407" fill="none" stroke="#101010" stroke-width="4.4" stroke-linecap="butt" stroke-linejoin="miter"/>
<polyline points="188,444.8 188,464" fill="none" stroke="#101010" stroke-width="4.4" stroke-linecap="butt" stroke-linejoin="miter"/>
<polyline points="186.8,407 186.8,444.8" fill="none" stroke="#bbb" stroke-width="0.7"/>
<polyline points="189.2,407 189.2,444.8" fill="none" stroke="#bbb" stroke-width="0.7"/>
<polyline points="131.6,461.8 154,461.8" fill="none" stroke="#101010" stroke-width="4.6" stroke-linecap="butt" stroke-linejoin="miter"/>
<polyline points="154,461.8 174.8,461.8" fill="none" stroke="#d2d2d2" stroke-width="3.4" stroke-linecap="butt" stroke-linejoin="miter"/>
<polyline points="174.8,461.8 190.2,461.8" fill="none" stroke="#101010" stroke-width="4.6" stroke-linecap="butt" stroke-linejoin="miter"/>
<polyline points="133.8,459.5 133.8,476" fill="none" stroke="#101010" stroke-width="4.4" stroke-linecap="butt" stroke-linejoin="miter"/>
<polyline points="133.8,476 133.8,497.7" fill="none" stroke="#d2d2d2" stroke-width="3.3" stroke-linecap="butt" stroke-linejoin="miter"/>
<polyline points="133.8,497.7 133.8,547" fill="none" stroke="#101010" stroke-width="4.4" stroke-linecap="butt" stroke-linejoin="miter"/>
<polyline points="133.8,547 133.8,566" fill="none" stroke="#d2d2d2" stroke-width="3.3" stroke-linecap="butt" stroke-linejoin="miter"/>
<polyline points="133.8,566 133.8,578.6" fill="none" stroke="#101010" stroke-width="4.4" stroke-linecap="butt" stroke-linejoin="miter"/>
<polyline points="131.8,576.6 285,576.6" fill="none" stroke="#101010" stroke-width="4.4" stroke-linecap="butt" stroke-linejoin="miter"/>
<polyline points="283,576.8 307.5,576.8" fill="none" stroke="#101010" stroke-width="3.4" stroke-linecap="butt" stroke-linejoin="miter"/>
<polyline points="327.5,576.8 397,576.8" fill="none" stroke="#101010" stroke-width="3.4" stroke-linecap="butt" stroke-linejoin="miter"/>
<polyline points="421,576.8 434,576.8" fill="none" stroke="#101010" stroke-width="3.4" stroke-linecap="butt" stroke-linejoin="miter"/>
<polyline points="352.5,577 352.5,585" fill="none" stroke="#101010" stroke-width="2.6" stroke-linecap="butt" stroke-linejoin="miter"/>
<polyline points="352.5,606 352.5,614" fill="none" stroke="#101010" stroke-width="2.6" stroke-linecap="butt" stroke-linejoin="miter"/>
<polyline points="302.5,617 302.5,623" fill="none" stroke="#101010" stroke-width="3" stroke-linecap="butt" stroke-linejoin="miter"/>
<polyline points="302.5,663 302.5,670.4" fill="none" stroke="#101010" stroke-width="3" stroke-linecap="butt" stroke-linejoin="miter"/>
<polyline points="158,576 158,590" fill="none" stroke="#101010" stroke-width="4" stroke-linecap="butt" stroke-linejoin="miter"/>
<polyline points="158,590 158,615.5" fill="none" stroke="#d2d2d2" stroke-width="3" stroke-linecap="butt" stroke-linejoin="miter"/>
<polyline points="158,615.5 158,620" fill="none" stroke="#101010" stroke-width="4" stroke-linecap="butt" stroke-linejoin="miter"/>
<polyline points="155.8,618 162.5,618" fill="none" stroke="#101010" stroke-width="4" stroke-linecap="butt" stroke-linejoin="miter"/>
<polyline points="184,618 190.8,618" fill="none" stroke="#101010" stroke-width="4" stroke-linecap="butt" stroke-linejoin="miter"/>
<polyline points="162.5,618 184,618" fill="none" stroke="#999" stroke-width="0.9"/>
<polyline points="238,576 238,618.4" fill="none" stroke="#101010" stroke-width="3" stroke-linecap="butt" stroke-linejoin="miter"/>
<polyline points="286,576 286,618.4" fill="none" stroke="#101010" stroke-width="3" stroke-linecap="butt" stroke-linejoin="miter"/>
<polyline points="211,617 249,617" fill="none" stroke="#101010" stroke-width="2.8" stroke-linecap="butt" stroke-linejoin="miter"/>
<polyline points="271,617 287.5,617" fill="none" stroke="#101010" stroke-width="2.8" stroke-linecap="butt" stroke-linejoin="miter"/>
<polyline points="303.6,576 303.6,582" fill="none" stroke="#101010" stroke-width="3.6" stroke-linecap="butt" stroke-linejoin="miter"/>
<polyline points="303.6,611 303.6,617.5" fill="none" stroke="#101010" stroke-width="3.6" stroke-linecap="butt" stroke-linejoin="miter"/>
<polyline points="327.5,614.2 434,614.2" fill="none" stroke="#101010" stroke-width="3" stroke-linecap="butt" stroke-linejoin="miter"/>
<polyline points="331.5,576 331.5,585" fill="none" stroke="#101010" stroke-width="3.6" stroke-linecap="butt" stroke-linejoin="miter"/>
<polyline points="331.5,606.5 331.5,616" fill="none" stroke="#101010" stroke-width="3.6" stroke-linecap="butt" stroke-linejoin="miter"/>
<polyline points="389.5,576 389.5,614" fill="none" stroke="#101010" stroke-width="3" stroke-linecap="butt" stroke-linejoin="miter"/>
<polyline points="432.3,575 432.3,661" fill="none" stroke="#101010" stroke-width="3.4" stroke-linecap="butt" stroke-linejoin="miter"/>
<polyline points="432.3,689 432.3,697" fill="none" stroke="#101010" stroke-width="3.4" stroke-linecap="butt" stroke-linejoin="miter"/>
<polyline points="331,614 331,759.5" fill="none" stroke="#101010" stroke-width="3" stroke-linecap="butt" stroke-linejoin="miter"/>
<polyline points="331,723 394,723" fill="none" stroke="#101010" stroke-width="2.4" stroke-linecap="butt" stroke-linejoin="miter"/>
<polyline points="329.5,758.5 417.7,758.5" fill="none" stroke="#101010" stroke-width="4" stroke-linecap="butt" stroke-linejoin="miter"/>
<polyline points="415.5,756.5 415.5,771" fill="none" stroke="#101010" stroke-width="4.4" stroke-linecap="butt" stroke-linejoin="miter"/>
<polyline points="395.3,693.5 395.3,700" fill="none" stroke="#101010" stroke-width="4.2" stroke-linecap="butt" stroke-linejoin="miter"/>
<polyline points="395.3,700 395.3,722" fill="none" stroke="#d2d2d2" stroke-width="3.2" stroke-linecap="butt" stroke-linejoin="miter"/>
<polyline points="395.3,722 395.3,732" fill="none" stroke="#101010" stroke-width="4.2" stroke-linecap="butt" stroke-linejoin="miter"/>
<polyline points="395.3,732 395.3,748" fill="none" stroke="#d2d2d2" stroke-width="3.2" stroke-linecap="butt" stroke-linejoin="miter"/>
<polyline points="395.3,748 395.3,760.2" fill="none" stroke="#101010" stroke-width="4.2" stroke-linecap="butt" stroke-linejoin="miter"/>
<polyline points="393.2,696 402.5,696" fill="none" stroke="#101010" stroke-width="4.4" stroke-linecap="butt" stroke-linejoin="miter"/>
<polyline points="402.5,696 424,696" fill="none" stroke="#d2d2d2" stroke-width="3.3" stroke-linecap="butt" stroke-linejoin="miter"/>
<polyline points="424,696 434,696" fill="none" stroke="#101010" stroke-width="4.4" stroke-linecap="butt" stroke-linejoin="miter"/>
<polyline points="431.6,694 431.6,719 445.5,719 456.5,707.5" fill="none" stroke="#101010" stroke-width="4.6" stroke-linecap="butt" stroke-linejoin="miter"/>
<polyline points="543,707.5 554.5,719 568,719 568,694" fill="none" stroke="#101010" stroke-width="4.6" stroke-linecap="butt" stroke-linejoin="miter"/>
<path d="M456.5,707.5 A79,79 0 0 1 543,707.5" fill="none" stroke="#d6d6d6" stroke-width="3.8" />
<rect x="-2.6" y="-2.4" width="5.2" height="4.8" fill="#101010" transform="translate(474.5 699.3) rotate(-18.6)"/>
<rect x="-2.6" y="-2.4" width="5.2" height="4.8" fill="#101010" transform="translate(524.5 699.3) rotate(18.4)"/>
<polyline points="565.7,696 576,696" fill="none" stroke="#101010" stroke-width="4.4" stroke-linecap="butt" stroke-linejoin="miter"/>
<polyline points="576,696 595.5,696" fill="none" stroke="#d2d2d2" stroke-width="3.3" stroke-linecap="butt" stroke-linejoin="miter"/>
<polyline points="595.5,696 612.3,696" fill="none" stroke="#101010" stroke-width="4.4" stroke-linecap="butt" stroke-linejoin="miter"/>
<polyline points="610,693.8 610,746 642.5,746 642.5,751.2" fill="none" stroke="#101010" stroke-width="4.6" stroke-linecap="butt" stroke-linejoin="miter"/>
<polyline points="639.5,751.2 651,751.2" fill="none" stroke="#101010" stroke-width="4.4" stroke-linecap="butt" stroke-linejoin="miter"/>
<polyline points="651,751.2 671,751.2" fill="none" stroke="#d2d2d2" stroke-width="3.3" stroke-linecap="butt" stroke-linejoin="miter"/>
<polyline points="671,751.2 690,751.2" fill="none" stroke="#101010" stroke-width="4.4" stroke-linecap="butt" stroke-linejoin="miter"/>
<polyline points="690,751.2 709,751.2" fill="none" stroke="#d2d2d2" stroke-width="3.3" stroke-linecap="butt" stroke-linejoin="miter"/>
<polyline points="709,751.2 722.5,751.2" fill="none" stroke="#101010" stroke-width="4.4" stroke-linecap="butt" stroke-linejoin="miter"/>
<polyline points="722.5,751.2 744,751.2" fill="none" stroke="#d2d2d2" stroke-width="3.3" stroke-linecap="butt" stroke-linejoin="miter"/>
<polyline points="744,751.2 757.2,751.2" fill="none" stroke="#101010" stroke-width="4.4" stroke-linecap="butt" stroke-linejoin="miter"/>
<polyline points="755,751.2 755,746 787,746" fill="none" stroke="#101010" stroke-width="4.6" stroke-linecap="butt" stroke-linejoin="miter"/>
<polyline points="787,748.3 787,606" fill="none" stroke="#101010" stroke-width="4.6" stroke-linecap="butt" stroke-linejoin="miter"/>
<polyline points="787,606 787,587" fill="none" stroke="#d2d2d2" stroke-width="3.4" stroke-linecap="butt" stroke-linejoin="miter"/>
<polyline points="787,587 787,573.8" fill="none" stroke="#101010" stroke-width="4.6" stroke-linecap="butt" stroke-linejoin="miter"/>
<polyline points="789.2,576 754.3,576" fill="none" stroke="#101010" stroke-width="4.6" stroke-linecap="butt" stroke-linejoin="miter"/>
<polyline points="756.5,344 756.5,406" fill="none" stroke="#101010" stroke-width="4.6" stroke-linecap="butt" stroke-linejoin="miter"/>
<polyline points="756.5,406 756.5,427.5" fill="none" stroke="#d2d2d2" stroke-width="3.4" stroke-linecap="butt" stroke-linejoin="miter"/>
<polyline points="756.5,427.5 756.5,465" fill="none" stroke="#101010" stroke-width="4.6" stroke-linecap="butt" stroke-linejoin="miter"/>
<polyline points="756.5,465 756.5,480" fill="none" stroke="#d2d2d2" stroke-width="3.4" stroke-linecap="butt" stroke-linejoin="miter"/>
<polyline points="756.5,480 756.5,517" fill="none" stroke="#101010" stroke-width="4.6" stroke-linecap="butt" stroke-linejoin="miter"/>
<polyline points="756.5,555 756.5,578.2" fill="none" stroke="#101010" stroke-width="4.6" stroke-linecap="butt" stroke-linejoin="miter"/>
<polyline points="630,397.7 630,578" fill="none" stroke="#101010" stroke-width="3" stroke-linecap="butt" stroke-linejoin="miter"/>
<polyline points="628.5,399 672.5,399" fill="none" stroke="#101010" stroke-width="2.8" stroke-linecap="butt" stroke-linejoin="miter"/>
<polyline points="709,399 756,399" fill="none" stroke="#101010" stroke-width="2.8" stroke-linecap="butt" stroke-linejoin="miter"/>
<polyline points="630,492.5 756,492.5" fill="none" stroke="#101010" stroke-width="2.8" stroke-linecap="butt" stroke-linejoin="miter"/>
<polyline points="620,520 630,520" fill="none" stroke="#101010" stroke-width="3" stroke-linecap="butt" stroke-linejoin="miter"/>
<polyline points="620,567 630,567" fill="none" stroke="#101010" stroke-width="3" stroke-linecap="butt" stroke-linejoin="miter"/>
<rect x="566" y="577" width="64" height="58" fill="#e6e6e6" stroke="none" stroke-width="0"/>
<polyline points="570,583 627,583" fill="none" stroke="#cfcfcf" stroke-width="1.6"/>
<polyline points="570,630.5 627,630.5" fill="none" stroke="#cfcfcf" stroke-width="1.6"/>
<polyline points="570.5,580 570.5,633" fill="none" stroke="#d0d0d0" stroke-width="0.8"/>
<polyline points="626.5,580 626.5,633" fill="none" stroke="#d0d0d0" stroke-width="0.8"/>
<polyline points="566,575.6 566,636.4" fill="none" stroke="#101010" stroke-width="3" stroke-linecap="butt" stroke-linejoin="miter"/>
<polyline points="564.5,577 675.4,577" fill="none" stroke="#101010" stroke-width="2.8" stroke-linecap="butt" stroke-linejoin="miter"/>
<polyline points="564.5,635 675.4,635" fill="none" stroke="#101010" stroke-width="2.8" stroke-linecap="butt" stroke-linejoin="miter"/>
<polyline points="674,577 674,598" fill="none" stroke="#101010" stroke-width="2.8" stroke-linecap="butt" stroke-linejoin="miter"/>
<polyline points="674,619.6 674,636.4" fill="none" stroke="#101010" stroke-width="2.8" stroke-linecap="butt" stroke-linejoin="miter"/>
<polyline points="630,577 630,597" fill="none" stroke="#101010" stroke-width="2.8" stroke-linecap="butt" stroke-linejoin="miter"/>
<polyline points="630,618.3 630,636.4" fill="none" stroke="#101010" stroke-width="2.8" stroke-linecap="butt" stroke-linejoin="miter"/>
<polyline points="717.5,575.6 717.5,636.4" fill="none" stroke="#101010" stroke-width="3" stroke-linecap="butt" stroke-linejoin="miter"/>
<polyline points="716,577 755,577" fill="none" stroke="#101010" stroke-width="2.8" stroke-linecap="butt" stroke-linejoin="miter"/>
<polyline points="717.5,619.5 787,619.5" fill="none" stroke="#101010" stroke-width="2.8" stroke-linecap="butt" stroke-linejoin="miter"/>
<polyline points="717.5,635 784,635" fill="none" stroke="#101010" stroke-width="2.8" stroke-linecap="butt" stroke-linejoin="miter"/>
<polyline points="782.5,619.5 782.5,636.4" fill="none" stroke="#101010" stroke-width="2.8" stroke-linecap="butt" stroke-linejoin="miter"/>
<polyline points="567.5,634 567.5,661" fill="none" stroke="#101010" stroke-width="3.2" stroke-linecap="butt" stroke-linejoin="miter"/>
<polyline points="567.5,689 567.5,697" fill="none" stroke="#101010" stroke-width="3.2" stroke-linecap="butt" stroke-linejoin="miter"/>
<polyline points="188.6,616 188.6,641.7" fill="none" stroke="#101010" stroke-width="4.4" stroke-linecap="butt" stroke-linejoin="miter"/>
<polyline points="188.6,641.7 188.6,673.4" fill="none" stroke="#d2d2d2" stroke-width="3.3" stroke-linecap="butt" stroke-linejoin="miter"/>
<polyline points="188.6,673.4 188.6,698.2" fill="none" stroke="#101010" stroke-width="4.4" stroke-linecap="butt" stroke-linejoin="miter"/>
<polyline points="185.8,696 304,696" fill="none" stroke="#101010" stroke-width="4.4" stroke-linecap="butt" stroke-linejoin="miter"/>
<polyline points="281.5,617 281.5,670.4" fill="none" stroke="#101010" stroke-width="3" stroke-linecap="butt" stroke-linejoin="miter"/>
<polyline points="280,669 304,669" fill="none" stroke="#101010" stroke-width="3" stroke-linecap="butt" stroke-linejoin="miter"/>
<polyline points="225.5,694 225.5,717.5" fill="none" stroke="#101010" stroke-width="4.4" stroke-linecap="butt" stroke-linejoin="miter"/>
<polyline points="225.5,740 225.5,760.2" fill="none" stroke="#101010" stroke-width="4.4" stroke-linecap="butt" stroke-linejoin="miter"/>
<polyline points="223.3,758 277,758" fill="none" stroke="#101010" stroke-width="4.4" stroke-linecap="butt" stroke-linejoin="miter"/>
<polyline points="276,741.2 276,760" fill="none" stroke="#101010" stroke-width="2.6" stroke-linecap="butt" stroke-linejoin="miter"/>
<polyline points="274.7,742.5 303,742.5" fill="none" stroke="#101010" stroke-width="2.6" stroke-linecap="butt" stroke-linejoin="miter"/>
<polyline points="302,694 302,709" fill="none" stroke="#101010" stroke-width="4" stroke-linecap="butt" stroke-linejoin="miter"/>
<polyline points="302,741 302,761" fill="none" stroke="#101010" stroke-width="4" stroke-linecap="butt" stroke-linejoin="miter"/>
<polyline points="296,759.2 304,759.2" fill="none" stroke="#101010" stroke-width="3.6" stroke-linecap="butt" stroke-linejoin="miter"/>
<polyline points="260,758 260,765" fill="none" stroke="#101010" stroke-width="4.4" stroke-linecap="butt" stroke-linejoin="miter"/>
<polyline points="260,784 260,851.2" fill="none" stroke="#101010" stroke-width="4.4" stroke-linecap="butt" stroke-linejoin="miter"/>
<polyline points="257.8,849 278,849" fill="none" stroke="#101010" stroke-width="4.4" stroke-linecap="butt" stroke-linejoin="miter"/>
<polyline points="278,849 300,849" fill="none" stroke="#d2d2d2" stroke-width="3.3" stroke-linecap="butt" stroke-linejoin="miter"/>
<polyline points="300,849 324.2,849" fill="none" stroke="#101010" stroke-width="4.4" stroke-linecap="butt" stroke-linejoin="miter"/>
<polyline points="322,846.8 322,979.9" fill="none" stroke="#101010" stroke-width="4.4" stroke-linecap="butt" stroke-linejoin="miter"/>
<polyline points="319.8,977.6 335.5,977.6" fill="none" stroke="#101010" stroke-width="4.6" stroke-linecap="butt" stroke-linejoin="miter"/>
<polyline points="335.5,977.6 352,977.6" fill="none" stroke="#d2d2d2" stroke-width="3.4" stroke-linecap="butt" stroke-linejoin="miter"/>
<polyline points="352,977.6 493,977.6" fill="none" stroke="#101010" stroke-width="4.6" stroke-linecap="butt" stroke-linejoin="miter"/>
<polyline points="493,977.6 515,977.6" fill="none" stroke="#d2d2d2" stroke-width="3.4" stroke-linecap="butt" stroke-linejoin="miter"/>
<polyline points="515,977.6 535.2,977.6" fill="none" stroke="#101010" stroke-width="4.6" stroke-linecap="butt" stroke-linejoin="miter"/>
<polyline points="463,964 463,979" fill="none" stroke="#101010" stroke-width="4.6" stroke-linecap="butt" stroke-linejoin="miter"/>
<polyline points="415.3,825 415.3,840.5 462.8,840.5 462.8,854" fill="none" stroke="#101010" stroke-width="4.6" stroke-linecap="butt" stroke-linejoin="miter"/>
<polyline points="415.5,771 415.5,825" fill="none" stroke="#999" stroke-width="0.8"/>
<polyline points="417.5,771 417.5,825" fill="none" stroke="#999" stroke-width="0.8"/>
<polyline points="462,851 462,962" fill="none" stroke="#999" stroke-width="0.8"/>
<polyline points="464.5,851 464.5,962" fill="none" stroke="#999" stroke-width="0.8"/>
<polyline points="369,976 369,984" fill="none" stroke="#101010" stroke-width="4.4" stroke-linecap="butt" stroke-linejoin="miter"/>
<polyline points="369,984 369,1005" fill="none" stroke="#d2d2d2" stroke-width="3.3" stroke-linecap="butt" stroke-linejoin="miter"/>
<polyline points="369,1005 369,1015" fill="none" stroke="#101010" stroke-width="4.4" stroke-linecap="butt" stroke-linejoin="miter"/>
<polyline points="368.7,1013 398.7,1110" fill="none" stroke="#101010" stroke-width="4.6" stroke-linecap="butt" stroke-linejoin="miter"/>
<polyline points="398.7,1110 404.9,1130" fill="none" stroke="#d2d2d2" stroke-width="3.4" stroke-linecap="butt" stroke-linejoin="miter"/>
<polyline points="404.9,1130 414.9,1162.5" fill="none" stroke="#101010" stroke-width="4.6" stroke-linecap="butt" stroke-linejoin="miter"/>
<polyline points="414.9,1162.5 421.1,1182.5" fill="none" stroke="#d2d2d2" stroke-width="3.4" stroke-linecap="butt" stroke-linejoin="miter"/>
<polyline points="421.1,1182.5 425.6,1197" fill="none" stroke="#101010" stroke-width="4.6" stroke-linecap="butt" stroke-linejoin="miter"/>
<polyline points="423,1195.6 455,1185.7" fill="none" stroke="#101010" stroke-width="4.6" stroke-linecap="butt" stroke-linejoin="miter"/>
<polyline points="455,1185.7 474.4,1179.6" fill="none" stroke="#d2d2d2" stroke-width="3.4" stroke-linecap="butt" stroke-linejoin="miter"/>
<polyline points="474.4,1179.6 514.4,1167.2" fill="none" stroke="#101010" stroke-width="4.6" stroke-linecap="butt" stroke-linejoin="miter"/>
<polyline points="514.4,1167.2 535,1160.8" fill="none" stroke="#d2d2d2" stroke-width="3.4" stroke-linecap="butt" stroke-linejoin="miter"/>
<polyline points="535,1160.8 581.6,1146.3" fill="none" stroke="#101010" stroke-width="4.6" stroke-linecap="butt" stroke-linejoin="miter"/>
<polyline points="581.6,1146.3 600.8,1140.3" fill="none" stroke="#d2d2d2" stroke-width="3.4" stroke-linecap="butt" stroke-linejoin="miter"/>
<polyline points="600.8,1140.3 629.5,1131.4" fill="none" stroke="#101010" stroke-width="4.6" stroke-linecap="butt" stroke-linejoin="miter"/>
<polyline points="626.9,1134 619.5,1110" fill="none" stroke="#101010" stroke-width="4.6" stroke-linecap="butt" stroke-linejoin="miter"/>
<polyline points="619.5,1110 613.7,1091" fill="none" stroke="#d2d2d2" stroke-width="3.4" stroke-linecap="butt" stroke-linejoin="miter"/>
<polyline points="613.7,1091 609.8,1078.4" fill="none" stroke="#101010" stroke-width="4.6" stroke-linecap="butt" stroke-linejoin="miter"/>
<polyline points="609.8,1078.4 603.5,1058" fill="none" stroke="#d2d2d2" stroke-width="3.4" stroke-linecap="butt" stroke-linejoin="miter"/>
<polyline points="603.5,1058 598.3,1041.2" fill="none" stroke="#101010" stroke-width="4.6" stroke-linecap="butt" stroke-linejoin="miter"/>
<polyline points="599.6,1041.2 568,1041.2 562.5,1036.5" fill="none" stroke="#101010" stroke-width="4.6" stroke-linecap="butt" stroke-linejoin="miter"/>
<polyline points="533,975.4 533,1008.5 512,1026.5" fill="none" stroke="#101010" stroke-width="4.2" stroke-linecap="butt" stroke-linejoin="miter"/>
<polygon points="531,1003 538.5,1008.5 533,1014" fill="#101010"/>
<polyline points="435.6,1026 477,1026" fill="none" stroke="#101010" stroke-width="3.4" stroke-linecap="butt" stroke-linejoin="miter"/>
<polyline points="477,1026 512,1026" fill="none" stroke="#888" stroke-width="0.9"/>
<polyline points="437,977 437,1027.6" fill="none" stroke="#101010" stroke-width="3" stroke-linecap="butt" stroke-linejoin="miter"/>
<polyline points="453.5,977 453.5,1009.4" fill="none" stroke="#101010" stroke-width="3" stroke-linecap="butt" stroke-linejoin="miter"/>
<polyline points="437,1008 455,1008" fill="none" stroke="#101010" stroke-width="2.8" stroke-linecap="butt" stroke-linejoin="miter"/>
<polyline points="369,1016 413,1016" fill="none" stroke="#101010" stroke-width="2.8" stroke-linecap="butt" stroke-linejoin="miter"/>
<polyline points="377,1040 413,1040" fill="none" stroke="#101010" stroke-width="2.8" stroke-linecap="butt" stroke-linejoin="miter"/>
<polyline points="385,1064.5 432.5,1064.5 443,1094 427,1099.5" fill="none" stroke="#101010" stroke-width="2.8" stroke-linecap="butt" stroke-linejoin="miter"/>
<polyline points="405.5,1110 398,1073.5 425,1073.5 434,1091 423,1096" fill="none" stroke="#101010" stroke-width="2.4" stroke-linecap="butt" stroke-linejoin="miter"/>
<polyline points="471,1065 505,1167.5" fill="none" stroke="#101010" stroke-width="2.6" stroke-linecap="butt" stroke-linejoin="miter"/>
<text x="307.4" y="86.8" font-size="26.6" textLength="78" lengthAdjust="spacingAndGlyphs" font-weight="normal" fill="#141414" stroke="#141414" stroke-width="0.20" >97'-11"</text>
<text x="62.8" y="704.2" font-size="27" textLength="75.6" lengthAdjust="spacingAndGlyphs" font-weight="normal" fill="#141414" stroke="#141414" stroke-width="0.20" >166'-9"</text>
<text x="34.3" y="1214.8" font-size="18.9" textLength="179" lengthAdjust="spacingAndGlyphs" font-weight="normal" fill="#141414" stroke="#141414" stroke-width="0.45" >FIRST FLOOR PLAN</text>
<text x="477" y="195" font-size="12.6" textLength="47" lengthAdjust="spacingAndGlyphs" font-weight="normal" fill="#141414" stroke="#141414" stroke-width="0.30" >BRIDGE</text>
<text x="557" y="204.5" font-size="12.6" textLength="33" lengthAdjust="spacingAndGlyphs" font-weight="normal" fill="#141414" stroke="#141414" stroke-width="0.30" >POOL</text>
<text x="382" y="259.3" font-size="4.6" textLength="37.5" lengthAdjust="spacingAndGlyphs" font-weight="bold" fill="#3a3a3a" stroke="#3a3a3a" stroke-width="0.12" >WATERFALL</text>
<text x="581" y="259.3" font-size="4.6" textLength="37.5" lengthAdjust="spacingAndGlyphs" font-weight="bold" fill="#3a3a3a" stroke="#3a3a3a" stroke-width="0.12" >WATERFALL</text>
<text x="436" y="292.7" font-size="14.1" textLength="128.5" lengthAdjust="spacingAndGlyphs" font-weight="normal" fill="#141414" stroke="#141414" stroke-width="0.38" >COVERED PATIO</text>
<text x="462" y="304" font-size="11.6" textLength="77" lengthAdjust="spacingAndGlyphs" font-weight="normal" fill="#141414" stroke="#141414" stroke-width="0.32" >39'-2" X 12'-0"</text>
<text x="449" y="313.7" font-size="11.6" textLength="100.5" lengthAdjust="spacingAndGlyphs" font-weight="normal" fill="#141414" stroke="#141414" stroke-width="0.32" >OPEN TO ABOVE</text>
<text x="667" y="220.6" font-size="14.1" textLength="110" lengthAdjust="spacingAndGlyphs" font-weight="normal" fill="#141414" stroke="#141414" stroke-width="0.38" >FAMILY ROOM</text>
<text x="682.5" y="232" font-size="11.6" textLength="78" lengthAdjust="spacingAndGlyphs" font-weight="normal" fill="#141414" stroke="#141414" stroke-width="0.32" >23'-1" X 41'-1"</text>
<text x="687" y="243.8" font-size="11.6" textLength="69" lengthAdjust="spacingAndGlyphs" font-weight="normal" fill="#141414" stroke="#141414" stroke-width="0.32" >10' TO 10"6"</text>
<text x="687.5" y="255" font-size="11.6" textLength="68.5" lengthAdjust="spacingAndGlyphs" font-weight="normal" fill="#141414" stroke="#141414" stroke-width="0.32" >TO 11' CLG.</text>
<text x="454" y="361.3" font-size="14.1" textLength="31" lengthAdjust="spacingAndGlyphs" font-weight="normal" fill="#141414" stroke="#141414" stroke-width="0.38" >BAR</text>
<text x="449" y="372" font-size="11.6" textLength="42" lengthAdjust="spacingAndGlyphs" font-weight="normal" fill="#141414" stroke="#141414" stroke-width="0.32" >8' X 8'2"</text>
<text x="436" y="384" font-size="11.6" textLength="69" lengthAdjust="spacingAndGlyphs" font-weight="normal" fill="#141414" stroke="#141414" stroke-width="0.32" >10' TO 10"6"</text>
<text x="436" y="394.7" font-size="11.6" textLength="69" lengthAdjust="spacingAndGlyphs" font-weight="normal" fill="#141414" stroke="#141414" stroke-width="0.32" >TO 11' CLG.</text>
<text x="447.5" y="452.7" font-size="14.1" textLength="105" lengthAdjust="spacingAndGlyphs" font-weight="normal" fill="#141414" stroke="#141414" stroke-width="0.38" >LIVING ROOM</text>
<text x="461" y="464.4" font-size="11.6" textLength="79.5" lengthAdjust="spacingAndGlyphs" font-weight="normal" fill="#141414" stroke="#141414" stroke-width="0.32" >37'-8" X 33'-1"</text>
<text x="448.4" y="474.2" font-size="11.6" textLength="101.1" lengthAdjust="spacingAndGlyphs" font-weight="normal" fill="#141414" stroke="#141414" stroke-width="0.32" >OPEN TO ABOVE</text>
<text x="205" y="394" font-size="14.1" textLength="62" lengthAdjust="spacingAndGlyphs" font-weight="normal" fill="#141414" stroke="#141414" stroke-width="0.38" >SITTING</text>
<text x="196" y="405.2" font-size="11.6" textLength="79" lengthAdjust="spacingAndGlyphs" font-weight="normal" fill="#141414" stroke="#141414" stroke-width="0.32" >13'-4" X 14'-5"</text>
<text x="201" y="417" font-size="11.6" textLength="69" lengthAdjust="spacingAndGlyphs" font-weight="normal" fill="#141414" stroke="#141414" stroke-width="0.32" >10' TO 10'6"</text>
<text x="201" y="427.7" font-size="11.6" textLength="69" lengthAdjust="spacingAndGlyphs" font-weight="normal" fill="#141414" stroke="#141414" stroke-width="0.32" >TO 11' CLG.</text>
<text x="299" y="428" font-size="14.1" textLength="54" lengthAdjust="spacingAndGlyphs" font-weight="normal" fill="#141414" stroke="#141414" stroke-width="0.38" >DINING</text>
<text x="304" y="442.5" font-size="14.1" textLength="46.5" lengthAdjust="spacingAndGlyphs" font-weight="normal" fill="#141414" stroke="#141414" stroke-width="0.38" >ROOM</text>
<text x="287.5" y="453.3" font-size="11.6" textLength="78" lengthAdjust="spacingAndGlyphs" font-weight="normal" fill="#141414" stroke="#141414" stroke-width="0.32" >12'-4" X 21'-2"</text>
<text x="286.5" y="464.2" font-size="11.6" textLength="80" lengthAdjust="spacingAndGlyphs" font-weight="normal" fill="#141414" stroke="#141414" stroke-width="0.32" >10'-0" to 10'-6"</text>
<text x="295.5" y="475" font-size="11.6" textLength="60.5" lengthAdjust="spacingAndGlyphs" font-weight="normal" fill="#141414" stroke="#141414" stroke-width="0.32" >to 11' CLG.</text>
<text x="171" y="495" font-size="14.1" textLength="68" lengthAdjust="spacingAndGlyphs" font-weight="normal" fill="#141414" stroke="#141414" stroke-width="0.38" >KITCHEN</text>
<text x="165" y="506.3" font-size="11.6" textLength="79" lengthAdjust="spacingAndGlyphs" font-weight="normal" fill="#141414" stroke="#141414" stroke-width="0.32" >21'-3" X 16'-4"</text>
<text x="162.5" y="517.7" font-size="11.6" textLength="83.5" lengthAdjust="spacingAndGlyphs" font-weight="normal" fill="#141414" stroke="#141414" stroke-width="0.32" >9' TO 10" CLG.</text>
<text x="311" y="551.2" font-size="14.1" textLength="46.5" lengthAdjust="spacingAndGlyphs" font-weight="normal" fill="#141414" stroke="#141414" stroke-width="0.38" >PWDR</text>
<text x="319" y="562.6" font-size="11.6" textLength="32" lengthAdjust="spacingAndGlyphs" font-weight="normal" fill="#141414" stroke="#141414" stroke-width="0.32" >5' X 5'</text>
<text x="311" y="574" font-size="11.6" textLength="45" lengthAdjust="spacingAndGlyphs" font-weight="normal" fill="#141414" stroke="#141414" stroke-width="0.32" >10' CLG.</text>
<text x="644.5" y="434" font-size="14.1" textLength="103" lengthAdjust="spacingAndGlyphs" font-weight="normal" fill="#141414" stroke="#141414" stroke-width="0.38" >MEDIA ROOM</text>
<text x="657.5" y="444.3" font-size="11.6" textLength="77" lengthAdjust="spacingAndGlyphs" font-weight="normal" fill="#141414" stroke="#141414" stroke-width="0.32" >18'-0" X 13'-5"</text>
<text x="662.5" y="455.2" font-size="11.6" textLength="65" lengthAdjust="spacingAndGlyphs" font-weight="normal" fill="#141414" stroke="#141414" stroke-width="0.32" >10' TO 10'6"</text>
<text x="662" y="466.3" font-size="11.6" textLength="65.5" lengthAdjust="spacingAndGlyphs" font-weight="normal" fill="#141414" stroke="#141414" stroke-width="0.32" >TO 11' CLG.</text>
<text x="657.5" y="528" font-size="14.1" textLength="78" lengthAdjust="spacingAndGlyphs" font-weight="normal" fill="#141414" stroke="#141414" stroke-width="0.38" >EXERCISE</text>
<text x="657.5" y="539" font-size="11.6" textLength="77" lengthAdjust="spacingAndGlyphs" font-weight="normal" fill="#141414" stroke="#141414" stroke-width="0.32" >18'-0" X 12'-0"</text>
<text x="632.5" y="550.6" font-size="11.6" textLength="138.5" lengthAdjust="spacingAndGlyphs" font-weight="normal" fill="#141414" stroke="#141414" stroke-width="0.32" >10' TO 10'6" TO 11' CLG.</text>
<text x="571" y="601.2" font-size="14.1" textLength="55" lengthAdjust="spacingAndGlyphs" font-weight="normal" fill="#141414" stroke="#141414" stroke-width="0.38" >SAUNA</text>
<text x="569.5" y="612.2" font-size="11.6" textLength="58" lengthAdjust="spacingAndGlyphs" font-weight="normal" fill="#141414" stroke="#141414" stroke-width="0.32" >8'10"X8'4"</text>
<text x="575" y="624" font-size="11.6" textLength="46" lengthAdjust="spacingAndGlyphs" font-weight="normal" fill="#141414" stroke="#141414" stroke-width="0.32" >10' CLG.</text>
<text x="719.6" y="589.6" font-size="14.1" textLength="46.4" lengthAdjust="spacingAndGlyphs" font-weight="normal" fill="#141414" stroke="#141414" stroke-width="0.38" >PWDR</text>
<text x="721" y="599.2" font-size="11.6" textLength="45" lengthAdjust="spacingAndGlyphs" font-weight="normal" fill="#141414" stroke="#141414" stroke-width="0.32" >9'8" X 6'</text>
<text x="720" y="608.8" font-size="11.6" textLength="46" lengthAdjust="spacingAndGlyphs" font-weight="normal" fill="#141414" stroke="#141414" stroke-width="0.32" >10' CLG.</text>
<text x="721" y="634" font-size="14.1" textLength="61" lengthAdjust="spacingAndGlyphs" font-weight="normal" fill="#141414" stroke="#141414" stroke-width="0.38" >CLOSET</text>
<text x="651" y="684.3" font-size="14.1" textLength="93" lengthAdjust="spacingAndGlyphs" font-weight="normal" fill="#141414" stroke="#141414" stroke-width="0.38" >PLAY ROOM</text>
<text x="657.5" y="695.2" font-size="11.6" textLength="78.5" lengthAdjust="spacingAndGlyphs" font-weight="normal" fill="#141414" stroke="#141414" stroke-width="0.32" >25'-1" X 16'-3"</text>
<text x="637" y="707.7" font-size="11.6" textLength="119" lengthAdjust="spacingAndGlyphs" font-weight="normal" fill="#141414" stroke="#141414" stroke-width="0.32" >10'-0" TO 11'-0" CLG.</text>
<text x="396" y="599.6" font-size="13.2" textLength="33.5" lengthAdjust="spacingAndGlyphs" font-weight="normal" fill="#141414" stroke="#141414" stroke-width="0.36" >ELEV.</text>
<text x="473" y="665.2" font-size="14.1" textLength="54" lengthAdjust="spacingAndGlyphs" font-weight="normal" fill="#141414" stroke="#141414" stroke-width="0.38" >FOYER</text>
<text x="461" y="676.3" font-size="11.6" textLength="78" lengthAdjust="spacingAndGlyphs" font-weight="normal" fill="#141414" stroke="#141414" stroke-width="0.32" >19'-4" X 20'-7"</text>
<text x="449.5" y="688" font-size="11.6" textLength="101.5" lengthAdjust="spacingAndGlyphs" font-weight="normal" fill="#141414" stroke="#141414" stroke-width="0.32" >OPEN TO ABOVE</text>
<text x="472" y="715.2" font-size="14.1" textLength="55.5" lengthAdjust="spacingAndGlyphs" font-weight="normal" fill="#141414" stroke="#141414" stroke-width="0.38" >PORCH</text>
<text x="464" y="726.3" font-size="11.6" textLength="72" lengthAdjust="spacingAndGlyphs" font-weight="normal" fill="#141414" stroke="#141414" stroke-width="0.32" >16'-1" X 7'-8"</text>
<text x="469" y="738" font-size="11.6" textLength="62" lengthAdjust="spacingAndGlyphs" font-weight="normal" fill="#141414" stroke="#141414" stroke-width="0.32" >19'-0" CLG.</text>
<text x="354" y="643" font-size="14.1" textLength="57" lengthAdjust="spacingAndGlyphs" font-weight="normal" fill="#141414" stroke="#141414" stroke-width="0.38" >OFFICE</text>
<text x="344" y="654.6" font-size="11.6" textLength="78" lengthAdjust="spacingAndGlyphs" font-weight="normal" fill="#141414" stroke="#141414" stroke-width="0.32" >14'-4" X 11'-7"</text>
<text x="349" y="665.6" font-size="11.6" textLength="67" lengthAdjust="spacingAndGlyphs" font-weight="normal" fill="#141414" stroke="#141414" stroke-width="0.32" >10' TO 10'6"</text>
<text x="348" y="676.3" font-size="11.6" textLength="68" lengthAdjust="spacingAndGlyphs" font-weight="normal" fill="#141414" stroke="#141414" stroke-width="0.32" >TO 11' CLG.</text>
<text x="242" y="591.2" font-size="14.1" textLength="42.4" lengthAdjust="spacingAndGlyphs" font-weight="normal" fill="#141414" stroke="#141414" stroke-width="0.38" >W.I.C.</text>
<text x="240" y="602" font-size="11.6" textLength="46" lengthAdjust="spacingAndGlyphs" font-weight="normal" fill="#141414" stroke="#141414" stroke-width="0.32" >6'8"X5'7</text>
<text x="240" y="613" font-size="11.6" textLength="44" lengthAdjust="spacingAndGlyphs" font-weight="normal" fill="#141414" stroke="#141414" stroke-width="0.32" >10' CLG</text>
<text x="290" y="601" font-size="11.5" textLength="9.5" lengthAdjust="spacingAndGlyphs" font-weight="normal" fill="#141414" stroke="#141414" stroke-width="0.30" >L.</text>
<text x="209" y="642.6" font-size="14.1" textLength="56.5" lengthAdjust="spacingAndGlyphs" font-weight="normal" fill="#141414" stroke="#141414" stroke-width="0.38" >MAID' S</text>
<text x="212.5" y="656.2" font-size="14.1" textLength="48.5" lengthAdjust="spacingAndGlyphs" font-weight="normal" fill="#141414" stroke="#141414" stroke-width="0.38" >ROOM</text>
<text x="197" y="667.2" font-size="11.6" textLength="79" lengthAdjust="spacingAndGlyphs" font-weight="normal" fill="#141414" stroke="#141414" stroke-width="0.32" >13'-1" X 11'-0"</text>
<text x="204.5" y="678" font-size="11.6" textLength="63" lengthAdjust="spacingAndGlyphs" font-weight="normal" fill="#141414" stroke="#141414" stroke-width="0.32" >10'-0" CLG.</text>
<text x="125" y="633" font-size="14.1" textLength="40.6" lengthAdjust="spacingAndGlyphs" font-weight="normal" fill="#141414" stroke="#141414" stroke-width="0.38" >BATH</text>
<text x="112" y="644" font-size="11.6" textLength="66" lengthAdjust="spacingAndGlyphs" font-weight="normal" fill="#141414" stroke="#141414" stroke-width="0.32" >8'-6" X 5'-7"</text>
<text x="114" y="655" font-size="11.6" textLength="57" lengthAdjust="spacingAndGlyphs" font-weight="normal" fill="#141414" stroke="#141414" stroke-width="0.32" >9'-6" CLG.</text>
<text x="160" y="769.6" font-size="14.1" textLength="52" lengthAdjust="spacingAndGlyphs" font-weight="normal" fill="#141414" stroke="#141414" stroke-width="0.38" >LNDRY</text>
<text x="150.5" y="781.4" font-size="11.6" textLength="71.1" lengthAdjust="spacingAndGlyphs" font-weight="normal" fill="#141414" stroke="#141414" stroke-width="0.32" >10'-8" X 8'-9"</text>
<text x="154" y="792.2" font-size="11.6" textLength="61" lengthAdjust="spacingAndGlyphs" font-weight="normal" fill="#141414" stroke="#141414" stroke-width="0.32" >10'-0" CLG.</text>
<text x="305" y="774" font-size="14.1" textLength="41" lengthAdjust="spacingAndGlyphs" font-weight="normal" fill="#141414" stroke="#141414" stroke-width="0.38" >BATH</text>
<text x="290" y="784.7" font-size="11.6" textLength="71" lengthAdjust="spacingAndGlyphs" font-weight="normal" fill="#141414" stroke="#141414" stroke-width="0.32" >8'-10" X 5'-0"</text>
<text x="296" y="795.6" font-size="11.6" textLength="55" lengthAdjust="spacingAndGlyphs" font-weight="normal" fill="#141414" stroke="#141414" stroke-width="0.32" >9'-6" CLG.</text>
<text x="331" y="898.8" font-size="15.4" textLength="119" lengthAdjust="spacingAndGlyphs" font-weight="normal" fill="#141414" stroke="#141414" stroke-width="0.40" >3-CAR GARAGE</text>
<text x="351" y="911" font-size="11.6" textLength="78" lengthAdjust="spacingAndGlyphs" font-weight="normal" fill="#141414" stroke="#141414" stroke-width="0.32" >31'-4" X 22'-0"</text>
<text x="359" y="922" font-size="11.6" textLength="61.7" lengthAdjust="spacingAndGlyphs" font-weight="normal" fill="#141414" stroke="#141414" stroke-width="0.32" >10'-0" CLG.</text>
<text x="531" y="904.3" font-size="16" textLength="83" lengthAdjust="spacingAndGlyphs" font-weight="normal" fill="#141414" stroke="#141414" stroke-width="0.30" >DRIVEWAY</text>
<text x="516" y="1071.8" font-size="14.1" textLength="51.7" lengthAdjust="spacingAndGlyphs" font-weight="normal" fill="#141414" stroke="#141414" stroke-width="0.38" >GUEST</text>
<text x="506" y="1084.5" font-size="14.1" textLength="73.7" lengthAdjust="spacingAndGlyphs" font-weight="normal" fill="#141414" stroke="#141414" stroke-width="0.38" >COTTAGE</text>
<text x="504.5" y="1095.7" font-size="11.6" textLength="77.5" lengthAdjust="spacingAndGlyphs" font-weight="normal" fill="#141414" stroke="#141414" stroke-width="0.32" >17'-0" X 31'-8"</text>
<text x="512.2" y="1106.4" font-size="11.6" textLength="59.3" lengthAdjust="spacingAndGlyphs" font-weight="normal" fill="#141414" stroke="#141414" stroke-width="0.32" >10'-0" CLG.</text>
<text x="440" y="988.5" font-size="5.4" textLength="10" lengthAdjust="spacingAndGlyphs" font-weight="bold" fill="#3a3a3a" stroke="#3a3a3a" stroke-width="0.14" >WH</text>
<text x="459" y="991.3" font-size="5.2" textLength="11" lengthAdjust="spacingAndGlyphs" font-weight="bold" fill="#3a3a3a" stroke="#3a3a3a" stroke-width="0.14" >REF</text>
<text x="481" y="989.8" font-size="5.4" textLength="10" lengthAdjust="spacingAndGlyphs" font-weight="bold" fill="#3a3a3a" stroke="#3a3a3a" stroke-width="0.14" >DW</text>
<text x="498" y="1000.3" font-size="4.8" textLength="14.5" lengthAdjust="spacingAndGlyphs" font-weight="bold" fill="#3a3a3a" stroke="#3a3a3a" stroke-width="0.12" >SINK</text>
<text x="394" y="1029.5" font-size="5" textLength="12" lengthAdjust="spacingAndGlyphs" font-weight="bold" fill="#3a3a3a" stroke="#3a3a3a" stroke-width="0.13" >AHU</text>
<text x="398" y="1056" font-size="5.2" textLength="6" lengthAdjust="spacingAndGlyphs" font-weight="bold" fill="#3a3a3a" stroke="#3a3a3a" stroke-width="0.14" >W</text>
<text x="281" y="754.5" font-size="5.2" textLength="11" lengthAdjust="spacingAndGlyphs" font-weight="bold" fill="#3a3a3a" stroke="#3a3a3a" stroke-width="0.14" >WH</text>
<text x="286.5" y="635.5" font-size="4.8" textLength="12" lengthAdjust="spacingAndGlyphs" font-weight="bold" fill="#3a3a3a" stroke="#3a3a3a" stroke-width="0.12" >AHU</text>
<text x="286.5" y="654.5" font-size="4.8" textLength="12" lengthAdjust="spacingAndGlyphs" font-weight="bold" fill="#3a3a3a" stroke="#3a3a3a" stroke-width="0.12" >AHU</text>
<text x="247.5" y="711.5" font-size="4.8" textLength="3.2" lengthAdjust="spacingAndGlyphs" font-weight="bold" fill="#3a3a3a" stroke="#3a3a3a" stroke-width="0.12" >D</text>
<text x="265" y="711.5" font-size="4.8" textLength="5" lengthAdjust="spacingAndGlyphs" font-weight="bold" fill="#3a3a3a" stroke="#3a3a3a" stroke-width="0.12" >W</text>
<text x="333" y="583.5" font-size="4.4" textLength="16.5" lengthAdjust="spacingAndGlyphs" font-weight="bold" fill="#3a3a3a" stroke="#3a3a3a" stroke-width="0.11" >NICHE</text>
<text x="333" y="612.5" font-size="4.4" textLength="16.5" lengthAdjust="spacingAndGlyphs" font-weight="bold" fill="#3a3a3a" stroke="#3a3a3a" stroke-width="0.11" >NICHE</text>
</svg>
</body></html>
